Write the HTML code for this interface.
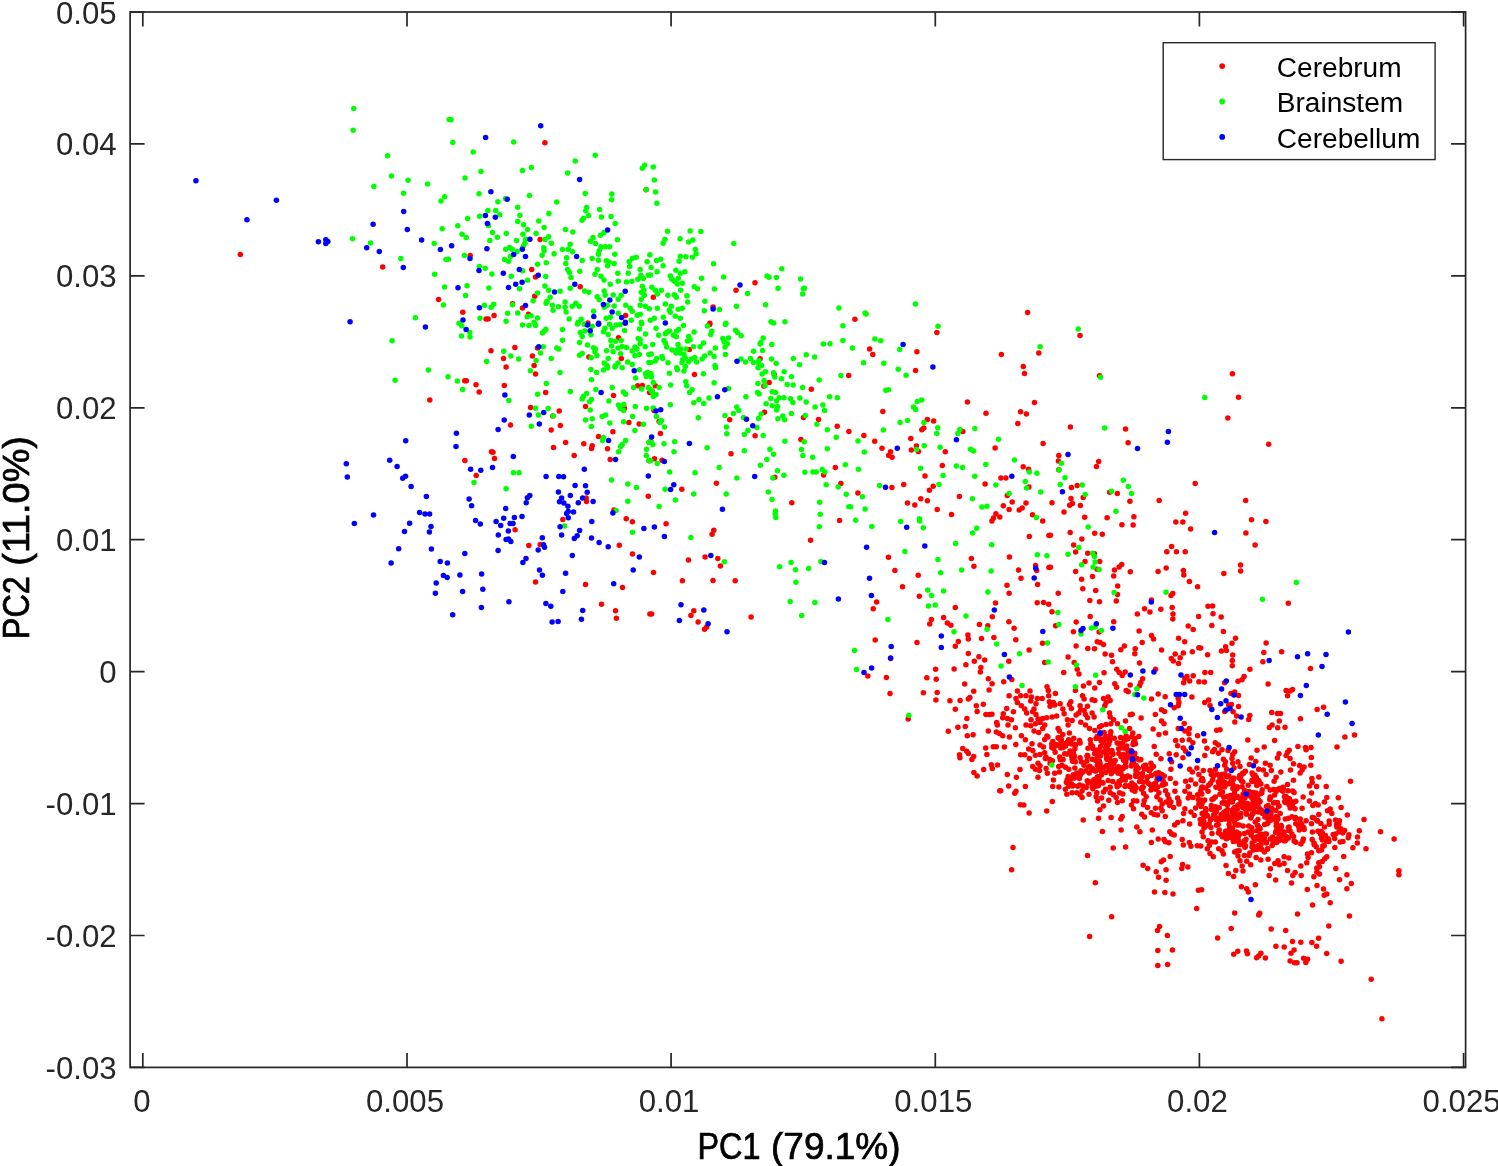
<!DOCTYPE html>
<html><head><meta charset="utf-8"><title>PCA</title>
<style>html,body{margin:0;padding:0;background:#fff}svg{display:block}text{font-family:"Liberation Sans",sans-serif}</style></head>
<body>
<svg width="1498" height="1166" viewBox="0 0 1498 1166">
<rect width="1498" height="1166" fill="#fff"/>
<g fill="#f00">
<circle cx="240.3" cy="254.4" r="2.75"/>
<circle cx="382.7" cy="267.0" r="2.75"/>
<circle cx="438.6" cy="299.5" r="2.75"/>
<circle cx="544.9" cy="142.7" r="2.75"/>
<circle cx="646.1" cy="189.7" r="2.75"/>
<circle cx="540.1" cy="239.4" r="2.75"/>
<circle cx="470.2" cy="255.4" r="2.75"/>
<circle cx="531.7" cy="269.6" r="2.75"/>
<circle cx="535.5" cy="276.9" r="2.75"/>
<circle cx="736.0" cy="290.3" r="2.75"/>
<circle cx="580.2" cy="286.7" r="2.75"/>
<circle cx="653.3" cy="297.3" r="2.75"/>
<circle cx="534.7" cy="296.3" r="2.75"/>
<circle cx="625.6" cy="315.5" r="2.75"/>
<circle cx="713.1" cy="307.1" r="2.75"/>
<circle cx="709.8" cy="323.3" r="2.75"/>
<circle cx="462.8" cy="312.3" r="2.75"/>
<circle cx="486.1" cy="318.9" r="2.75"/>
<circle cx="488.1" cy="318.9" r="2.75"/>
<circle cx="494.1" cy="315.5" r="2.75"/>
<circle cx="512.5" cy="303.7" r="2.75"/>
<circle cx="522.5" cy="307.9" r="2.75"/>
<circle cx="528.5" cy="314.3" r="2.75"/>
<circle cx="587.8" cy="322.9" r="2.75"/>
<circle cx="755.0" cy="282.7" r="2.75"/>
<circle cx="854.9" cy="319.3" r="2.75"/>
<circle cx="1027.6" cy="312.5" r="2.75"/>
<circle cx="429.8" cy="400.1" r="2.75"/>
<circle cx="618.5" cy="337.7" r="2.75"/>
<circle cx="588.9" cy="357.1" r="2.75"/>
<circle cx="621.3" cy="358.6" r="2.75"/>
<circle cx="514.9" cy="347.4" r="2.75"/>
<circle cx="491.0" cy="350.8" r="2.75"/>
<circle cx="503.5" cy="358.6" r="2.75"/>
<circle cx="506.1" cy="367.1" r="2.75"/>
<circle cx="537.5" cy="348.1" r="2.75"/>
<circle cx="532.4" cy="356.0" r="2.75"/>
<circle cx="534.1" cy="365.5" r="2.75"/>
<circle cx="535.5" cy="374.1" r="2.75"/>
<circle cx="464.7" cy="380.7" r="2.75"/>
<circle cx="466.3" cy="380.7" r="2.75"/>
<circle cx="476.0" cy="384.8" r="2.75"/>
<circle cx="479.2" cy="392.0" r="2.75"/>
<circle cx="504.3" cy="385.6" r="2.75"/>
<circle cx="545.6" cy="392.4" r="2.75"/>
<circle cx="530.6" cy="407.5" r="2.75"/>
<circle cx="559.2" cy="411.0" r="2.75"/>
<circle cx="552.8" cy="416.1" r="2.75"/>
<circle cx="510.5" cy="425.1" r="2.75"/>
<circle cx="560.3" cy="425.5" r="2.75"/>
<circle cx="551.2" cy="430.1" r="2.75"/>
<circle cx="491.4" cy="451.8" r="2.75"/>
<circle cx="493.0" cy="452.2" r="2.75"/>
<circle cx="494.5" cy="458.4" r="2.75"/>
<circle cx="464.9" cy="460.4" r="2.75"/>
<circle cx="476.2" cy="475.6" r="2.75"/>
<circle cx="565.6" cy="442.5" r="2.75"/>
<circle cx="553.5" cy="447.4" r="2.75"/>
<circle cx="574.2" cy="455.4" r="2.75"/>
<circle cx="583.8" cy="443.8" r="2.75"/>
<circle cx="592.2" cy="445.8" r="2.75"/>
<circle cx="591.5" cy="448.5" r="2.75"/>
<circle cx="613.5" cy="395.6" r="2.75"/>
<circle cx="585.5" cy="406.6" r="2.75"/>
<circle cx="624.4" cy="408.2" r="2.75"/>
<circle cx="637.6" cy="385.8" r="2.75"/>
<circle cx="642.3" cy="385.5" r="2.75"/>
<circle cx="649.6" cy="392.4" r="2.75"/>
<circle cx="628.9" cy="422.6" r="2.75"/>
<circle cx="639.2" cy="423.9" r="2.75"/>
<circle cx="612.9" cy="431.8" r="2.75"/>
<circle cx="598.5" cy="436.5" r="2.75"/>
<circle cx="607.5" cy="448.8" r="2.75"/>
<circle cx="610.2" cy="459.4" r="2.75"/>
<circle cx="649.2" cy="442.5" r="2.75"/>
<circle cx="649.2" cy="460.8" r="2.75"/>
<circle cx="689.4" cy="349.4" r="2.75"/>
<circle cx="655.3" cy="385.8" r="2.75"/>
<circle cx="652.0" cy="391.1" r="2.75"/>
<circle cx="694.5" cy="374.4" r="2.75"/>
<circle cx="709.7" cy="324.6" r="2.75"/>
<circle cx="760.1" cy="358.8" r="2.75"/>
<circle cx="774.2" cy="374.4" r="2.75"/>
<circle cx="769.2" cy="382.4" r="2.75"/>
<circle cx="763.9" cy="386.0" r="2.75"/>
<circle cx="848.7" cy="375.5" r="2.75"/>
<circle cx="811.3" cy="389.2" r="2.75"/>
<circle cx="654.0" cy="410.4" r="2.75"/>
<circle cx="659.1" cy="421.5" r="2.75"/>
<circle cx="660.4" cy="433.4" r="2.75"/>
<circle cx="650.7" cy="441.2" r="2.75"/>
<circle cx="764.4" cy="412.2" r="2.75"/>
<circle cx="729.7" cy="419.8" r="2.75"/>
<circle cx="755.1" cy="435.8" r="2.75"/>
<circle cx="803.5" cy="417.5" r="2.75"/>
<circle cx="818.5" cy="419.4" r="2.75"/>
<circle cx="837.2" cy="426.2" r="2.75"/>
<circle cx="848.9" cy="431.5" r="2.75"/>
<circle cx="800.9" cy="439.6" r="2.75"/>
<circle cx="731.0" cy="453.8" r="2.75"/>
<circle cx="654.4" cy="458.8" r="2.75"/>
<circle cx="662.0" cy="460.2" r="2.75"/>
<circle cx="774.8" cy="477.2" r="2.75"/>
<circle cx="823.6" cy="474.9" r="2.75"/>
<circle cx="835.3" cy="467.5" r="2.75"/>
<circle cx="936.9" cy="332.6" r="2.75"/>
<circle cx="869.6" cy="349.0" r="2.75"/>
<circle cx="872.8" cy="354.4" r="2.75"/>
<circle cx="916.9" cy="351.7" r="2.75"/>
<circle cx="915.5" cy="370.5" r="2.75"/>
<circle cx="1001.4" cy="354.6" r="2.75"/>
<circle cx="1038.8" cy="353.0" r="2.75"/>
<circle cx="1023.3" cy="366.4" r="2.75"/>
<circle cx="1024.5" cy="373.6" r="2.75"/>
<circle cx="882.8" cy="411.6" r="2.75"/>
<circle cx="967.4" cy="401.9" r="2.75"/>
<circle cx="1034.5" cy="402.6" r="2.75"/>
<circle cx="986.0" cy="413.2" r="2.75"/>
<circle cx="1020.6" cy="411.8" r="2.75"/>
<circle cx="1026.4" cy="414.1" r="2.75"/>
<circle cx="1017.8" cy="423.4" r="2.75"/>
<circle cx="927.3" cy="419.4" r="2.75"/>
<circle cx="933.6" cy="421.1" r="2.75"/>
<circle cx="923.8" cy="428.1" r="2.75"/>
<circle cx="921.8" cy="429.8" r="2.75"/>
<circle cx="962.8" cy="431.5" r="2.75"/>
<circle cx="863.9" cy="435.4" r="2.75"/>
<circle cx="874.7" cy="441.3" r="2.75"/>
<circle cx="910.8" cy="438.4" r="2.75"/>
<circle cx="882.0" cy="448.2" r="2.75"/>
<circle cx="890.5" cy="451.8" r="2.75"/>
<circle cx="888.7" cy="455.6" r="2.75"/>
<circle cx="892.1" cy="457.2" r="2.75"/>
<circle cx="916.4" cy="446.1" r="2.75"/>
<circle cx="911.3" cy="450.1" r="2.75"/>
<circle cx="918.4" cy="451.4" r="2.75"/>
<circle cx="945.3" cy="451.7" r="2.75"/>
<circle cx="995.1" cy="448.1" r="2.75"/>
<circle cx="1043.1" cy="443.4" r="2.75"/>
<circle cx="942.3" cy="465.6" r="2.75"/>
<circle cx="1023.2" cy="466.8" r="2.75"/>
<circle cx="1028.6" cy="469.2" r="2.75"/>
<circle cx="925.0" cy="476.1" r="2.75"/>
<circle cx="1000.9" cy="477.9" r="2.75"/>
<circle cx="1005.9" cy="477.9" r="2.75"/>
<circle cx="1080.0" cy="335.6" r="2.75"/>
<circle cx="1099.5" cy="375.7" r="2.75"/>
<circle cx="1232.4" cy="373.7" r="2.75"/>
<circle cx="1238.5" cy="397.3" r="2.75"/>
<circle cx="1227.8" cy="418.1" r="2.75"/>
<circle cx="1070.4" cy="426.9" r="2.75"/>
<circle cx="1125.5" cy="429.1" r="2.75"/>
<circle cx="1128.1" cy="442.8" r="2.75"/>
<circle cx="1268.7" cy="444.2" r="2.75"/>
<circle cx="1058.8" cy="455.4" r="2.75"/>
<circle cx="1058.4" cy="461.0" r="2.75"/>
<circle cx="1098.7" cy="461.4" r="2.75"/>
<circle cx="1096.5" cy="466.6" r="2.75"/>
<circle cx="1058.8" cy="469.8" r="2.75"/>
<circle cx="1071.4" cy="487.6" r="2.75"/>
<circle cx="1077.2" cy="485.4" r="2.75"/>
<circle cx="1109.7" cy="492.2" r="2.75"/>
<circle cx="1117.3" cy="493.4" r="2.75"/>
<circle cx="1083.2" cy="497.6" r="2.75"/>
<circle cx="1071.0" cy="498.6" r="2.75"/>
<circle cx="1052.0" cy="502.8" r="2.75"/>
<circle cx="1072.4" cy="503.6" r="2.75"/>
<circle cx="1069.6" cy="505.2" r="2.75"/>
<circle cx="1080.4" cy="505.6" r="2.75"/>
<circle cx="1129.9" cy="501.2" r="2.75"/>
<circle cx="1159.2" cy="500.6" r="2.75"/>
<circle cx="1195.2" cy="483.4" r="2.75"/>
<circle cx="1245.7" cy="500.4" r="2.75"/>
<circle cx="1064.0" cy="512.0" r="2.75"/>
<circle cx="1084.7" cy="517.3" r="2.75"/>
<circle cx="1107.1" cy="517.7" r="2.75"/>
<circle cx="1133.9" cy="516.7" r="2.75"/>
<circle cx="1185.6" cy="513.2" r="2.75"/>
<circle cx="1175.8" cy="521.9" r="2.75"/>
<circle cx="1182.8" cy="521.9" r="2.75"/>
<circle cx="1251.5" cy="519.7" r="2.75"/>
<circle cx="1265.9" cy="521.5" r="2.75"/>
<circle cx="1121.9" cy="524.7" r="2.75"/>
<circle cx="1133.1" cy="524.9" r="2.75"/>
<circle cx="1190.6" cy="528.9" r="2.75"/>
<circle cx="1245.9" cy="532.9" r="2.75"/>
<circle cx="1070.2" cy="532.5" r="2.75"/>
<circle cx="1094.7" cy="533.3" r="2.75"/>
<circle cx="1102.3" cy="534.3" r="2.75"/>
<circle cx="1050.4" cy="535.3" r="2.75"/>
<circle cx="1081.8" cy="538.9" r="2.75"/>
<circle cx="1255.1" cy="544.9" r="2.75"/>
<circle cx="1073.6" cy="545.1" r="2.75"/>
<circle cx="1171.6" cy="546.5" r="2.75"/>
<circle cx="1166.8" cy="551.7" r="2.75"/>
<circle cx="1176.4" cy="551.7" r="2.75"/>
<circle cx="1185.2" cy="551.7" r="2.75"/>
<circle cx="1075.6" cy="552.1" r="2.75"/>
<circle cx="1087.7" cy="553.3" r="2.75"/>
<circle cx="1094.5" cy="553.7" r="2.75"/>
<circle cx="586.2" cy="498.0" r="2.75"/>
<circle cx="586.5" cy="501.4" r="2.75"/>
<circle cx="562.8" cy="519.5" r="2.75"/>
<circle cx="619.3" cy="545.2" r="2.75"/>
<circle cx="648.3" cy="496.3" r="2.75"/>
<circle cx="614.0" cy="510.0" r="2.75"/>
<circle cx="626.2" cy="518.7" r="2.75"/>
<circle cx="632.4" cy="521.8" r="2.75"/>
<circle cx="632.5" cy="554.1" r="2.75"/>
<circle cx="515.1" cy="529.7" r="2.75"/>
<circle cx="528.8" cy="545.4" r="2.75"/>
<circle cx="540.2" cy="544.5" r="2.75"/>
<circle cx="535.5" cy="582.1" r="2.75"/>
<circle cx="585.5" cy="584.5" r="2.75"/>
<circle cx="622.5" cy="587.6" r="2.75"/>
<circle cx="601.5" cy="604.2" r="2.75"/>
<circle cx="615.5" cy="610.7" r="2.75"/>
<circle cx="616.4" cy="618.3" r="2.75"/>
<circle cx="649.9" cy="613.9" r="2.75"/>
<circle cx="681.8" cy="489.2" r="2.75"/>
<circle cx="716.4" cy="483.3" r="2.75"/>
<circle cx="666.1" cy="523.8" r="2.75"/>
<circle cx="713.8" cy="530.2" r="2.75"/>
<circle cx="712.1" cy="534.3" r="2.75"/>
<circle cx="791.8" cy="502.7" r="2.75"/>
<circle cx="840.9" cy="483.6" r="2.75"/>
<circle cx="839.5" cy="520.6" r="2.75"/>
<circle cx="810.6" cy="540.2" r="2.75"/>
<circle cx="688.5" cy="560.1" r="2.75"/>
<circle cx="705.1" cy="556.9" r="2.75"/>
<circle cx="717.8" cy="558.5" r="2.75"/>
<circle cx="720.4" cy="566.0" r="2.75"/>
<circle cx="653.5" cy="572.5" r="2.75"/>
<circle cx="682.4" cy="580.7" r="2.75"/>
<circle cx="713.0" cy="580.4" r="2.75"/>
<circle cx="735.2" cy="580.7" r="2.75"/>
<circle cx="751.1" cy="616.9" r="2.75"/>
<circle cx="693.8" cy="610.8" r="2.75"/>
<circle cx="690.9" cy="615.6" r="2.75"/>
<circle cx="651.6" cy="614.0" r="2.75"/>
<circle cx="698.1" cy="621.9" r="2.75"/>
<circle cx="706.7" cy="626.9" r="2.75"/>
<circle cx="704.5" cy="629.3" r="2.75"/>
<circle cx="891.9" cy="487.4" r="2.75"/>
<circle cx="903.7" cy="484.4" r="2.75"/>
<circle cx="857.9" cy="492.9" r="2.75"/>
<circle cx="933.2" cy="486.3" r="2.75"/>
<circle cx="929.4" cy="490.3" r="2.75"/>
<circle cx="920.8" cy="498.7" r="2.75"/>
<circle cx="927.4" cy="500.8" r="2.75"/>
<circle cx="907.5" cy="503.0" r="2.75"/>
<circle cx="914.8" cy="505.0" r="2.75"/>
<circle cx="937.2" cy="509.6" r="2.75"/>
<circle cx="951.5" cy="514.5" r="2.75"/>
<circle cx="959.4" cy="496.4" r="2.75"/>
<circle cx="985.1" cy="484.1" r="2.75"/>
<circle cx="1028.9" cy="487.1" r="2.75"/>
<circle cx="1007.3" cy="495.6" r="2.75"/>
<circle cx="1012.2" cy="502.0" r="2.75"/>
<circle cx="1026.0" cy="503.1" r="2.75"/>
<circle cx="1003.3" cy="505.8" r="2.75"/>
<circle cx="1009.1" cy="509.5" r="2.75"/>
<circle cx="1022.2" cy="508.0" r="2.75"/>
<circle cx="1019.2" cy="510.0" r="2.75"/>
<circle cx="995.9" cy="513.8" r="2.75"/>
<circle cx="999.8" cy="516.9" r="2.75"/>
<circle cx="993.5" cy="517.9" r="2.75"/>
<circle cx="991.9" cy="520.9" r="2.75"/>
<circle cx="1032.5" cy="514.7" r="2.75"/>
<circle cx="1042.7" cy="521.1" r="2.75"/>
<circle cx="1029.3" cy="536.6" r="2.75"/>
<circle cx="1048.9" cy="535.4" r="2.75"/>
<circle cx="888.5" cy="557.3" r="2.75"/>
<circle cx="971.4" cy="558.5" r="2.75"/>
<circle cx="973.9" cy="566.2" r="2.75"/>
<circle cx="1009.4" cy="557.0" r="2.75"/>
<circle cx="894.9" cy="570.5" r="2.75"/>
<circle cx="918.2" cy="575.2" r="2.75"/>
<circle cx="1018.5" cy="570.1" r="2.75"/>
<circle cx="1035.6" cy="565.5" r="2.75"/>
<circle cx="1036.7" cy="570.5" r="2.75"/>
<circle cx="1048.9" cy="567.5" r="2.75"/>
<circle cx="1021.0" cy="578.3" r="2.75"/>
<circle cx="1037.6" cy="584.4" r="2.75"/>
<circle cx="902.5" cy="586.7" r="2.75"/>
<circle cx="1007.0" cy="585.3" r="2.75"/>
<circle cx="919.3" cy="596.3" r="2.75"/>
<circle cx="1009.1" cy="593.2" r="2.75"/>
<circle cx="876.6" cy="601.9" r="2.75"/>
<circle cx="873.2" cy="608.7" r="2.75"/>
<circle cx="955.3" cy="607.4" r="2.75"/>
<circle cx="995.5" cy="603.0" r="2.75"/>
<circle cx="1037.2" cy="602.8" r="2.75"/>
<circle cx="1043.6" cy="602.6" r="2.75"/>
<circle cx="1048.7" cy="604.2" r="2.75"/>
<circle cx="992.3" cy="616.7" r="2.75"/>
<circle cx="931.4" cy="619.5" r="2.75"/>
<circle cx="929.7" cy="623.9" r="2.75"/>
<circle cx="943.6" cy="617.4" r="2.75"/>
<circle cx="947.3" cy="622.9" r="2.75"/>
<circle cx="950.9" cy="625.3" r="2.75"/>
<circle cx="979.4" cy="624.5" r="2.75"/>
<circle cx="987.8" cy="625.8" r="2.75"/>
<circle cx="1008.9" cy="621.8" r="2.75"/>
<circle cx="1014.1" cy="628.2" r="2.75"/>
<circle cx="967.9" cy="635.0" r="2.75"/>
<circle cx="968.3" cy="639.0" r="2.75"/>
<circle cx="875.2" cy="640.0" r="2.75"/>
<circle cx="917.0" cy="642.4" r="2.75"/>
<circle cx="958.3" cy="641.4" r="2.75"/>
<circle cx="955.3" cy="646.2" r="2.75"/>
<circle cx="981.5" cy="638.4" r="2.75"/>
<circle cx="993.9" cy="637.6" r="2.75"/>
<circle cx="890.6" cy="658.4" r="2.75"/>
<circle cx="867.8" cy="675.9" r="2.75"/>
<circle cx="886.4" cy="677.5" r="2.75"/>
<circle cx="890.0" cy="693.5" r="2.75"/>
<circle cx="935.6" cy="669.2" r="2.75"/>
<circle cx="926.8" cy="677.7" r="2.75"/>
<circle cx="936.2" cy="679.3" r="2.75"/>
<circle cx="923.4" cy="692.7" r="2.75"/>
<circle cx="937.2" cy="692.5" r="2.75"/>
<circle cx="935.9" cy="699.9" r="2.75"/>
<circle cx="954.1" cy="668.9" r="2.75"/>
<circle cx="965.9" cy="664.8" r="2.75"/>
<circle cx="968.3" cy="653.4" r="2.75"/>
<circle cx="978.9" cy="656.8" r="2.75"/>
<circle cx="974.3" cy="661.2" r="2.75"/>
<circle cx="984.7" cy="660.0" r="2.75"/>
<circle cx="980.9" cy="667.5" r="2.75"/>
<circle cx="980.3" cy="672.0" r="2.75"/>
<circle cx="988.3" cy="678.7" r="2.75"/>
<circle cx="992.1" cy="683.7" r="2.75"/>
<circle cx="964.7" cy="683.9" r="2.75"/>
<circle cx="973.7" cy="691.3" r="2.75"/>
<circle cx="989.1" cy="689.9" r="2.75"/>
<circle cx="968.3" cy="699.1" r="2.75"/>
<circle cx="969.9" cy="697.5" r="2.75"/>
<circle cx="949.9" cy="700.7" r="2.75"/>
<circle cx="960.1" cy="700.5" r="2.75"/>
<circle cx="976.3" cy="705.7" r="2.75"/>
<circle cx="983.3" cy="704.3" r="2.75"/>
<circle cx="955.3" cy="709.3" r="2.75"/>
<circle cx="977.1" cy="711.5" r="2.75"/>
<circle cx="985.9" cy="714.5" r="2.75"/>
<circle cx="989.3" cy="714.5" r="2.75"/>
<circle cx="991.9" cy="714.3" r="2.75"/>
<circle cx="966.9" cy="718.5" r="2.75"/>
<circle cx="908.2" cy="719.1" r="2.75"/>
<circle cx="957.9" cy="727.3" r="2.75"/>
<circle cx="965.3" cy="726.5" r="2.75"/>
<circle cx="948.3" cy="731.3" r="2.75"/>
<circle cx="967.3" cy="735.7" r="2.75"/>
<circle cx="973.1" cy="734.7" r="2.75"/>
<circle cx="988.3" cy="731.1" r="2.75"/>
<circle cx="996.7" cy="722.5" r="2.75"/>
<circle cx="997.3" cy="725.1" r="2.75"/>
<circle cx="996.3" cy="732.1" r="2.75"/>
<circle cx="999.3" cy="733.5" r="2.75"/>
<circle cx="962.7" cy="748.5" r="2.75"/>
<circle cx="966.7" cy="751.2" r="2.75"/>
<circle cx="968.3" cy="753.6" r="2.75"/>
<circle cx="959.5" cy="754.8" r="2.75"/>
<circle cx="959.9" cy="757.8" r="2.75"/>
<circle cx="973.7" cy="756.4" r="2.75"/>
<circle cx="971.9" cy="759.6" r="2.75"/>
<circle cx="985.7" cy="748.1" r="2.75"/>
<circle cx="986.9" cy="754.4" r="2.75"/>
<circle cx="993.3" cy="746.8" r="2.75"/>
<circle cx="996.3" cy="746.8" r="2.75"/>
<circle cx="991.3" cy="764.8" r="2.75"/>
<circle cx="997.5" cy="765.0" r="2.75"/>
<circle cx="992.3" cy="768.6" r="2.75"/>
<circle cx="983.7" cy="769.6" r="2.75"/>
<circle cx="973.9" cy="772.4" r="2.75"/>
<circle cx="977.1" cy="776.0" r="2.75"/>
<circle cx="999.7" cy="790.8" r="2.75"/>
<circle cx="1085.0" cy="561.4" r="2.75"/>
<circle cx="1099.7" cy="561.6" r="2.75"/>
<circle cx="1097.1" cy="569.2" r="2.75"/>
<circle cx="1050.4" cy="567.2" r="2.75"/>
<circle cx="1075.6" cy="571.6" r="2.75"/>
<circle cx="1121.7" cy="564.4" r="2.75"/>
<circle cx="1119.1" cy="567.0" r="2.75"/>
<circle cx="1114.5" cy="570.0" r="2.75"/>
<circle cx="1130.3" cy="571.8" r="2.75"/>
<circle cx="1113.7" cy="576.0" r="2.75"/>
<circle cx="1092.5" cy="576.6" r="2.75"/>
<circle cx="1081.6" cy="579.2" r="2.75"/>
<circle cx="1117.7" cy="586.0" r="2.75"/>
<circle cx="1082.8" cy="588.8" r="2.75"/>
<circle cx="1095.7" cy="590.6" r="2.75"/>
<circle cx="1117.5" cy="594.5" r="2.75"/>
<circle cx="1058.2" cy="593.2" r="2.75"/>
<circle cx="1089.8" cy="600.5" r="2.75"/>
<circle cx="1099.5" cy="601.7" r="2.75"/>
<circle cx="1116.3" cy="601.1" r="2.75"/>
<circle cx="1166.2" cy="568.0" r="2.75"/>
<circle cx="1158.1" cy="571.6" r="2.75"/>
<circle cx="1183.4" cy="570.4" r="2.75"/>
<circle cx="1183.8" cy="575.0" r="2.75"/>
<circle cx="1189.4" cy="581.4" r="2.75"/>
<circle cx="1197.6" cy="586.8" r="2.75"/>
<circle cx="1223.8" cy="573.6" r="2.75"/>
<circle cx="1240.5" cy="565.0" r="2.75"/>
<circle cx="1240.7" cy="571.0" r="2.75"/>
<circle cx="1172.8" cy="593.5" r="2.75"/>
<circle cx="1171.0" cy="595.6" r="2.75"/>
<circle cx="1151.5" cy="600.1" r="2.75"/>
<circle cx="1288.3" cy="603.3" r="2.75"/>
<circle cx="1172.2" cy="607.5" r="2.75"/>
<circle cx="1160.8" cy="609.3" r="2.75"/>
<circle cx="1144.5" cy="608.7" r="2.75"/>
<circle cx="1149.9" cy="611.9" r="2.75"/>
<circle cx="1137.3" cy="614.1" r="2.75"/>
<circle cx="1173.0" cy="614.1" r="2.75"/>
<circle cx="1172.8" cy="618.9" r="2.75"/>
<circle cx="1208.0" cy="606.3" r="2.75"/>
<circle cx="1212.6" cy="605.9" r="2.75"/>
<circle cx="1213.0" cy="613.7" r="2.75"/>
<circle cx="1198.6" cy="616.5" r="2.75"/>
<circle cx="1221.2" cy="617.1" r="2.75"/>
<circle cx="1052.0" cy="611.7" r="2.75"/>
<circle cx="1090.2" cy="616.5" r="2.75"/>
<circle cx="1076.2" cy="621.9" r="2.75"/>
<circle cx="1113.7" cy="621.7" r="2.75"/>
<circle cx="1055.6" cy="625.7" r="2.75"/>
<circle cx="1073.4" cy="631.7" r="2.75"/>
<circle cx="1139.1" cy="631.1" r="2.75"/>
<circle cx="1188.2" cy="626.1" r="2.75"/>
<circle cx="1193.2" cy="629.5" r="2.75"/>
<circle cx="1211.8" cy="625.5" r="2.75"/>
<circle cx="1223.4" cy="631.5" r="2.75"/>
<circle cx="1099.1" cy="632.1" r="2.75"/>
<circle cx="1015.8" cy="639.7" r="2.75"/>
<circle cx="1151.5" cy="635.4" r="2.75"/>
<circle cx="1153.5" cy="639.0" r="2.75"/>
<circle cx="1178.6" cy="638.3" r="2.75"/>
<circle cx="1184.7" cy="641.7" r="2.75"/>
<circle cx="1042.5" cy="643.3" r="2.75"/>
<circle cx="1076.1" cy="646.0" r="2.75"/>
<circle cx="1097.2" cy="641.7" r="2.75"/>
<circle cx="1100.1" cy="642.6" r="2.75"/>
<circle cx="1103.5" cy="644.4" r="2.75"/>
<circle cx="1087.8" cy="648.4" r="2.75"/>
<circle cx="1094.5" cy="648.8" r="2.75"/>
<circle cx="1124.4" cy="646.0" r="2.75"/>
<circle cx="1120.8" cy="649.7" r="2.75"/>
<circle cx="1142.2" cy="642.6" r="2.75"/>
<circle cx="1135.2" cy="648.8" r="2.75"/>
<circle cx="1134.8" cy="653.7" r="2.75"/>
<circle cx="1161.5" cy="650.1" r="2.75"/>
<circle cx="1192.3" cy="651.7" r="2.75"/>
<circle cx="1198.9" cy="647.7" r="2.75"/>
<circle cx="1183.3" cy="653.0" r="2.75"/>
<circle cx="1175.2" cy="654.1" r="2.75"/>
<circle cx="1180.2" cy="657.7" r="2.75"/>
<circle cx="1171.3" cy="658.4" r="2.75"/>
<circle cx="1173.3" cy="661.0" r="2.75"/>
<circle cx="1178.5" cy="663.4" r="2.75"/>
<circle cx="1029.1" cy="650.0" r="2.75"/>
<circle cx="1008.8" cy="661.3" r="2.75"/>
<circle cx="1044.7" cy="662.6" r="2.75"/>
<circle cx="1068.1" cy="657.0" r="2.75"/>
<circle cx="1074.2" cy="662.6" r="2.75"/>
<circle cx="1077.2" cy="669.3" r="2.75"/>
<circle cx="1079.0" cy="674.0" r="2.75"/>
<circle cx="1063.7" cy="672.6" r="2.75"/>
<circle cx="1105.2" cy="654.0" r="2.75"/>
<circle cx="1111.5" cy="655.3" r="2.75"/>
<circle cx="1112.5" cy="661.8" r="2.75"/>
<circle cx="1139.5" cy="663.0" r="2.75"/>
<circle cx="1116.8" cy="669.3" r="2.75"/>
<circle cx="1119.2" cy="672.6" r="2.75"/>
<circle cx="1125.2" cy="672.1" r="2.75"/>
<circle cx="1122.2" cy="675.5" r="2.75"/>
<circle cx="1155.5" cy="669.3" r="2.75"/>
<circle cx="1186.9" cy="676.4" r="2.75"/>
<circle cx="1193.2" cy="675.7" r="2.75"/>
<circle cx="1184.9" cy="678.4" r="2.75"/>
<circle cx="1189.6" cy="681.1" r="2.75"/>
<circle cx="1183.6" cy="682.7" r="2.75"/>
<circle cx="1198.9" cy="681.7" r="2.75"/>
<circle cx="1104.1" cy="672.8" r="2.75"/>
<circle cx="1011.8" cy="679.5" r="2.75"/>
<circle cx="1003.7" cy="681.7" r="2.75"/>
<circle cx="1047.0" cy="686.8" r="2.75"/>
<circle cx="1048.3" cy="690.4" r="2.75"/>
<circle cx="1089.0" cy="683.1" r="2.75"/>
<circle cx="1099.5" cy="682.4" r="2.75"/>
<circle cx="1083.4" cy="686.1" r="2.75"/>
<circle cx="1075.4" cy="690.4" r="2.75"/>
<circle cx="1094.8" cy="688.1" r="2.75"/>
<circle cx="1114.8" cy="683.7" r="2.75"/>
<circle cx="1116.6" cy="687.3" r="2.75"/>
<circle cx="1130.2" cy="685.1" r="2.75"/>
<circle cx="1126.2" cy="690.4" r="2.75"/>
<circle cx="1128.2" cy="691.7" r="2.75"/>
<circle cx="1142.6" cy="678.8" r="2.75"/>
<circle cx="1140.8" cy="682.4" r="2.75"/>
<circle cx="1139.5" cy="685.7" r="2.75"/>
<circle cx="1151.5" cy="699.1" r="2.75"/>
<circle cx="1158.2" cy="694.0" r="2.75"/>
<circle cx="1165.2" cy="696.7" r="2.75"/>
<circle cx="1191.9" cy="697.1" r="2.75"/>
<circle cx="1178.2" cy="698.4" r="2.75"/>
<circle cx="1178.9" cy="702.4" r="2.75"/>
<circle cx="1178.2" cy="705.8" r="2.75"/>
<circle cx="1174.2" cy="707.8" r="2.75"/>
<circle cx="1161.5" cy="709.8" r="2.75"/>
<circle cx="1164.6" cy="711.4" r="2.75"/>
<circle cx="1155.3" cy="714.4" r="2.75"/>
<circle cx="1141.1" cy="718.0" r="2.75"/>
<circle cx="1130.2" cy="714.7" r="2.75"/>
<circle cx="1132.2" cy="714.2" r="2.75"/>
<circle cx="1125.5" cy="720.9" r="2.75"/>
<circle cx="1161.5" cy="721.1" r="2.75"/>
<circle cx="1164.0" cy="723.8" r="2.75"/>
<circle cx="1184.2" cy="723.5" r="2.75"/>
<circle cx="1178.2" cy="728.5" r="2.75"/>
<circle cx="1189.3" cy="728.5" r="2.75"/>
<circle cx="1184.9" cy="731.1" r="2.75"/>
<circle cx="1188.9" cy="733.8" r="2.75"/>
<circle cx="1153.1" cy="728.9" r="2.75"/>
<circle cx="1158.9" cy="734.5" r="2.75"/>
<circle cx="1165.5" cy="733.1" r="2.75"/>
<circle cx="1197.6" cy="735.8" r="2.75"/>
<circle cx="1175.6" cy="740.5" r="2.75"/>
<circle cx="1182.2" cy="740.2" r="2.75"/>
<circle cx="1189.3" cy="739.8" r="2.75"/>
<circle cx="1192.9" cy="742.8" r="2.75"/>
<circle cx="1177.6" cy="745.8" r="2.75"/>
<circle cx="1183.3" cy="748.1" r="2.75"/>
<circle cx="1185.6" cy="751.2" r="2.75"/>
<circle cx="1154.2" cy="746.5" r="2.75"/>
<circle cx="1156.2" cy="754.2" r="2.75"/>
<circle cx="1160.9" cy="758.8" r="2.75"/>
<circle cx="1169.3" cy="753.8" r="2.75"/>
<circle cx="1176.2" cy="754.8" r="2.75"/>
<circle cx="1171.6" cy="761.8" r="2.75"/>
<circle cx="1182.9" cy="757.8" r="2.75"/>
<circle cx="1170.9" cy="769.2" r="2.75"/>
<circle cx="1189.6" cy="769.2" r="2.75"/>
<circle cx="1192.3" cy="771.9" r="2.75"/>
<circle cx="1196.9" cy="767.9" r="2.75"/>
<circle cx="1198.9" cy="774.5" r="2.75"/>
<circle cx="1150.9" cy="763.2" r="2.75"/>
<circle cx="1153.5" cy="766.5" r="2.75"/>
<circle cx="1140.8" cy="759.6" r="2.75"/>
<circle cx="1134.8" cy="753.2" r="2.75"/>
<circle cx="1017.4" cy="691.1" r="2.75"/>
<circle cx="1030.0" cy="691.1" r="2.75"/>
<circle cx="1009.1" cy="695.8" r="2.75"/>
<circle cx="1020.7" cy="695.8" r="2.75"/>
<circle cx="1026.0" cy="695.8" r="2.75"/>
<circle cx="1031.4" cy="697.1" r="2.75"/>
<circle cx="1037.4" cy="698.4" r="2.75"/>
<circle cx="1042.1" cy="698.4" r="2.75"/>
<circle cx="1016.0" cy="698.4" r="2.75"/>
<circle cx="1048.7" cy="695.8" r="2.75"/>
<circle cx="1055.4" cy="693.4" r="2.75"/>
<circle cx="1082.5" cy="695.8" r="2.75"/>
<circle cx="1084.1" cy="699.1" r="2.75"/>
<circle cx="1092.1" cy="699.8" r="2.75"/>
<circle cx="1094.8" cy="700.4" r="2.75"/>
<circle cx="1103.5" cy="698.4" r="2.75"/>
<circle cx="1108.1" cy="697.1" r="2.75"/>
<circle cx="1110.2" cy="700.4" r="2.75"/>
<circle cx="1106.1" cy="702.4" r="2.75"/>
<circle cx="1104.8" cy="705.8" r="2.75"/>
<circle cx="1070.8" cy="701.8" r="2.75"/>
<circle cx="1069.4" cy="704.4" r="2.75"/>
<circle cx="1071.4" cy="708.4" r="2.75"/>
<circle cx="1080.1" cy="705.8" r="2.75"/>
<circle cx="1080.8" cy="709.8" r="2.75"/>
<circle cx="1087.5" cy="706.2" r="2.75"/>
<circle cx="1049.4" cy="701.8" r="2.75"/>
<circle cx="1053.4" cy="702.4" r="2.75"/>
<circle cx="1050.1" cy="706.2" r="2.75"/>
<circle cx="1054.7" cy="705.1" r="2.75"/>
<circle cx="1060.1" cy="703.8" r="2.75"/>
<circle cx="1062.8" cy="709.1" r="2.75"/>
<circle cx="1064.1" cy="713.8" r="2.75"/>
<circle cx="1017.4" cy="702.4" r="2.75"/>
<circle cx="1021.4" cy="705.8" r="2.75"/>
<circle cx="1024.7" cy="709.1" r="2.75"/>
<circle cx="1026.7" cy="713.1" r="2.75"/>
<circle cx="1030.7" cy="701.1" r="2.75"/>
<circle cx="1036.0" cy="703.8" r="2.75"/>
<circle cx="1034.0" cy="709.1" r="2.75"/>
<circle cx="1032.7" cy="711.8" r="2.75"/>
<circle cx="1036.0" cy="714.4" r="2.75"/>
<circle cx="1006.7" cy="708.4" r="2.75"/>
<circle cx="1013.4" cy="711.8" r="2.75"/>
<circle cx="1003.3" cy="713.8" r="2.75"/>
<circle cx="1002.7" cy="717.8" r="2.75"/>
<circle cx="1007.3" cy="718.5" r="2.75"/>
<circle cx="1011.4" cy="719.8" r="2.75"/>
<circle cx="1008.0" cy="725.1" r="2.75"/>
<circle cx="1015.4" cy="727.8" r="2.75"/>
<circle cx="1031.0" cy="719.8" r="2.75"/>
<circle cx="1038.0" cy="719.1" r="2.75"/>
<circle cx="1042.7" cy="718.5" r="2.75"/>
<circle cx="1046.7" cy="717.8" r="2.75"/>
<circle cx="1052.1" cy="717.1" r="2.75"/>
<circle cx="1056.7" cy="716.0" r="2.75"/>
<circle cx="1026.0" cy="725.1" r="2.75"/>
<circle cx="1030.7" cy="725.8" r="2.75"/>
<circle cx="1035.4" cy="723.8" r="2.75"/>
<circle cx="1040.0" cy="722.5" r="2.75"/>
<circle cx="1044.7" cy="725.1" r="2.75"/>
<circle cx="1042.7" cy="728.5" r="2.75"/>
<circle cx="1038.7" cy="732.5" r="2.75"/>
<circle cx="1034.0" cy="731.1" r="2.75"/>
<circle cx="1067.4" cy="719.8" r="2.75"/>
<circle cx="1072.1" cy="720.5" r="2.75"/>
<circle cx="1076.1" cy="715.1" r="2.75"/>
<circle cx="1078.8" cy="713.1" r="2.75"/>
<circle cx="1084.1" cy="710.4" r="2.75"/>
<circle cx="1085.5" cy="714.4" r="2.75"/>
<circle cx="1087.5" cy="717.8" r="2.75"/>
<circle cx="1092.1" cy="713.1" r="2.75"/>
<circle cx="1094.1" cy="717.1" r="2.75"/>
<circle cx="1080.8" cy="722.2" r="2.75"/>
<circle cx="1085.5" cy="725.1" r="2.75"/>
<circle cx="1089.5" cy="728.5" r="2.75"/>
<circle cx="1094.8" cy="730.5" r="2.75"/>
<circle cx="1068.1" cy="725.1" r="2.75"/>
<circle cx="1058.1" cy="728.5" r="2.75"/>
<circle cx="1059.4" cy="731.1" r="2.75"/>
<circle cx="1109.5" cy="713.1" r="2.75"/>
<circle cx="1110.2" cy="717.1" r="2.75"/>
<circle cx="1113.5" cy="719.8" r="2.75"/>
<circle cx="1117.5" cy="723.8" r="2.75"/>
<circle cx="1110.8" cy="723.8" r="2.75"/>
<circle cx="1106.1" cy="724.5" r="2.75"/>
<circle cx="1101.5" cy="725.8" r="2.75"/>
<circle cx="1099.5" cy="727.1" r="2.75"/>
<circle cx="1129.5" cy="728.5" r="2.75"/>
<circle cx="1104.1" cy="732.5" r="2.75"/>
<circle cx="1110.8" cy="731.8" r="2.75"/>
<circle cx="1132.8" cy="733.1" r="2.75"/>
<circle cx="1138.8" cy="736.5" r="2.75"/>
<circle cx="1134.8" cy="738.5" r="2.75"/>
<circle cx="1002.7" cy="735.8" r="2.75"/>
<circle cx="1009.4" cy="736.9" r="2.75"/>
<circle cx="1021.4" cy="735.8" r="2.75"/>
<circle cx="1025.4" cy="739.8" r="2.75"/>
<circle cx="1015.8" cy="744.5" r="2.75"/>
<circle cx="1004.4" cy="747.1" r="2.75"/>
<circle cx="1032.0" cy="743.8" r="2.75"/>
<circle cx="1040.0" cy="745.1" r="2.75"/>
<circle cx="1043.4" cy="747.1" r="2.75"/>
<circle cx="1062.8" cy="734.5" r="2.75"/>
<circle cx="1069.4" cy="733.1" r="2.75"/>
<circle cx="1079.4" cy="740.5" r="2.75"/>
<circle cx="1080.1" cy="743.1" r="2.75"/>
<circle cx="1028.7" cy="749.1" r="2.75"/>
<circle cx="1032.7" cy="750.5" r="2.75"/>
<circle cx="1020.7" cy="754.8" r="2.75"/>
<circle cx="1024.7" cy="754.8" r="2.75"/>
<circle cx="1029.4" cy="758.5" r="2.75"/>
<circle cx="1035.4" cy="755.2" r="2.75"/>
<circle cx="1040.0" cy="754.5" r="2.75"/>
<circle cx="1080.1" cy="757.8" r="2.75"/>
<circle cx="1081.4" cy="761.8" r="2.75"/>
<circle cx="1075.4" cy="761.8" r="2.75"/>
<circle cx="1164.2" cy="775.9" r="2.75"/>
<circle cx="1170.2" cy="778.5" r="2.75"/>
<circle cx="1175.6" cy="783.2" r="2.75"/>
<circle cx="1185.6" cy="781.2" r="2.75"/>
<circle cx="1190.9" cy="779.9" r="2.75"/>
<circle cx="1195.6" cy="783.9" r="2.75"/>
<circle cx="1188.2" cy="786.5" r="2.75"/>
<circle cx="1050.1" cy="763.2" r="2.75"/>
<circle cx="1038.0" cy="763.2" r="2.75"/>
<circle cx="1040.0" cy="765.8" r="2.75"/>
<circle cx="1032.7" cy="766.5" r="2.75"/>
<circle cx="1035.4" cy="769.2" r="2.75"/>
<circle cx="1039.4" cy="770.5" r="2.75"/>
<circle cx="1046.1" cy="768.5" r="2.75"/>
<circle cx="1047.4" cy="773.2" r="2.75"/>
<circle cx="1054.7" cy="773.2" r="2.75"/>
<circle cx="1058.7" cy="766.5" r="2.75"/>
<circle cx="1062.1" cy="765.2" r="2.75"/>
<circle cx="1065.4" cy="767.2" r="2.75"/>
<circle cx="1068.8" cy="769.2" r="2.75"/>
<circle cx="1074.8" cy="767.9" r="2.75"/>
<circle cx="1059.4" cy="771.9" r="2.75"/>
<circle cx="1053.4" cy="779.9" r="2.75"/>
<circle cx="1038.0" cy="777.2" r="2.75"/>
<circle cx="1020.0" cy="769.5" r="2.75"/>
<circle cx="1007.3" cy="774.5" r="2.75"/>
<circle cx="1016.4" cy="777.2" r="2.75"/>
<circle cx="1008.7" cy="785.9" r="2.75"/>
<circle cx="1025.4" cy="786.5" r="2.75"/>
<circle cx="1052.7" cy="786.5" r="2.75"/>
<circle cx="1083.0" cy="785.9" r="2.75"/>
<circle cx="1127.3" cy="757.6" r="2.75"/>
<circle cx="1107.1" cy="759.6" r="2.75"/>
<circle cx="1079.3" cy="778.5" r="2.75"/>
<circle cx="1102.3" cy="782.5" r="2.75"/>
<circle cx="1099.2" cy="738.2" r="2.75"/>
<circle cx="1086.3" cy="787.5" r="2.75"/>
<circle cx="1099.0" cy="768.9" r="2.75"/>
<circle cx="1094.9" cy="770.7" r="2.75"/>
<circle cx="1111.9" cy="768.3" r="2.75"/>
<circle cx="1079.5" cy="785.0" r="2.75"/>
<circle cx="1120.6" cy="772.8" r="2.75"/>
<circle cx="1096.8" cy="781.1" r="2.75"/>
<circle cx="1073.2" cy="774.8" r="2.75"/>
<circle cx="1133.7" cy="785.2" r="2.75"/>
<circle cx="1115.2" cy="760.5" r="2.75"/>
<circle cx="1066.4" cy="782.6" r="2.75"/>
<circle cx="1112.9" cy="771.2" r="2.75"/>
<circle cx="1087.2" cy="755.6" r="2.75"/>
<circle cx="1099.0" cy="778.7" r="2.75"/>
<circle cx="1101.1" cy="741.1" r="2.75"/>
<circle cx="1129.6" cy="786.6" r="2.75"/>
<circle cx="1080.3" cy="774.9" r="2.75"/>
<circle cx="1106.4" cy="755.3" r="2.75"/>
<circle cx="1121.6" cy="748.0" r="2.75"/>
<circle cx="1097.2" cy="777.2" r="2.75"/>
<circle cx="1112.7" cy="771.6" r="2.75"/>
<circle cx="1100.0" cy="764.0" r="2.75"/>
<circle cx="1161.8" cy="774.5" r="2.75"/>
<circle cx="1077.7" cy="786.3" r="2.75"/>
<circle cx="1105.9" cy="736.5" r="2.75"/>
<circle cx="1123.4" cy="759.8" r="2.75"/>
<circle cx="1109.3" cy="740.5" r="2.75"/>
<circle cx="1107.1" cy="738.9" r="2.75"/>
<circle cx="1105.7" cy="772.6" r="2.75"/>
<circle cx="1135.2" cy="758.3" r="2.75"/>
<circle cx="1100.8" cy="752.1" r="2.75"/>
<circle cx="1106.4" cy="737.9" r="2.75"/>
<circle cx="1136.2" cy="771.6" r="2.75"/>
<circle cx="1097.6" cy="756.1" r="2.75"/>
<circle cx="1068.7" cy="786.2" r="2.75"/>
<circle cx="1139.5" cy="760.0" r="2.75"/>
<circle cx="1134.1" cy="743.1" r="2.75"/>
<circle cx="1138.2" cy="768.2" r="2.75"/>
<circle cx="1155.8" cy="773.6" r="2.75"/>
<circle cx="1157.8" cy="787.0" r="2.75"/>
<circle cx="1117.2" cy="786.7" r="2.75"/>
<circle cx="1098.2" cy="784.7" r="2.75"/>
<circle cx="1125.5" cy="785.6" r="2.75"/>
<circle cx="1098.3" cy="785.7" r="2.75"/>
<circle cx="1089.8" cy="766.3" r="2.75"/>
<circle cx="1148.8" cy="770.3" r="2.75"/>
<circle cx="1158.7" cy="772.7" r="2.75"/>
<circle cx="1097.4" cy="755.8" r="2.75"/>
<circle cx="1111.1" cy="761.5" r="2.75"/>
<circle cx="1087.7" cy="755.4" r="2.75"/>
<circle cx="1071.2" cy="778.4" r="2.75"/>
<circle cx="1088.0" cy="748.2" r="2.75"/>
<circle cx="1088.4" cy="781.7" r="2.75"/>
<circle cx="1102.7" cy="752.1" r="2.75"/>
<circle cx="1161.9" cy="776.2" r="2.75"/>
<circle cx="1145.6" cy="765.3" r="2.75"/>
<circle cx="1142.1" cy="776.4" r="2.75"/>
<circle cx="1100.2" cy="768.6" r="2.75"/>
<circle cx="1142.1" cy="787.6" r="2.75"/>
<circle cx="1157.1" cy="776.0" r="2.75"/>
<circle cx="1131.9" cy="736.7" r="2.75"/>
<circle cx="1108.2" cy="780.6" r="2.75"/>
<circle cx="1155.5" cy="783.8" r="2.75"/>
<circle cx="1151.1" cy="768.5" r="2.75"/>
<circle cx="1157.0" cy="780.1" r="2.75"/>
<circle cx="1128.6" cy="752.4" r="2.75"/>
<circle cx="1147.2" cy="777.6" r="2.75"/>
<circle cx="1136.2" cy="765.5" r="2.75"/>
<circle cx="1092.8" cy="748.5" r="2.75"/>
<circle cx="1096.9" cy="750.2" r="2.75"/>
<circle cx="1114.3" cy="738.2" r="2.75"/>
<circle cx="1100.3" cy="756.0" r="2.75"/>
<circle cx="1077.6" cy="773.9" r="2.75"/>
<circle cx="1118.1" cy="773.2" r="2.75"/>
<circle cx="1093.7" cy="781.4" r="2.75"/>
<circle cx="1137.4" cy="758.7" r="2.75"/>
<circle cx="1118.9" cy="784.4" r="2.75"/>
<circle cx="1165.3" cy="784.1" r="2.75"/>
<circle cx="1102.3" cy="741.3" r="2.75"/>
<circle cx="1124.3" cy="755.1" r="2.75"/>
<circle cx="1154.5" cy="783.7" r="2.75"/>
<circle cx="1132.7" cy="787.1" r="2.75"/>
<circle cx="1111.0" cy="752.4" r="2.75"/>
<circle cx="1091.7" cy="770.0" r="2.75"/>
<circle cx="1109.6" cy="739.0" r="2.75"/>
<circle cx="1140.6" cy="778.2" r="2.75"/>
<circle cx="1127.9" cy="738.8" r="2.75"/>
<circle cx="1100.8" cy="733.8" r="2.75"/>
<circle cx="1098.4" cy="784.9" r="2.75"/>
<circle cx="1095.8" cy="771.1" r="2.75"/>
<circle cx="1125.1" cy="739.9" r="2.75"/>
<circle cx="1072.3" cy="786.0" r="2.75"/>
<circle cx="1104.2" cy="767.2" r="2.75"/>
<circle cx="1123.0" cy="768.7" r="2.75"/>
<circle cx="1109.7" cy="741.3" r="2.75"/>
<circle cx="1095.7" cy="752.7" r="2.75"/>
<circle cx="1097.2" cy="752.4" r="2.75"/>
<circle cx="1118.7" cy="748.8" r="2.75"/>
<circle cx="1127.8" cy="776.0" r="2.75"/>
<circle cx="1142.4" cy="773.5" r="2.75"/>
<circle cx="1121.1" cy="746.5" r="2.75"/>
<circle cx="1126.0" cy="759.9" r="2.75"/>
<circle cx="1128.6" cy="751.0" r="2.75"/>
<circle cx="1120.5" cy="773.2" r="2.75"/>
<circle cx="1097.3" cy="765.5" r="2.75"/>
<circle cx="1107.5" cy="758.2" r="2.75"/>
<circle cx="1099.7" cy="762.5" r="2.75"/>
<circle cx="1134.5" cy="741.6" r="2.75"/>
<circle cx="1074.3" cy="778.1" r="2.75"/>
<circle cx="1068.2" cy="776.4" r="2.75"/>
<circle cx="1126.7" cy="746.0" r="2.75"/>
<circle cx="1135.5" cy="743.7" r="2.75"/>
<circle cx="1092.3" cy="786.7" r="2.75"/>
<circle cx="1137.4" cy="773.3" r="2.75"/>
<circle cx="1120.3" cy="767.8" r="2.75"/>
<circle cx="1093.9" cy="779.8" r="2.75"/>
<circle cx="1103.0" cy="783.0" r="2.75"/>
<circle cx="1058.8" cy="786.9" r="2.75"/>
<circle cx="1110.2" cy="787.2" r="2.75"/>
<circle cx="1135.3" cy="787.0" r="2.75"/>
<circle cx="1134.5" cy="785.3" r="2.75"/>
<circle cx="1129.8" cy="751.3" r="2.75"/>
<circle cx="1122.5" cy="768.7" r="2.75"/>
<circle cx="1085.8" cy="770.8" r="2.75"/>
<circle cx="1133.1" cy="744.5" r="2.75"/>
<circle cx="1101.1" cy="770.8" r="2.75"/>
<circle cx="1086.8" cy="761.2" r="2.75"/>
<circle cx="1123.1" cy="754.6" r="2.75"/>
<circle cx="1081.0" cy="770.7" r="2.75"/>
<circle cx="1133.6" cy="742.4" r="2.75"/>
<circle cx="1145.0" cy="768.6" r="2.75"/>
<circle cx="1151.3" cy="775.6" r="2.75"/>
<circle cx="1111.5" cy="772.0" r="2.75"/>
<circle cx="1092.3" cy="768.5" r="2.75"/>
<circle cx="1112.8" cy="781.6" r="2.75"/>
<circle cx="1131.8" cy="782.9" r="2.75"/>
<circle cx="1151.6" cy="786.4" r="2.75"/>
<circle cx="1124.7" cy="766.5" r="2.75"/>
<circle cx="1108.8" cy="744.2" r="2.75"/>
<circle cx="1143.8" cy="766.1" r="2.75"/>
<circle cx="1082.3" cy="772.4" r="2.75"/>
<circle cx="1122.5" cy="743.1" r="2.75"/>
<circle cx="1132.2" cy="763.5" r="2.75"/>
<circle cx="1087.2" cy="756.8" r="2.75"/>
<circle cx="1084.0" cy="765.2" r="2.75"/>
<circle cx="1148.5" cy="783.6" r="2.75"/>
<circle cx="1101.4" cy="775.0" r="2.75"/>
<circle cx="1150.3" cy="769.2" r="2.75"/>
<circle cx="1106.5" cy="765.4" r="2.75"/>
<circle cx="1110.8" cy="762.6" r="2.75"/>
<circle cx="1153.2" cy="786.6" r="2.75"/>
<circle cx="1080.1" cy="774.2" r="2.75"/>
<circle cx="1112.2" cy="752.7" r="2.75"/>
<circle cx="1110.4" cy="764.4" r="2.75"/>
<circle cx="1124.0" cy="738.2" r="2.75"/>
<circle cx="1117.2" cy="742.9" r="2.75"/>
<circle cx="1126.2" cy="736.0" r="2.75"/>
<circle cx="1094.6" cy="753.4" r="2.75"/>
<circle cx="1092.2" cy="759.2" r="2.75"/>
<circle cx="1143.7" cy="767.1" r="2.75"/>
<circle cx="1162.4" cy="785.2" r="2.75"/>
<circle cx="1109.8" cy="758.1" r="2.75"/>
<circle cx="1140.2" cy="781.2" r="2.75"/>
<circle cx="1116.5" cy="769.3" r="2.75"/>
<circle cx="1132.5" cy="760.7" r="2.75"/>
<circle cx="1113.0" cy="754.3" r="2.75"/>
<circle cx="1106.7" cy="758.5" r="2.75"/>
<circle cx="1071.3" cy="783.7" r="2.75"/>
<circle cx="1113.2" cy="771.0" r="2.75"/>
<circle cx="1156.6" cy="773.2" r="2.75"/>
<circle cx="1119.2" cy="785.3" r="2.75"/>
<circle cx="1125.4" cy="756.9" r="2.75"/>
<circle cx="1143.4" cy="782.2" r="2.75"/>
<circle cx="1096.9" cy="761.5" r="2.75"/>
<circle cx="1131.2" cy="765.9" r="2.75"/>
<circle cx="1088.2" cy="783.0" r="2.75"/>
<circle cx="1117.7" cy="772.0" r="2.75"/>
<circle cx="1132.3" cy="756.4" r="2.75"/>
<circle cx="1133.6" cy="742.5" r="2.75"/>
<circle cx="1117.3" cy="768.4" r="2.75"/>
<circle cx="1126.0" cy="748.2" r="2.75"/>
<circle cx="1110.6" cy="763.8" r="2.75"/>
<circle cx="1134.2" cy="756.4" r="2.75"/>
<circle cx="1096.0" cy="738.5" r="2.75"/>
<circle cx="1113.9" cy="764.0" r="2.75"/>
<circle cx="1121.0" cy="756.7" r="2.75"/>
<circle cx="1098.1" cy="750.3" r="2.75"/>
<circle cx="1110.7" cy="763.7" r="2.75"/>
<circle cx="1069.5" cy="779.3" r="2.75"/>
<circle cx="1106.6" cy="750.5" r="2.75"/>
<circle cx="1114.3" cy="770.6" r="2.75"/>
<circle cx="1122.3" cy="775.9" r="2.75"/>
<circle cx="1109.0" cy="769.8" r="2.75"/>
<circle cx="1103.4" cy="738.9" r="2.75"/>
<circle cx="1106.2" cy="747.3" r="2.75"/>
<circle cx="1118.6" cy="769.3" r="2.75"/>
<circle cx="1153.7" cy="787.1" r="2.75"/>
<circle cx="1097.7" cy="776.7" r="2.75"/>
<circle cx="1112.7" cy="763.4" r="2.75"/>
<circle cx="1150.3" cy="784.7" r="2.75"/>
<circle cx="1090.8" cy="744.1" r="2.75"/>
<circle cx="1105.8" cy="748.0" r="2.75"/>
<circle cx="1111.8" cy="750.6" r="2.75"/>
<circle cx="1163.4" cy="782.9" r="2.75"/>
<circle cx="1120.6" cy="737.5" r="2.75"/>
<circle cx="1118.5" cy="766.7" r="2.75"/>
<circle cx="1128.2" cy="755.7" r="2.75"/>
<circle cx="1136.2" cy="787.8" r="2.75"/>
<circle cx="1125.8" cy="766.8" r="2.75"/>
<circle cx="1117.0" cy="784.5" r="2.75"/>
<circle cx="1073.4" cy="777.7" r="2.75"/>
<circle cx="1097.4" cy="781.5" r="2.75"/>
<circle cx="1144.3" cy="769.0" r="2.75"/>
<circle cx="1097.1" cy="736.4" r="2.75"/>
<circle cx="1163.0" cy="780.7" r="2.75"/>
<circle cx="1088.7" cy="767.1" r="2.75"/>
<circle cx="1103.5" cy="742.6" r="2.75"/>
<circle cx="1163.1" cy="784.3" r="2.75"/>
<circle cx="1125.0" cy="786.6" r="2.75"/>
<circle cx="1143.2" cy="787.2" r="2.75"/>
<circle cx="1125.8" cy="748.9" r="2.75"/>
<circle cx="1125.3" cy="776.9" r="2.75"/>
<circle cx="1090.3" cy="739.7" r="2.75"/>
<circle cx="1135.8" cy="774.6" r="2.75"/>
<circle cx="1136.0" cy="769.4" r="2.75"/>
<circle cx="1095.7" cy="786.3" r="2.75"/>
<circle cx="1091.0" cy="781.9" r="2.75"/>
<circle cx="1139.6" cy="781.5" r="2.75"/>
<circle cx="1125.7" cy="762.5" r="2.75"/>
<circle cx="1161.1" cy="774.6" r="2.75"/>
<circle cx="1132.8" cy="786.9" r="2.75"/>
<circle cx="1133.5" cy="761.6" r="2.75"/>
<circle cx="1149.5" cy="770.7" r="2.75"/>
<circle cx="1094.4" cy="783.5" r="2.75"/>
<circle cx="1119.0" cy="743.3" r="2.75"/>
<circle cx="1107.2" cy="748.5" r="2.75"/>
<circle cx="1135.8" cy="776.4" r="2.75"/>
<circle cx="1120.9" cy="780.6" r="2.75"/>
<circle cx="1111.2" cy="773.8" r="2.75"/>
<circle cx="1093.2" cy="781.6" r="2.75"/>
<circle cx="1112.0" cy="753.0" r="2.75"/>
<circle cx="1130.0" cy="785.4" r="2.75"/>
<circle cx="1147.4" cy="777.0" r="2.75"/>
<circle cx="1129.9" cy="777.0" r="2.75"/>
<circle cx="1118.8" cy="753.6" r="2.75"/>
<circle cx="1092.6" cy="746.6" r="2.75"/>
<circle cx="1094.7" cy="760.0" r="2.75"/>
<circle cx="1100.6" cy="746.5" r="2.75"/>
<circle cx="1110.2" cy="735.2" r="2.75"/>
<circle cx="1125.3" cy="780.0" r="2.75"/>
<circle cx="1076.8" cy="772.9" r="2.75"/>
<circle cx="1099.3" cy="761.1" r="2.75"/>
<circle cx="1119.0" cy="781.5" r="2.75"/>
<circle cx="1067.2" cy="779.7" r="2.75"/>
<circle cx="1123.9" cy="760.6" r="2.75"/>
<circle cx="1087.3" cy="780.7" r="2.75"/>
<circle cx="1147.4" cy="768.8" r="2.75"/>
<circle cx="1089.2" cy="772.9" r="2.75"/>
<circle cx="1073.4" cy="785.5" r="2.75"/>
<circle cx="1129.7" cy="752.0" r="2.75"/>
<circle cx="1130.8" cy="750.6" r="2.75"/>
<circle cx="1087.5" cy="755.9" r="2.75"/>
<circle cx="1106.5" cy="745.0" r="2.75"/>
<circle cx="1146.8" cy="781.5" r="2.75"/>
<circle cx="1068.6" cy="739.8" r="2.75"/>
<circle cx="1073.4" cy="753.1" r="2.75"/>
<circle cx="1072.7" cy="761.2" r="2.75"/>
<circle cx="1052.1" cy="744.4" r="2.75"/>
<circle cx="1067.7" cy="742.9" r="2.75"/>
<circle cx="1052.8" cy="741.6" r="2.75"/>
<circle cx="1072.7" cy="758.0" r="2.75"/>
<circle cx="1070.7" cy="741.5" r="2.75"/>
<circle cx="1074.9" cy="748.8" r="2.75"/>
<circle cx="1051.8" cy="747.4" r="2.75"/>
<circle cx="1058.1" cy="737.8" r="2.75"/>
<circle cx="1062.9" cy="744.9" r="2.75"/>
<circle cx="1063.1" cy="759.4" r="2.75"/>
<circle cx="1065.6" cy="746.1" r="2.75"/>
<circle cx="1072.9" cy="761.0" r="2.75"/>
<circle cx="1060.4" cy="759.8" r="2.75"/>
<circle cx="1044.7" cy="739.4" r="2.75"/>
<circle cx="1049.8" cy="759.6" r="2.75"/>
<circle cx="1067.1" cy="754.0" r="2.75"/>
<circle cx="1053.6" cy="748.4" r="2.75"/>
<circle cx="1073.7" cy="738.3" r="2.75"/>
<circle cx="1047.9" cy="737.0" r="2.75"/>
<circle cx="1059.7" cy="757.1" r="2.75"/>
<circle cx="1062.6" cy="746.0" r="2.75"/>
<circle cx="1060.8" cy="740.4" r="2.75"/>
<circle cx="1075.7" cy="744.8" r="2.75"/>
<circle cx="1051.9" cy="743.7" r="2.75"/>
<circle cx="1071.6" cy="743.9" r="2.75"/>
<circle cx="1074.3" cy="744.3" r="2.75"/>
<circle cx="1058.8" cy="737.7" r="2.75"/>
<circle cx="1074.3" cy="756.0" r="2.75"/>
<circle cx="1059.9" cy="738.7" r="2.75"/>
<circle cx="1060.5" cy="745.4" r="2.75"/>
<circle cx="1072.1" cy="759.3" r="2.75"/>
<circle cx="1068.8" cy="743.1" r="2.75"/>
<circle cx="1045.4" cy="758.5" r="2.75"/>
<circle cx="1060.8" cy="748.0" r="2.75"/>
<circle cx="1046.1" cy="757.2" r="2.75"/>
<circle cx="1063.1" cy="747.5" r="2.75"/>
<circle cx="1070.0" cy="750.9" r="2.75"/>
<circle cx="1067.2" cy="742.3" r="2.75"/>
<circle cx="1046.9" cy="736.0" r="2.75"/>
<circle cx="1055.2" cy="752.2" r="2.75"/>
<circle cx="1056.7" cy="744.6" r="2.75"/>
<circle cx="1064.7" cy="753.7" r="2.75"/>
<circle cx="1063.9" cy="743.7" r="2.75"/>
<circle cx="1071.5" cy="756.1" r="2.75"/>
<circle cx="1073.9" cy="758.5" r="2.75"/>
<circle cx="1044.6" cy="752.8" r="2.75"/>
<circle cx="1055.7" cy="745.7" r="2.75"/>
<circle cx="1061.3" cy="739.5" r="2.75"/>
<circle cx="1052.4" cy="760.8" r="2.75"/>
<circle cx="1235.5" cy="638.2" r="2.75"/>
<circle cx="1232.0" cy="643.3" r="2.75"/>
<circle cx="1225.6" cy="646.8" r="2.75"/>
<circle cx="1221.4" cy="651.0" r="2.75"/>
<circle cx="1226.4" cy="650.4" r="2.75"/>
<circle cx="1207.6" cy="654.8" r="2.75"/>
<circle cx="1200.7" cy="648.0" r="2.75"/>
<circle cx="1232.7" cy="655.0" r="2.75"/>
<circle cx="1232.3" cy="660.6" r="2.75"/>
<circle cx="1232.3" cy="665.7" r="2.75"/>
<circle cx="1266.1" cy="643.1" r="2.75"/>
<circle cx="1263.8" cy="652.6" r="2.75"/>
<circle cx="1281.6" cy="651.8" r="2.75"/>
<circle cx="1262.9" cy="661.7" r="2.75"/>
<circle cx="1310.5" cy="668.4" r="2.75"/>
<circle cx="1249.9" cy="669.3" r="2.75"/>
<circle cx="1204.9" cy="672.6" r="2.75"/>
<circle cx="1210.7" cy="672.4" r="2.75"/>
<circle cx="1244.1" cy="676.4" r="2.75"/>
<circle cx="1242.1" cy="679.7" r="2.75"/>
<circle cx="1238.0" cy="681.3" r="2.75"/>
<circle cx="1204.4" cy="682.0" r="2.75"/>
<circle cx="1224.7" cy="682.7" r="2.75"/>
<circle cx="1268.1" cy="684.0" r="2.75"/>
<circle cx="1286.1" cy="690.4" r="2.75"/>
<circle cx="1292.5" cy="689.5" r="2.75"/>
<circle cx="1290.1" cy="691.1" r="2.75"/>
<circle cx="1287.5" cy="695.8" r="2.75"/>
<circle cx="1231.0" cy="693.4" r="2.75"/>
<circle cx="1234.7" cy="692.0" r="2.75"/>
<circle cx="1238.5" cy="695.4" r="2.75"/>
<circle cx="1208.7" cy="700.0" r="2.75"/>
<circle cx="1204.7" cy="702.4" r="2.75"/>
<circle cx="1210.0" cy="705.4" r="2.75"/>
<circle cx="1228.7" cy="705.1" r="2.75"/>
<circle cx="1231.4" cy="704.4" r="2.75"/>
<circle cx="1238.5" cy="706.4" r="2.75"/>
<circle cx="1224.7" cy="711.4" r="2.75"/>
<circle cx="1233.1" cy="711.8" r="2.75"/>
<circle cx="1236.7" cy="716.0" r="2.75"/>
<circle cx="1249.8" cy="715.5" r="2.75"/>
<circle cx="1248.7" cy="719.5" r="2.75"/>
<circle cx="1234.8" cy="721.9" r="2.75"/>
<circle cx="1323.6" cy="707.2" r="2.75"/>
<circle cx="1317.1" cy="709.6" r="2.75"/>
<circle cx="1271.7" cy="712.4" r="2.75"/>
<circle cx="1277.4" cy="713.5" r="2.75"/>
<circle cx="1280.5" cy="713.4" r="2.75"/>
<circle cx="1300.4" cy="718.7" r="2.75"/>
<circle cx="1279.3" cy="720.9" r="2.75"/>
<circle cx="1272.1" cy="724.9" r="2.75"/>
<circle cx="1269.4" cy="727.4" r="2.75"/>
<circle cx="1277.7" cy="727.8" r="2.75"/>
<circle cx="1285.0" cy="727.3" r="2.75"/>
<circle cx="1216.7" cy="730.2" r="2.75"/>
<circle cx="1220.0" cy="729.8" r="2.75"/>
<circle cx="1354.5" cy="735.0" r="2.75"/>
<circle cx="1344.9" cy="737.1" r="2.75"/>
<circle cx="1337.0" cy="747.0" r="2.75"/>
<circle cx="1247.8" cy="740.1" r="2.75"/>
<circle cx="1274.6" cy="740.5" r="2.75"/>
<circle cx="1204.4" cy="740.9" r="2.75"/>
<circle cx="1215.3" cy="742.8" r="2.75"/>
<circle cx="1218.4" cy="744.9" r="2.75"/>
<circle cx="1206.9" cy="748.2" r="2.75"/>
<circle cx="1214.4" cy="749.6" r="2.75"/>
<circle cx="1212.7" cy="751.8" r="2.75"/>
<circle cx="1218.4" cy="753.2" r="2.75"/>
<circle cx="1222.0" cy="749.8" r="2.75"/>
<circle cx="1228.0" cy="750.5" r="2.75"/>
<circle cx="1234.7" cy="751.8" r="2.75"/>
<circle cx="1232.7" cy="754.5" r="2.75"/>
<circle cx="1204.8" cy="755.6" r="2.75"/>
<circle cx="1264.2" cy="746.9" r="2.75"/>
<circle cx="1257.0" cy="750.2" r="2.75"/>
<circle cx="1297.9" cy="746.4" r="2.75"/>
<circle cx="1305.5" cy="747.5" r="2.75"/>
<circle cx="1306.1" cy="749.8" r="2.75"/>
<circle cx="1311.0" cy="747.5" r="2.75"/>
<circle cx="1289.2" cy="750.2" r="2.75"/>
<circle cx="1287.5" cy="752.2" r="2.75"/>
<circle cx="1286.1" cy="755.6" r="2.75"/>
<circle cx="1290.1" cy="758.5" r="2.75"/>
<circle cx="1279.0" cy="753.8" r="2.75"/>
<circle cx="1277.4" cy="758.0" r="2.75"/>
<circle cx="1311.3" cy="757.6" r="2.75"/>
<circle cx="1310.8" cy="765.2" r="2.75"/>
<circle cx="1293.5" cy="763.8" r="2.75"/>
<circle cx="1299.5" cy="765.4" r="2.75"/>
<circle cx="1304.1" cy="766.9" r="2.75"/>
<circle cx="1302.1" cy="769.9" r="2.75"/>
<circle cx="1300.1" cy="772.9" r="2.75"/>
<circle cx="1290.5" cy="769.9" r="2.75"/>
<circle cx="1280.8" cy="771.9" r="2.75"/>
<circle cx="1271.4" cy="770.5" r="2.75"/>
<circle cx="1265.4" cy="763.2" r="2.75"/>
<circle cx="1270.1" cy="765.2" r="2.75"/>
<circle cx="1251.1" cy="758.1" r="2.75"/>
<circle cx="1255.8" cy="761.4" r="2.75"/>
<circle cx="1249.4" cy="764.5" r="2.75"/>
<circle cx="1258.7" cy="769.2" r="2.75"/>
<circle cx="1263.4" cy="769.9" r="2.75"/>
<circle cx="1232.0" cy="758.5" r="2.75"/>
<circle cx="1223.4" cy="759.2" r="2.75"/>
<circle cx="1225.4" cy="761.8" r="2.75"/>
<circle cx="1224.7" cy="765.2" r="2.75"/>
<circle cx="1232.7" cy="763.2" r="2.75"/>
<circle cx="1238.0" cy="761.8" r="2.75"/>
<circle cx="1240.0" cy="766.5" r="2.75"/>
<circle cx="1234.0" cy="767.9" r="2.75"/>
<circle cx="1226.7" cy="769.2" r="2.75"/>
<circle cx="1215.3" cy="769.2" r="2.75"/>
<circle cx="1210.0" cy="770.5" r="2.75"/>
<circle cx="1203.3" cy="770.5" r="2.75"/>
<circle cx="1245.4" cy="771.2" r="2.75"/>
<circle cx="1266.1" cy="774.5" r="2.75"/>
<circle cx="1276.1" cy="777.2" r="2.75"/>
<circle cx="1274.1" cy="781.2" r="2.75"/>
<circle cx="1266.8" cy="786.5" r="2.75"/>
<circle cx="1293.5" cy="780.3" r="2.75"/>
<circle cx="1287.5" cy="784.5" r="2.75"/>
<circle cx="1282.8" cy="787.2" r="2.75"/>
<circle cx="1318.8" cy="776.9" r="2.75"/>
<circle cx="1311.9" cy="778.5" r="2.75"/>
<circle cx="1312.2" cy="782.5" r="2.75"/>
<circle cx="1309.5" cy="785.9" r="2.75"/>
<circle cx="1316.6" cy="786.5" r="2.75"/>
<circle cx="1326.2" cy="786.5" r="2.75"/>
<circle cx="1350.5" cy="781.2" r="2.75"/>
<circle cx="1201.5" cy="788.0" r="2.75"/>
<circle cx="1211.3" cy="774.4" r="2.75"/>
<circle cx="1240.0" cy="777.9" r="2.75"/>
<circle cx="1254.6" cy="776.1" r="2.75"/>
<circle cx="1236.9" cy="787.0" r="2.75"/>
<circle cx="1242.1" cy="786.8" r="2.75"/>
<circle cx="1243.5" cy="773.3" r="2.75"/>
<circle cx="1254.1" cy="781.6" r="2.75"/>
<circle cx="1219.1" cy="775.5" r="2.75"/>
<circle cx="1252.2" cy="781.5" r="2.75"/>
<circle cx="1257.6" cy="784.5" r="2.75"/>
<circle cx="1259.0" cy="781.3" r="2.75"/>
<circle cx="1242.9" cy="782.0" r="2.75"/>
<circle cx="1215.9" cy="787.3" r="2.75"/>
<circle cx="1219.2" cy="784.6" r="2.75"/>
<circle cx="1258.6" cy="782.6" r="2.75"/>
<circle cx="1208.7" cy="785.3" r="2.75"/>
<circle cx="1241.0" cy="775.4" r="2.75"/>
<circle cx="1203.0" cy="780.8" r="2.75"/>
<circle cx="1202.0" cy="786.9" r="2.75"/>
<circle cx="1231.1" cy="780.5" r="2.75"/>
<circle cx="1225.2" cy="782.8" r="2.75"/>
<circle cx="1256.3" cy="777.3" r="2.75"/>
<circle cx="1223.0" cy="781.5" r="2.75"/>
<circle cx="1218.3" cy="781.7" r="2.75"/>
<circle cx="1233.4" cy="779.2" r="2.75"/>
<circle cx="1241.3" cy="780.7" r="2.75"/>
<circle cx="1205.4" cy="788.0" r="2.75"/>
<circle cx="1221.8" cy="779.2" r="2.75"/>
<circle cx="1224.7" cy="786.9" r="2.75"/>
<circle cx="1258.5" cy="780.5" r="2.75"/>
<circle cx="1224.6" cy="774.0" r="2.75"/>
<circle cx="1255.0" cy="775.2" r="2.75"/>
<circle cx="1233.6" cy="777.9" r="2.75"/>
<circle cx="1220.2" cy="778.0" r="2.75"/>
<circle cx="1211.8" cy="773.1" r="2.75"/>
<circle cx="1232.9" cy="784.9" r="2.75"/>
<circle cx="1239.7" cy="775.6" r="2.75"/>
<circle cx="1242.6" cy="773.3" r="2.75"/>
<circle cx="1225.2" cy="785.3" r="2.75"/>
<circle cx="1256.6" cy="779.6" r="2.75"/>
<circle cx="1252.0" cy="780.2" r="2.75"/>
<circle cx="1232.2" cy="781.6" r="2.75"/>
<circle cx="1260.9" cy="784.0" r="2.75"/>
<circle cx="1229.0" cy="783.8" r="2.75"/>
<circle cx="1239.5" cy="778.0" r="2.75"/>
<circle cx="1248.2" cy="785.2" r="2.75"/>
<circle cx="1237.4" cy="787.1" r="2.75"/>
<circle cx="1201.1" cy="780.3" r="2.75"/>
<circle cx="1239.0" cy="777.8" r="2.75"/>
<circle cx="1210.5" cy="783.2" r="2.75"/>
<circle cx="1226.7" cy="776.7" r="2.75"/>
<circle cx="1202.6" cy="787.5" r="2.75"/>
<circle cx="1221.6" cy="774.4" r="2.75"/>
<circle cx="1213.3" cy="776.5" r="2.75"/>
<circle cx="1253.2" cy="775.3" r="2.75"/>
<circle cx="1217.0" cy="774.0" r="2.75"/>
<circle cx="1228.9" cy="775.7" r="2.75"/>
<circle cx="1221.1" cy="783.9" r="2.75"/>
<circle cx="1256.8" cy="785.4" r="2.75"/>
<circle cx="1202.3" cy="778.4" r="2.75"/>
<circle cx="1252.1" cy="773.0" r="2.75"/>
<circle cx="1212.5" cy="780.1" r="2.75"/>
<circle cx="1223.5" cy="784.1" r="2.75"/>
<circle cx="1000.7" cy="790.7" r="2.75"/>
<circle cx="1016.0" cy="791.3" r="2.75"/>
<circle cx="1014.7" cy="793.3" r="2.75"/>
<circle cx="1020.3" cy="804.7" r="2.75"/>
<circle cx="1023.8" cy="805.0" r="2.75"/>
<circle cx="1052.3" cy="801.6" r="2.75"/>
<circle cx="1029.1" cy="813.0" r="2.75"/>
<circle cx="1046.7" cy="811.0" r="2.75"/>
<circle cx="1065.4" cy="789.3" r="2.75"/>
<circle cx="1066.8" cy="794.3" r="2.75"/>
<circle cx="1072.1" cy="792.7" r="2.75"/>
<circle cx="1076.8" cy="792.7" r="2.75"/>
<circle cx="1080.1" cy="794.7" r="2.75"/>
<circle cx="1082.1" cy="797.6" r="2.75"/>
<circle cx="1082.1" cy="790.7" r="2.75"/>
<circle cx="1089.0" cy="794.3" r="2.75"/>
<circle cx="1092.8" cy="788.7" r="2.75"/>
<circle cx="1096.8" cy="792.7" r="2.75"/>
<circle cx="1096.1" cy="796.7" r="2.75"/>
<circle cx="1097.5" cy="801.1" r="2.75"/>
<circle cx="1101.5" cy="798.0" r="2.75"/>
<circle cx="1103.5" cy="792.0" r="2.75"/>
<circle cx="1105.5" cy="789.3" r="2.75"/>
<circle cx="1108.8" cy="800.3" r="2.75"/>
<circle cx="1110.2" cy="792.7" r="2.75"/>
<circle cx="1113.5" cy="794.7" r="2.75"/>
<circle cx="1116.2" cy="797.4" r="2.75"/>
<circle cx="1119.5" cy="792.7" r="2.75"/>
<circle cx="1122.8" cy="794.0" r="2.75"/>
<circle cx="1122.2" cy="800.7" r="2.75"/>
<circle cx="1117.5" cy="802.4" r="2.75"/>
<circle cx="1103.5" cy="806.0" r="2.75"/>
<circle cx="1099.9" cy="809.8" r="2.75"/>
<circle cx="1083.2" cy="819.9" r="2.75"/>
<circle cx="1098.5" cy="818.2" r="2.75"/>
<circle cx="1111.1" cy="817.6" r="2.75"/>
<circle cx="1122.2" cy="816.4" r="2.75"/>
<circle cx="1120.8" cy="819.0" r="2.75"/>
<circle cx="1102.4" cy="831.5" r="2.75"/>
<circle cx="1121.1" cy="830.1" r="2.75"/>
<circle cx="1013.0" cy="847.4" r="2.75"/>
<circle cx="1011.6" cy="869.8" r="2.75"/>
<circle cx="1087.5" cy="855.4" r="2.75"/>
<circle cx="1113.2" cy="848.1" r="2.75"/>
<circle cx="1125.6" cy="847.0" r="2.75"/>
<circle cx="1095.3" cy="882.7" r="2.75"/>
<circle cx="1111.6" cy="916.8" r="2.75"/>
<circle cx="1089.6" cy="936.5" r="2.75"/>
<circle cx="1132.2" cy="790.0" r="2.75"/>
<circle cx="1134.8" cy="791.3" r="2.75"/>
<circle cx="1141.5" cy="789.3" r="2.75"/>
<circle cx="1143.5" cy="793.3" r="2.75"/>
<circle cx="1146.2" cy="796.7" r="2.75"/>
<circle cx="1144.2" cy="800.7" r="2.75"/>
<circle cx="1143.5" cy="804.7" r="2.75"/>
<circle cx="1147.5" cy="807.4" r="2.75"/>
<circle cx="1133.5" cy="800.7" r="2.75"/>
<circle cx="1136.8" cy="801.1" r="2.75"/>
<circle cx="1131.5" cy="805.1" r="2.75"/>
<circle cx="1133.5" cy="808.7" r="2.75"/>
<circle cx="1150.9" cy="790.0" r="2.75"/>
<circle cx="1155.5" cy="789.3" r="2.75"/>
<circle cx="1158.9" cy="792.7" r="2.75"/>
<circle cx="1156.9" cy="796.7" r="2.75"/>
<circle cx="1160.2" cy="800.0" r="2.75"/>
<circle cx="1162.2" cy="804.0" r="2.75"/>
<circle cx="1160.9" cy="808.0" r="2.75"/>
<circle cx="1155.5" cy="808.3" r="2.75"/>
<circle cx="1162.2" cy="810.7" r="2.75"/>
<circle cx="1165.5" cy="790.7" r="2.75"/>
<circle cx="1167.6" cy="794.7" r="2.75"/>
<circle cx="1168.9" cy="798.7" r="2.75"/>
<circle cx="1166.2" cy="802.0" r="2.75"/>
<circle cx="1169.6" cy="805.4" r="2.75"/>
<circle cx="1173.6" cy="807.4" r="2.75"/>
<circle cx="1170.9" cy="802.0" r="2.75"/>
<circle cx="1174.9" cy="791.3" r="2.75"/>
<circle cx="1177.6" cy="798.0" r="2.75"/>
<circle cx="1178.9" cy="801.4" r="2.75"/>
<circle cx="1178.9" cy="804.0" r="2.75"/>
<circle cx="1184.9" cy="791.3" r="2.75"/>
<circle cx="1189.6" cy="794.0" r="2.75"/>
<circle cx="1188.2" cy="798.0" r="2.75"/>
<circle cx="1192.9" cy="797.4" r="2.75"/>
<circle cx="1197.6" cy="794.7" r="2.75"/>
<circle cx="1198.3" cy="799.4" r="2.75"/>
<circle cx="1198.9" cy="804.0" r="2.75"/>
<circle cx="1195.6" cy="808.0" r="2.75"/>
<circle cx="1184.9" cy="808.7" r="2.75"/>
<circle cx="1183.6" cy="813.4" r="2.75"/>
<circle cx="1190.9" cy="812.0" r="2.75"/>
<circle cx="1194.3" cy="815.4" r="2.75"/>
<circle cx="1151.3" cy="812.7" r="2.75"/>
<circle cx="1154.2" cy="814.4" r="2.75"/>
<circle cx="1157.5" cy="815.1" r="2.75"/>
<circle cx="1165.3" cy="816.4" r="2.75"/>
<circle cx="1141.8" cy="814.3" r="2.75"/>
<circle cx="1144.5" cy="817.0" r="2.75"/>
<circle cx="1136.8" cy="827.0" r="2.75"/>
<circle cx="1139.9" cy="831.7" r="2.75"/>
<circle cx="1152.3" cy="829.9" r="2.75"/>
<circle cx="1182.9" cy="820.7" r="2.75"/>
<circle cx="1177.6" cy="822.5" r="2.75"/>
<circle cx="1174.6" cy="825.1" r="2.75"/>
<circle cx="1189.6" cy="824.0" r="2.75"/>
<circle cx="1169.8" cy="831.8" r="2.75"/>
<circle cx="1171.6" cy="834.1" r="2.75"/>
<circle cx="1174.2" cy="835.0" r="2.75"/>
<circle cx="1158.2" cy="838.9" r="2.75"/>
<circle cx="1151.3" cy="842.5" r="2.75"/>
<circle cx="1164.0" cy="839.4" r="2.75"/>
<circle cx="1165.3" cy="841.7" r="2.75"/>
<circle cx="1168.9" cy="842.7" r="2.75"/>
<circle cx="1182.2" cy="839.4" r="2.75"/>
<circle cx="1183.3" cy="845.0" r="2.75"/>
<circle cx="1189.3" cy="842.5" r="2.75"/>
<circle cx="1190.9" cy="846.3" r="2.75"/>
<circle cx="1197.3" cy="845.8" r="2.75"/>
<circle cx="1170.2" cy="856.5" r="2.75"/>
<circle cx="1163.5" cy="860.1" r="2.75"/>
<circle cx="1161.2" cy="861.8" r="2.75"/>
<circle cx="1143.1" cy="865.3" r="2.75"/>
<circle cx="1147.7" cy="868.5" r="2.75"/>
<circle cx="1156.2" cy="871.7" r="2.75"/>
<circle cx="1166.1" cy="869.7" r="2.75"/>
<circle cx="1182.6" cy="864.4" r="2.75"/>
<circle cx="1181.8" cy="868.5" r="2.75"/>
<circle cx="1187.8" cy="866.9" r="2.75"/>
<circle cx="1158.5" cy="877.2" r="2.75"/>
<circle cx="1166.1" cy="880.3" r="2.75"/>
<circle cx="1154.5" cy="892.1" r="2.75"/>
<circle cx="1164.9" cy="892.4" r="2.75"/>
<circle cx="1173.0" cy="894.0" r="2.75"/>
<circle cx="1198.4" cy="890.3" r="2.75"/>
<circle cx="1196.7" cy="908.4" r="2.75"/>
<circle cx="1159.5" cy="926.5" r="2.75"/>
<circle cx="1157.5" cy="930.6" r="2.75"/>
<circle cx="1167.4" cy="935.5" r="2.75"/>
<circle cx="1258.5" cy="812.0" r="2.75"/>
<circle cx="1290.2" cy="808.0" r="2.75"/>
<circle cx="1254.5" cy="811.9" r="2.75"/>
<circle cx="1244.4" cy="855.6" r="2.75"/>
<circle cx="1211.1" cy="818.9" r="2.75"/>
<circle cx="1224.0" cy="812.3" r="2.75"/>
<circle cx="1264.9" cy="817.1" r="2.75"/>
<circle cx="1278.0" cy="819.0" r="2.75"/>
<circle cx="1218.2" cy="818.1" r="2.75"/>
<circle cx="1243.6" cy="843.0" r="2.75"/>
<circle cx="1260.1" cy="801.6" r="2.75"/>
<circle cx="1272.0" cy="808.7" r="2.75"/>
<circle cx="1254.7" cy="803.3" r="2.75"/>
<circle cx="1243.9" cy="842.6" r="2.75"/>
<circle cx="1255.1" cy="840.2" r="2.75"/>
<circle cx="1280.8" cy="828.8" r="2.75"/>
<circle cx="1268.9" cy="815.6" r="2.75"/>
<circle cx="1266.0" cy="842.0" r="2.75"/>
<circle cx="1239.2" cy="797.7" r="2.75"/>
<circle cx="1216.0" cy="811.6" r="2.75"/>
<circle cx="1207.4" cy="815.6" r="2.75"/>
<circle cx="1244.3" cy="833.5" r="2.75"/>
<circle cx="1249.8" cy="852.9" r="2.75"/>
<circle cx="1270.4" cy="810.3" r="2.75"/>
<circle cx="1293.5" cy="836.5" r="2.75"/>
<circle cx="1303.3" cy="839.0" r="2.75"/>
<circle cx="1277.4" cy="840.8" r="2.75"/>
<circle cx="1232.9" cy="788.5" r="2.75"/>
<circle cx="1267.1" cy="849.2" r="2.75"/>
<circle cx="1301.4" cy="823.7" r="2.75"/>
<circle cx="1200.9" cy="800.1" r="2.75"/>
<circle cx="1248.0" cy="804.0" r="2.75"/>
<circle cx="1203.0" cy="801.4" r="2.75"/>
<circle cx="1253.4" cy="796.8" r="2.75"/>
<circle cx="1212.0" cy="799.5" r="2.75"/>
<circle cx="1292.5" cy="802.0" r="2.75"/>
<circle cx="1267.7" cy="848.8" r="2.75"/>
<circle cx="1226.0" cy="811.1" r="2.75"/>
<circle cx="1294.1" cy="840.9" r="2.75"/>
<circle cx="1266.3" cy="843.1" r="2.75"/>
<circle cx="1261.2" cy="809.9" r="2.75"/>
<circle cx="1273.2" cy="842.4" r="2.75"/>
<circle cx="1205.9" cy="810.4" r="2.75"/>
<circle cx="1230.8" cy="834.8" r="2.75"/>
<circle cx="1246.5" cy="814.3" r="2.75"/>
<circle cx="1253.4" cy="850.1" r="2.75"/>
<circle cx="1270.3" cy="815.0" r="2.75"/>
<circle cx="1216.1" cy="811.9" r="2.75"/>
<circle cx="1250.3" cy="832.9" r="2.75"/>
<circle cx="1247.3" cy="803.4" r="2.75"/>
<circle cx="1218.5" cy="833.0" r="2.75"/>
<circle cx="1269.7" cy="799.6" r="2.75"/>
<circle cx="1205.7" cy="826.1" r="2.75"/>
<circle cx="1233.3" cy="795.4" r="2.75"/>
<circle cx="1232.2" cy="810.2" r="2.75"/>
<circle cx="1264.3" cy="837.8" r="2.75"/>
<circle cx="1211.4" cy="805.4" r="2.75"/>
<circle cx="1239.5" cy="844.8" r="2.75"/>
<circle cx="1224.4" cy="803.3" r="2.75"/>
<circle cx="1268.1" cy="805.5" r="2.75"/>
<circle cx="1235.9" cy="815.2" r="2.75"/>
<circle cx="1231.9" cy="833.8" r="2.75"/>
<circle cx="1278.5" cy="840.8" r="2.75"/>
<circle cx="1285.2" cy="840.8" r="2.75"/>
<circle cx="1223.7" cy="796.9" r="2.75"/>
<circle cx="1280.2" cy="813.5" r="2.75"/>
<circle cx="1270.3" cy="839.0" r="2.75"/>
<circle cx="1230.6" cy="795.4" r="2.75"/>
<circle cx="1286.6" cy="837.1" r="2.75"/>
<circle cx="1286.2" cy="839.6" r="2.75"/>
<circle cx="1239.0" cy="833.4" r="2.75"/>
<circle cx="1239.2" cy="850.7" r="2.75"/>
<circle cx="1237.0" cy="851.1" r="2.75"/>
<circle cx="1285.9" cy="800.1" r="2.75"/>
<circle cx="1201.7" cy="804.2" r="2.75"/>
<circle cx="1302.7" cy="841.3" r="2.75"/>
<circle cx="1275.4" cy="802.5" r="2.75"/>
<circle cx="1222.7" cy="818.9" r="2.75"/>
<circle cx="1256.9" cy="830.8" r="2.75"/>
<circle cx="1226.1" cy="837.6" r="2.75"/>
<circle cx="1233.9" cy="808.6" r="2.75"/>
<circle cx="1293.0" cy="803.1" r="2.75"/>
<circle cx="1253.8" cy="848.8" r="2.75"/>
<circle cx="1288.4" cy="837.9" r="2.75"/>
<circle cx="1226.0" cy="831.5" r="2.75"/>
<circle cx="1250.6" cy="809.1" r="2.75"/>
<circle cx="1282.5" cy="834.9" r="2.75"/>
<circle cx="1295.5" cy="817.5" r="2.75"/>
<circle cx="1215.4" cy="806.8" r="2.75"/>
<circle cx="1279.0" cy="836.8" r="2.75"/>
<circle cx="1268.7" cy="815.6" r="2.75"/>
<circle cx="1261.8" cy="792.8" r="2.75"/>
<circle cx="1232.0" cy="799.9" r="2.75"/>
<circle cx="1233.8" cy="798.5" r="2.75"/>
<circle cx="1249.2" cy="795.8" r="2.75"/>
<circle cx="1254.4" cy="799.3" r="2.75"/>
<circle cx="1272.7" cy="837.0" r="2.75"/>
<circle cx="1265.0" cy="834.1" r="2.75"/>
<circle cx="1233.7" cy="795.2" r="2.75"/>
<circle cx="1277.6" cy="839.0" r="2.75"/>
<circle cx="1278.8" cy="832.9" r="2.75"/>
<circle cx="1201.0" cy="806.4" r="2.75"/>
<circle cx="1257.0" cy="848.3" r="2.75"/>
<circle cx="1270.2" cy="797.1" r="2.75"/>
<circle cx="1277.4" cy="802.4" r="2.75"/>
<circle cx="1235.8" cy="813.0" r="2.75"/>
<circle cx="1285.3" cy="802.5" r="2.75"/>
<circle cx="1234.5" cy="807.5" r="2.75"/>
<circle cx="1225.8" cy="803.0" r="2.75"/>
<circle cx="1241.0" cy="800.4" r="2.75"/>
<circle cx="1227.6" cy="796.3" r="2.75"/>
<circle cx="1262.1" cy="836.4" r="2.75"/>
<circle cx="1225.3" cy="819.0" r="2.75"/>
<circle cx="1300.9" cy="844.0" r="2.75"/>
<circle cx="1224.0" cy="801.8" r="2.75"/>
<circle cx="1253.6" cy="807.7" r="2.75"/>
<circle cx="1233.3" cy="816.3" r="2.75"/>
<circle cx="1257.8" cy="825.6" r="2.75"/>
<circle cx="1203.8" cy="817.5" r="2.75"/>
<circle cx="1215.3" cy="797.1" r="2.75"/>
<circle cx="1237.8" cy="805.3" r="2.75"/>
<circle cx="1288.0" cy="790.7" r="2.75"/>
<circle cx="1299.3" cy="830.1" r="2.75"/>
<circle cx="1279.0" cy="805.9" r="2.75"/>
<circle cx="1255.1" cy="803.2" r="2.75"/>
<circle cx="1281.2" cy="825.6" r="2.75"/>
<circle cx="1227.7" cy="809.6" r="2.75"/>
<circle cx="1201.8" cy="794.0" r="2.75"/>
<circle cx="1237.1" cy="833.1" r="2.75"/>
<circle cx="1252.1" cy="843.0" r="2.75"/>
<circle cx="1221.4" cy="814.5" r="2.75"/>
<circle cx="1273.3" cy="819.0" r="2.75"/>
<circle cx="1253.1" cy="845.8" r="2.75"/>
<circle cx="1303.8" cy="827.5" r="2.75"/>
<circle cx="1234.6" cy="812.2" r="2.75"/>
<circle cx="1276.4" cy="830.5" r="2.75"/>
<circle cx="1252.0" cy="847.0" r="2.75"/>
<circle cx="1239.3" cy="804.4" r="2.75"/>
<circle cx="1205.2" cy="811.6" r="2.75"/>
<circle cx="1232.4" cy="812.8" r="2.75"/>
<circle cx="1251.1" cy="835.0" r="2.75"/>
<circle cx="1240.9" cy="813.5" r="2.75"/>
<circle cx="1235.6" cy="814.1" r="2.75"/>
<circle cx="1258.8" cy="807.4" r="2.75"/>
<circle cx="1274.6" cy="839.4" r="2.75"/>
<circle cx="1254.3" cy="806.9" r="2.75"/>
<circle cx="1234.8" cy="838.4" r="2.75"/>
<circle cx="1248.0" cy="832.1" r="2.75"/>
<circle cx="1249.5" cy="805.9" r="2.75"/>
<circle cx="1289.9" cy="830.7" r="2.75"/>
<circle cx="1235.2" cy="797.8" r="2.75"/>
<circle cx="1273.5" cy="789.4" r="2.75"/>
<circle cx="1282.9" cy="791.2" r="2.75"/>
<circle cx="1294.1" cy="792.5" r="2.75"/>
<circle cx="1270.8" cy="820.3" r="2.75"/>
<circle cx="1225.9" cy="838.3" r="2.75"/>
<circle cx="1237.6" cy="796.5" r="2.75"/>
<circle cx="1245.0" cy="847.3" r="2.75"/>
<circle cx="1288.3" cy="827.4" r="2.75"/>
<circle cx="1234.6" cy="792.1" r="2.75"/>
<circle cx="1271.0" cy="809.9" r="2.75"/>
<circle cx="1244.6" cy="790.4" r="2.75"/>
<circle cx="1288.3" cy="798.5" r="2.75"/>
<circle cx="1220.9" cy="819.6" r="2.75"/>
<circle cx="1213.7" cy="814.8" r="2.75"/>
<circle cx="1295.8" cy="823.8" r="2.75"/>
<circle cx="1201.4" cy="823.5" r="2.75"/>
<circle cx="1280.3" cy="827.0" r="2.75"/>
<circle cx="1295.8" cy="801.2" r="2.75"/>
<circle cx="1298.5" cy="825.4" r="2.75"/>
<circle cx="1280.7" cy="836.2" r="2.75"/>
<circle cx="1216.5" cy="825.2" r="2.75"/>
<circle cx="1202.6" cy="823.4" r="2.75"/>
<circle cx="1222.5" cy="792.1" r="2.75"/>
<circle cx="1257.6" cy="825.5" r="2.75"/>
<circle cx="1302.1" cy="827.2" r="2.75"/>
<circle cx="1234.6" cy="821.9" r="2.75"/>
<circle cx="1239.3" cy="825.0" r="2.75"/>
<circle cx="1279.5" cy="840.2" r="2.75"/>
<circle cx="1246.0" cy="810.8" r="2.75"/>
<circle cx="1275.7" cy="816.7" r="2.75"/>
<circle cx="1228.8" cy="832.0" r="2.75"/>
<circle cx="1203.9" cy="821.6" r="2.75"/>
<circle cx="1228.8" cy="801.9" r="2.75"/>
<circle cx="1236.0" cy="840.9" r="2.75"/>
<circle cx="1261.5" cy="849.5" r="2.75"/>
<circle cx="1261.1" cy="848.7" r="2.75"/>
<circle cx="1263.8" cy="839.5" r="2.75"/>
<circle cx="1234.6" cy="812.7" r="2.75"/>
<circle cx="1244.4" cy="808.0" r="2.75"/>
<circle cx="1206.3" cy="816.0" r="2.75"/>
<circle cx="1211.4" cy="809.5" r="2.75"/>
<circle cx="1267.1" cy="823.8" r="2.75"/>
<circle cx="1292.6" cy="807.1" r="2.75"/>
<circle cx="1260.5" cy="793.7" r="2.75"/>
<circle cx="1223.6" cy="813.2" r="2.75"/>
<circle cx="1262.5" cy="813.6" r="2.75"/>
<circle cx="1221.7" cy="835.2" r="2.75"/>
<circle cx="1266.4" cy="834.0" r="2.75"/>
<circle cx="1278.5" cy="806.2" r="2.75"/>
<circle cx="1242.7" cy="807.4" r="2.75"/>
<circle cx="1276.3" cy="791.3" r="2.75"/>
<circle cx="1252.6" cy="798.3" r="2.75"/>
<circle cx="1225.8" cy="814.6" r="2.75"/>
<circle cx="1264.0" cy="839.1" r="2.75"/>
<circle cx="1266.4" cy="806.4" r="2.75"/>
<circle cx="1270.1" cy="790.0" r="2.75"/>
<circle cx="1200.2" cy="801.7" r="2.75"/>
<circle cx="1200.2" cy="819.5" r="2.75"/>
<circle cx="1264.4" cy="852.0" r="2.75"/>
<circle cx="1220.9" cy="834.4" r="2.75"/>
<circle cx="1204.7" cy="800.1" r="2.75"/>
<circle cx="1223.1" cy="814.2" r="2.75"/>
<circle cx="1271.1" cy="813.1" r="2.75"/>
<circle cx="1277.5" cy="816.6" r="2.75"/>
<circle cx="1225.3" cy="834.9" r="2.75"/>
<circle cx="1236.8" cy="831.9" r="2.75"/>
<circle cx="1222.2" cy="803.0" r="2.75"/>
<circle cx="1292.6" cy="791.0" r="2.75"/>
<circle cx="1227.3" cy="804.9" r="2.75"/>
<circle cx="1304.1" cy="829.6" r="2.75"/>
<circle cx="1229.0" cy="817.3" r="2.75"/>
<circle cx="1246.0" cy="806.3" r="2.75"/>
<circle cx="1253.0" cy="802.6" r="2.75"/>
<circle cx="1270.0" cy="815.2" r="2.75"/>
<circle cx="1243.6" cy="803.2" r="2.75"/>
<circle cx="1288.6" cy="818.2" r="2.75"/>
<circle cx="1252.1" cy="831.5" r="2.75"/>
<circle cx="1237.2" cy="818.0" r="2.75"/>
<circle cx="1286.7" cy="798.9" r="2.75"/>
<circle cx="1260.2" cy="834.4" r="2.75"/>
<circle cx="1271.5" cy="808.4" r="2.75"/>
<circle cx="1276.6" cy="842.6" r="2.75"/>
<circle cx="1290.2" cy="804.0" r="2.75"/>
<circle cx="1244.7" cy="791.0" r="2.75"/>
<circle cx="1262.2" cy="789.8" r="2.75"/>
<circle cx="1234.0" cy="834.3" r="2.75"/>
<circle cx="1235.9" cy="836.0" r="2.75"/>
<circle cx="1274.6" cy="795.0" r="2.75"/>
<circle cx="1301.6" cy="824.0" r="2.75"/>
<circle cx="1256.3" cy="849.4" r="2.75"/>
<circle cx="1242.9" cy="798.7" r="2.75"/>
<circle cx="1281.4" cy="826.4" r="2.75"/>
<circle cx="1219.9" cy="794.3" r="2.75"/>
<circle cx="1284.2" cy="831.9" r="2.75"/>
<circle cx="1225.8" cy="818.6" r="2.75"/>
<circle cx="1244.3" cy="841.0" r="2.75"/>
<circle cx="1248.7" cy="826.0" r="2.75"/>
<circle cx="1295.8" cy="842.2" r="2.75"/>
<circle cx="1229.5" cy="820.5" r="2.75"/>
<circle cx="1233.8" cy="840.3" r="2.75"/>
<circle cx="1290.5" cy="801.4" r="2.75"/>
<circle cx="1260.8" cy="834.1" r="2.75"/>
<circle cx="1219.2" cy="830.0" r="2.75"/>
<circle cx="1243.1" cy="794.0" r="2.75"/>
<circle cx="1222.4" cy="836.7" r="2.75"/>
<circle cx="1214.3" cy="816.0" r="2.75"/>
<circle cx="1208.1" cy="791.2" r="2.75"/>
<circle cx="1210.9" cy="827.4" r="2.75"/>
<circle cx="1273.1" cy="839.4" r="2.75"/>
<circle cx="1204.3" cy="825.1" r="2.75"/>
<circle cx="1295.0" cy="808.8" r="2.75"/>
<circle cx="1299.0" cy="827.3" r="2.75"/>
<circle cx="1255.2" cy="822.0" r="2.75"/>
<circle cx="1220.0" cy="788.9" r="2.75"/>
<circle cx="1232.0" cy="819.6" r="2.75"/>
<circle cx="1254.5" cy="794.9" r="2.75"/>
<circle cx="1283.8" cy="840.8" r="2.75"/>
<circle cx="1275.6" cy="832.4" r="2.75"/>
<circle cx="1221.2" cy="815.8" r="2.75"/>
<circle cx="1283.2" cy="788.3" r="2.75"/>
<circle cx="1205.8" cy="808.7" r="2.75"/>
<circle cx="1217.5" cy="818.5" r="2.75"/>
<circle cx="1252.5" cy="814.1" r="2.75"/>
<circle cx="1245.5" cy="846.0" r="2.75"/>
<circle cx="1218.0" cy="819.4" r="2.75"/>
<circle cx="1253.3" cy="837.5" r="2.75"/>
<circle cx="1289.1" cy="805.0" r="2.75"/>
<circle cx="1258.1" cy="838.3" r="2.75"/>
<circle cx="1275.9" cy="810.5" r="2.75"/>
<circle cx="1249.2" cy="791.4" r="2.75"/>
<circle cx="1246.4" cy="791.9" r="2.75"/>
<circle cx="1251.3" cy="816.1" r="2.75"/>
<circle cx="1270.7" cy="797.4" r="2.75"/>
<circle cx="1272.1" cy="845.5" r="2.75"/>
<circle cx="1248.9" cy="855.6" r="2.75"/>
<circle cx="1277.3" cy="789.5" r="2.75"/>
<circle cx="1292.0" cy="816.8" r="2.75"/>
<circle cx="1200.6" cy="791.1" r="2.75"/>
<circle cx="1219.2" cy="807.7" r="2.75"/>
<circle cx="1214.1" cy="817.1" r="2.75"/>
<circle cx="1257.0" cy="836.7" r="2.75"/>
<circle cx="1253.1" cy="792.4" r="2.75"/>
<circle cx="1286.2" cy="836.9" r="2.75"/>
<circle cx="1200.7" cy="824.0" r="2.75"/>
<circle cx="1257.9" cy="819.5" r="2.75"/>
<circle cx="1268.2" cy="819.3" r="2.75"/>
<circle cx="1263.5" cy="812.0" r="2.75"/>
<circle cx="1259.2" cy="802.3" r="2.75"/>
<circle cx="1257.6" cy="796.0" r="2.75"/>
<circle cx="1227.2" cy="803.8" r="2.75"/>
<circle cx="1229.5" cy="828.4" r="2.75"/>
<circle cx="1202.1" cy="813.4" r="2.75"/>
<circle cx="1268.0" cy="822.7" r="2.75"/>
<circle cx="1252.1" cy="798.3" r="2.75"/>
<circle cx="1258.2" cy="849.1" r="2.75"/>
<circle cx="1254.8" cy="805.0" r="2.75"/>
<circle cx="1281.5" cy="790.3" r="2.75"/>
<circle cx="1238.6" cy="840.7" r="2.75"/>
<circle cx="1253.2" cy="796.1" r="2.75"/>
<circle cx="1259.7" cy="839.6" r="2.75"/>
<circle cx="1246.0" cy="839.3" r="2.75"/>
<circle cx="1256.0" cy="793.0" r="2.75"/>
<circle cx="1286.0" cy="796.5" r="2.75"/>
<circle cx="1261.1" cy="844.0" r="2.75"/>
<circle cx="1225.6" cy="831.2" r="2.75"/>
<circle cx="1213.5" cy="798.7" r="2.75"/>
<circle cx="1209.1" cy="824.1" r="2.75"/>
<circle cx="1258.5" cy="799.9" r="2.75"/>
<circle cx="1236.9" cy="788.8" r="2.75"/>
<circle cx="1279.5" cy="788.4" r="2.75"/>
<circle cx="1257.9" cy="845.7" r="2.75"/>
<circle cx="1284.7" cy="801.5" r="2.75"/>
<circle cx="1227.1" cy="814.0" r="2.75"/>
<circle cx="1244.7" cy="798.2" r="2.75"/>
<circle cx="1230.6" cy="801.8" r="2.75"/>
<circle cx="1228.0" cy="833.5" r="2.75"/>
<circle cx="1240.6" cy="816.9" r="2.75"/>
<circle cx="1243.1" cy="826.0" r="2.75"/>
<circle cx="1262.8" cy="836.4" r="2.75"/>
<circle cx="1216.1" cy="819.4" r="2.75"/>
<circle cx="1239.1" cy="834.9" r="2.75"/>
<circle cx="1278.1" cy="839.2" r="2.75"/>
<circle cx="1284.4" cy="796.6" r="2.75"/>
<circle cx="1235.8" cy="834.3" r="2.75"/>
<circle cx="1210.4" cy="820.0" r="2.75"/>
<circle cx="1276.4" cy="823.1" r="2.75"/>
<circle cx="1264.6" cy="824.5" r="2.75"/>
<circle cx="1259.7" cy="828.1" r="2.75"/>
<circle cx="1291.9" cy="833.9" r="2.75"/>
<circle cx="1247.3" cy="809.6" r="2.75"/>
<circle cx="1228.3" cy="797.2" r="2.75"/>
<circle cx="1295.3" cy="818.9" r="2.75"/>
<circle cx="1218.2" cy="824.6" r="2.75"/>
<circle cx="1289.4" cy="798.8" r="2.75"/>
<circle cx="1238.2" cy="836.7" r="2.75"/>
<circle cx="1251.8" cy="827.8" r="2.75"/>
<circle cx="1259.9" cy="828.7" r="2.75"/>
<circle cx="1245.4" cy="840.6" r="2.75"/>
<circle cx="1285.3" cy="819.1" r="2.75"/>
<circle cx="1229.1" cy="824.6" r="2.75"/>
<circle cx="1276.2" cy="826.0" r="2.75"/>
<circle cx="1233.6" cy="835.4" r="2.75"/>
<circle cx="1243.9" cy="844.8" r="2.75"/>
<circle cx="1232.4" cy="829.6" r="2.75"/>
<circle cx="1250.7" cy="818.0" r="2.75"/>
<circle cx="1235.3" cy="824.4" r="2.75"/>
<circle cx="1289.0" cy="830.5" r="2.75"/>
<circle cx="1237.4" cy="825.1" r="2.75"/>
<circle cx="1267.7" cy="814.1" r="2.75"/>
<circle cx="1237.3" cy="809.3" r="2.75"/>
<circle cx="1232.3" cy="802.0" r="2.75"/>
<circle cx="1237.6" cy="818.1" r="2.75"/>
<circle cx="1289.0" cy="827.1" r="2.75"/>
<circle cx="1265.9" cy="816.8" r="2.75"/>
<circle cx="1232.5" cy="828.0" r="2.75"/>
<circle cx="1273.5" cy="803.1" r="2.75"/>
<circle cx="1267.7" cy="809.6" r="2.75"/>
<circle cx="1328.4" cy="841.2" r="2.75"/>
<circle cx="1317.9" cy="831.3" r="2.75"/>
<circle cx="1314.0" cy="843.1" r="2.75"/>
<circle cx="1322.4" cy="839.9" r="2.75"/>
<circle cx="1317.0" cy="820.6" r="2.75"/>
<circle cx="1314.2" cy="817.9" r="2.75"/>
<circle cx="1320.8" cy="831.3" r="2.75"/>
<circle cx="1333.2" cy="834.6" r="2.75"/>
<circle cx="1320.5" cy="833.9" r="2.75"/>
<circle cx="1336.5" cy="824.6" r="2.75"/>
<circle cx="1338.8" cy="832.1" r="2.75"/>
<circle cx="1324.2" cy="845.8" r="2.75"/>
<circle cx="1326.1" cy="841.0" r="2.75"/>
<circle cx="1321.5" cy="838.1" r="2.75"/>
<circle cx="1324.5" cy="827.0" r="2.75"/>
<circle cx="1342.7" cy="833.1" r="2.75"/>
<circle cx="1300.2" cy="819.0" r="2.75"/>
<circle cx="1311.5" cy="793.1" r="2.75"/>
<circle cx="1303.1" cy="797.1" r="2.75"/>
<circle cx="1309.5" cy="801.1" r="2.75"/>
<circle cx="1315.5" cy="803.4" r="2.75"/>
<circle cx="1312.8" cy="805.4" r="2.75"/>
<circle cx="1318.2" cy="805.1" r="2.75"/>
<circle cx="1302.1" cy="808.3" r="2.75"/>
<circle cx="1326.8" cy="797.6" r="2.75"/>
<circle cx="1324.4" cy="802.0" r="2.75"/>
<circle cx="1338.3" cy="797.8" r="2.75"/>
<circle cx="1341.1" cy="807.6" r="2.75"/>
<circle cx="1330.2" cy="809.0" r="2.75"/>
<circle cx="1327.5" cy="810.7" r="2.75"/>
<circle cx="1331.8" cy="813.6" r="2.75"/>
<circle cx="1318.8" cy="814.4" r="2.75"/>
<circle cx="1312.4" cy="817.6" r="2.75"/>
<circle cx="1347.3" cy="815.1" r="2.75"/>
<circle cx="1364.0" cy="819.6" r="2.75"/>
<circle cx="1306.1" cy="820.7" r="2.75"/>
<circle cx="1300.1" cy="823.0" r="2.75"/>
<circle cx="1311.5" cy="823.8" r="2.75"/>
<circle cx="1317.5" cy="821.1" r="2.75"/>
<circle cx="1320.8" cy="823.4" r="2.75"/>
<circle cx="1329.2" cy="821.1" r="2.75"/>
<circle cx="1329.2" cy="824.3" r="2.75"/>
<circle cx="1335.5" cy="820.0" r="2.75"/>
<circle cx="1339.5" cy="820.7" r="2.75"/>
<circle cx="1338.8" cy="824.0" r="2.75"/>
<circle cx="1336.8" cy="827.0" r="2.75"/>
<circle cx="1340.8" cy="828.7" r="2.75"/>
<circle cx="1344.6" cy="830.5" r="2.75"/>
<circle cx="1359.3" cy="830.7" r="2.75"/>
<circle cx="1380.5" cy="831.8" r="2.75"/>
<circle cx="1394.1" cy="839.0" r="2.75"/>
<circle cx="1312.4" cy="832.1" r="2.75"/>
<circle cx="1322.2" cy="832.7" r="2.75"/>
<circle cx="1325.5" cy="835.4" r="2.75"/>
<circle cx="1328.2" cy="838.7" r="2.75"/>
<circle cx="1328.8" cy="841.4" r="2.75"/>
<circle cx="1335.5" cy="834.1" r="2.75"/>
<circle cx="1334.6" cy="838.5" r="2.75"/>
<circle cx="1348.9" cy="834.7" r="2.75"/>
<circle cx="1348.2" cy="837.7" r="2.75"/>
<circle cx="1357.5" cy="837.1" r="2.75"/>
<circle cx="1340.2" cy="842.1" r="2.75"/>
<circle cx="1342.9" cy="841.4" r="2.75"/>
<circle cx="1357.3" cy="843.1" r="2.75"/>
<circle cx="1312.2" cy="839.4" r="2.75"/>
<circle cx="1314.2" cy="844.7" r="2.75"/>
<circle cx="1316.2" cy="846.7" r="2.75"/>
<circle cx="1322.8" cy="846.1" r="2.75"/>
<circle cx="1334.8" cy="847.4" r="2.75"/>
<circle cx="1352.9" cy="847.8" r="2.75"/>
<circle cx="1366.0" cy="848.8" r="2.75"/>
<circle cx="1318.8" cy="850.8" r="2.75"/>
<circle cx="1321.5" cy="850.1" r="2.75"/>
<circle cx="1311.5" cy="852.8" r="2.75"/>
<circle cx="1307.5" cy="854.1" r="2.75"/>
<circle cx="1308.1" cy="857.4" r="2.75"/>
<circle cx="1326.8" cy="856.8" r="2.75"/>
<circle cx="1324.8" cy="858.8" r="2.75"/>
<circle cx="1322.2" cy="861.4" r="2.75"/>
<circle cx="1318.8" cy="862.8" r="2.75"/>
<circle cx="1306.8" cy="862.8" r="2.75"/>
<circle cx="1300.8" cy="866.1" r="2.75"/>
<circle cx="1319.5" cy="866.8" r="2.75"/>
<circle cx="1316.8" cy="868.1" r="2.75"/>
<circle cx="1316.8" cy="872.1" r="2.75"/>
<circle cx="1319.5" cy="874.1" r="2.75"/>
<circle cx="1313.9" cy="876.8" r="2.75"/>
<circle cx="1343.7" cy="856.5" r="2.75"/>
<circle cx="1335.8" cy="868.5" r="2.75"/>
<circle cx="1346.9" cy="874.8" r="2.75"/>
<circle cx="1339.5" cy="879.7" r="2.75"/>
<circle cx="1351.3" cy="883.6" r="2.75"/>
<circle cx="1346.9" cy="888.8" r="2.75"/>
<circle cx="1317.0" cy="885.5" r="2.75"/>
<circle cx="1323.5" cy="889.1" r="2.75"/>
<circle cx="1326.8" cy="894.1" r="2.75"/>
<circle cx="1324.2" cy="895.2" r="2.75"/>
<circle cx="1307.3" cy="889.5" r="2.75"/>
<circle cx="1330.2" cy="902.8" r="2.75"/>
<circle cx="1312.5" cy="905.0" r="2.75"/>
<circle cx="1297.5" cy="913.9" r="2.75"/>
<circle cx="1349.4" cy="915.9" r="2.75"/>
<circle cx="1328.8" cy="926.0" r="2.75"/>
<circle cx="1318.6" cy="938.3" r="2.75"/>
<circle cx="1311.9" cy="942.6" r="2.75"/>
<circle cx="1300.8" cy="942.2" r="2.75"/>
<circle cx="1292.5" cy="941.5" r="2.75"/>
<circle cx="1285.7" cy="930.6" r="2.75"/>
<circle cx="1271.2" cy="928.9" r="2.75"/>
<circle cx="1259.7" cy="913.2" r="2.75"/>
<circle cx="1258.7" cy="915.1" r="2.75"/>
<circle cx="1234.7" cy="913.1" r="2.75"/>
<circle cx="1231.2" cy="928.6" r="2.75"/>
<circle cx="1217.6" cy="938.1" r="2.75"/>
<circle cx="1201.6" cy="889.7" r="2.75"/>
<circle cx="1241.4" cy="886.8" r="2.75"/>
<circle cx="1246.7" cy="888.8" r="2.75"/>
<circle cx="1248.3" cy="892.1" r="2.75"/>
<circle cx="1255.4" cy="884.8" r="2.75"/>
<circle cx="1291.5" cy="883.1" r="2.75"/>
<circle cx="1275.7" cy="880.1" r="2.75"/>
<circle cx="1269.2" cy="875.6" r="2.75"/>
<circle cx="1270.4" cy="868.8" r="2.75"/>
<circle cx="1287.5" cy="870.5" r="2.75"/>
<circle cx="1295.1" cy="872.4" r="2.75"/>
<circle cx="1292.8" cy="875.5" r="2.75"/>
<circle cx="1301.2" cy="875.5" r="2.75"/>
<circle cx="1288.8" cy="858.1" r="2.75"/>
<circle cx="1284.1" cy="856.8" r="2.75"/>
<circle cx="1284.1" cy="863.4" r="2.75"/>
<circle cx="1278.1" cy="860.8" r="2.75"/>
<circle cx="1274.8" cy="863.4" r="2.75"/>
<circle cx="1279.4" cy="864.8" r="2.75"/>
<circle cx="1268.1" cy="859.2" r="2.75"/>
<circle cx="1260.8" cy="860.1" r="2.75"/>
<circle cx="1256.1" cy="857.4" r="2.75"/>
<circle cx="1246.7" cy="861.2" r="2.75"/>
<circle cx="1250.7" cy="864.8" r="2.75"/>
<circle cx="1240.0" cy="860.8" r="2.75"/>
<circle cx="1242.1" cy="866.1" r="2.75"/>
<circle cx="1243.0" cy="871.0" r="2.75"/>
<circle cx="1235.8" cy="870.4" r="2.75"/>
<circle cx="1226.0" cy="865.4" r="2.75"/>
<circle cx="1228.4" cy="873.5" r="2.75"/>
<circle cx="1233.6" cy="876.5" r="2.75"/>
<circle cx="1398.9" cy="870.8" r="2.75"/>
<circle cx="1398.9" cy="874.8" r="2.75"/>
<circle cx="1204.0" cy="828.0" r="2.75"/>
<circle cx="1212.0" cy="833.4" r="2.75"/>
<circle cx="1202.0" cy="832.1" r="2.75"/>
<circle cx="1203.3" cy="836.7" r="2.75"/>
<circle cx="1208.0" cy="840.7" r="2.75"/>
<circle cx="1212.0" cy="842.1" r="2.75"/>
<circle cx="1215.3" cy="842.1" r="2.75"/>
<circle cx="1209.3" cy="845.4" r="2.75"/>
<circle cx="1207.3" cy="848.8" r="2.75"/>
<circle cx="1210.0" cy="853.4" r="2.75"/>
<circle cx="1213.3" cy="856.8" r="2.75"/>
<circle cx="1218.7" cy="848.8" r="2.75"/>
<circle cx="1222.0" cy="850.8" r="2.75"/>
<circle cx="1224.7" cy="845.4" r="2.75"/>
<circle cx="1223.4" cy="854.1" r="2.75"/>
<circle cx="1200.7" cy="846.1" r="2.75"/>
<circle cx="1226.7" cy="838.7" r="2.75"/>
<circle cx="1230.7" cy="837.4" r="2.75"/>
<circle cx="1233.4" cy="841.4" r="2.75"/>
<circle cx="1234.7" cy="852.1" r="2.75"/>
<circle cx="1238.0" cy="856.1" r="2.75"/>
<circle cx="1275.9" cy="946.2" r="2.75"/>
<circle cx="1284.2" cy="947.1" r="2.75"/>
<circle cx="1316.6" cy="946.2" r="2.75"/>
<circle cx="1294.1" cy="949.9" r="2.75"/>
<circle cx="1291.0" cy="953.3" r="2.75"/>
<circle cx="1237.8" cy="951.3" r="2.75"/>
<circle cx="1233.7" cy="954.2" r="2.75"/>
<circle cx="1246.5" cy="951.1" r="2.75"/>
<circle cx="1247.4" cy="953.8" r="2.75"/>
<circle cx="1260.9" cy="953.3" r="2.75"/>
<circle cx="1258.6" cy="956.0" r="2.75"/>
<circle cx="1256.6" cy="957.8" r="2.75"/>
<circle cx="1265.4" cy="958.0" r="2.75"/>
<circle cx="1326.7" cy="953.6" r="2.75"/>
<circle cx="1303.6" cy="958.3" r="2.75"/>
<circle cx="1307.6" cy="959.2" r="2.75"/>
<circle cx="1290.1" cy="961.0" r="2.75"/>
<circle cx="1294.6" cy="962.8" r="2.75"/>
<circle cx="1297.0" cy="962.8" r="2.75"/>
<circle cx="1305.8" cy="962.5" r="2.75"/>
<circle cx="1341.1" cy="961.2" r="2.75"/>
<circle cx="1371.2" cy="979.2" r="2.75"/>
<circle cx="1381.9" cy="1018.7" r="2.75"/>
<circle cx="1157.8" cy="950.4" r="2.75"/>
<circle cx="1172.4" cy="949.9" r="2.75"/>
<circle cx="1157.8" cy="965.4" r="2.75"/>
<circle cx="1167.6" cy="964.5" r="2.75"/>
</g>
<g fill="#0f0">
<circle cx="353.7" cy="108.4" r="2.75"/>
<circle cx="353.1" cy="130.2" r="2.75"/>
<circle cx="449.2" cy="119.6" r="2.75"/>
<circle cx="387.5" cy="155.7" r="2.75"/>
<circle cx="391.5" cy="176.1" r="2.75"/>
<circle cx="408.1" cy="180.3" r="2.75"/>
<circle cx="427.6" cy="184.1" r="2.75"/>
<circle cx="373.9" cy="186.5" r="2.75"/>
<circle cx="403.5" cy="193.3" r="2.75"/>
<circle cx="444.6" cy="196.7" r="2.75"/>
<circle cx="441.0" cy="200.9" r="2.75"/>
<circle cx="442.2" cy="228.8" r="2.75"/>
<circle cx="352.5" cy="238.8" r="2.75"/>
<circle cx="370.5" cy="243.0" r="2.75"/>
<circle cx="434.2" cy="243.4" r="2.75"/>
<circle cx="400.9" cy="258.4" r="2.75"/>
<circle cx="446.0" cy="259.6" r="2.75"/>
<circle cx="448.4" cy="259.2" r="2.75"/>
<circle cx="434.6" cy="274.2" r="2.75"/>
<circle cx="444.6" cy="287.1" r="2.75"/>
<circle cx="443.4" cy="305.1" r="2.75"/>
<circle cx="415.4" cy="317.7" r="2.75"/>
<circle cx="451.0" cy="119.8" r="2.75"/>
<circle cx="452.8" cy="142.5" r="2.75"/>
<circle cx="513.7" cy="141.9" r="2.75"/>
<circle cx="473.2" cy="152.1" r="2.75"/>
<circle cx="595.2" cy="155.3" r="2.75"/>
<circle cx="575.2" cy="161.1" r="2.75"/>
<circle cx="531.3" cy="167.5" r="2.75"/>
<circle cx="522.5" cy="170.5" r="2.75"/>
<circle cx="481.0" cy="171.5" r="2.75"/>
<circle cx="567.6" cy="172.9" r="2.75"/>
<circle cx="465.0" cy="177.9" r="2.75"/>
<circle cx="644.7" cy="165.3" r="2.75"/>
<circle cx="642.3" cy="168.3" r="2.75"/>
<circle cx="653.3" cy="166.9" r="2.75"/>
<circle cx="654.3" cy="180.1" r="2.75"/>
<circle cx="646.1" cy="189.5" r="2.75"/>
<circle cx="655.5" cy="191.9" r="2.75"/>
<circle cx="656.9" cy="203.2" r="2.75"/>
<circle cx="479.0" cy="193.7" r="2.75"/>
<circle cx="585.2" cy="193.5" r="2.75"/>
<circle cx="611.8" cy="194.1" r="2.75"/>
<circle cx="611.6" cy="199.8" r="2.75"/>
<circle cx="529.5" cy="195.5" r="2.75"/>
<circle cx="505.5" cy="198.7" r="2.75"/>
<circle cx="497.9" cy="201.8" r="2.75"/>
<circle cx="556.7" cy="201.9" r="2.75"/>
<circle cx="517.7" cy="207.2" r="2.75"/>
<circle cx="586.6" cy="207.4" r="2.75"/>
<circle cx="585.8" cy="210.8" r="2.75"/>
<circle cx="599.6" cy="209.6" r="2.75"/>
<circle cx="487.9" cy="210.4" r="2.75"/>
<circle cx="495.7" cy="210.6" r="2.75"/>
<circle cx="499.7" cy="214.8" r="2.75"/>
<circle cx="479.6" cy="216.2" r="2.75"/>
<circle cx="519.9" cy="215.2" r="2.75"/>
<circle cx="548.9" cy="213.6" r="2.75"/>
<circle cx="588.6" cy="215.6" r="2.75"/>
<circle cx="601.4" cy="217.0" r="2.75"/>
<circle cx="611.0" cy="216.4" r="2.75"/>
<circle cx="583.6" cy="218.2" r="2.75"/>
<circle cx="582.0" cy="220.2" r="2.75"/>
<circle cx="467.6" cy="218.6" r="2.75"/>
<circle cx="517.7" cy="221.6" r="2.75"/>
<circle cx="538.7" cy="221.0" r="2.75"/>
<circle cx="488.6" cy="225.6" r="2.75"/>
<circle cx="615.2" cy="223.4" r="2.75"/>
<circle cx="523.5" cy="224.8" r="2.75"/>
<circle cx="457.8" cy="225.8" r="2.75"/>
<circle cx="544.1" cy="227.4" r="2.75"/>
<circle cx="527.5" cy="229.6" r="2.75"/>
<circle cx="565.4" cy="229.4" r="2.75"/>
<circle cx="572.8" cy="232.0" r="2.75"/>
<circle cx="604.0" cy="232.6" r="2.75"/>
<circle cx="600.4" cy="235.2" r="2.75"/>
<circle cx="667.5" cy="231.2" r="2.75"/>
<circle cx="690.1" cy="231.0" r="2.75"/>
<circle cx="700.9" cy="231.4" r="2.75"/>
<circle cx="492.5" cy="232.6" r="2.75"/>
<circle cx="506.3" cy="233.6" r="2.75"/>
<circle cx="536.1" cy="233.4" r="2.75"/>
<circle cx="522.9" cy="234.2" r="2.75"/>
<circle cx="462.0" cy="234.2" r="2.75"/>
<circle cx="466.2" cy="237.6" r="2.75"/>
<circle cx="497.3" cy="237.2" r="2.75"/>
<circle cx="548.7" cy="236.8" r="2.75"/>
<circle cx="593.0" cy="237.4" r="2.75"/>
<circle cx="590.4" cy="241.2" r="2.75"/>
<circle cx="595.4" cy="243.6" r="2.75"/>
<circle cx="617.4" cy="239.8" r="2.75"/>
<circle cx="544.9" cy="239.4" r="2.75"/>
<circle cx="525.7" cy="239.2" r="2.75"/>
<circle cx="516.5" cy="240.6" r="2.75"/>
<circle cx="489.9" cy="240.6" r="2.75"/>
<circle cx="664.9" cy="239.2" r="2.75"/>
<circle cx="663.1" cy="243.2" r="2.75"/>
<circle cx="680.1" cy="238.8" r="2.75"/>
<circle cx="692.9" cy="240.0" r="2.75"/>
<circle cx="688.7" cy="242.0" r="2.75"/>
<circle cx="733.8" cy="243.4" r="2.75"/>
<circle cx="551.3" cy="243.2" r="2.75"/>
<circle cx="570.2" cy="244.2" r="2.75"/>
<circle cx="524.9" cy="243.2" r="2.75"/>
<circle cx="523.3" cy="246.2" r="2.75"/>
<circle cx="505.7" cy="249.2" r="2.75"/>
<circle cx="509.5" cy="247.6" r="2.75"/>
<circle cx="512.1" cy="249.2" r="2.75"/>
<circle cx="517.1" cy="251.4" r="2.75"/>
<circle cx="543.7" cy="247.8" r="2.75"/>
<circle cx="544.1" cy="250.8" r="2.75"/>
<circle cx="562.4" cy="249.6" r="2.75"/>
<circle cx="568.2" cy="249.2" r="2.75"/>
<circle cx="572.6" cy="251.8" r="2.75"/>
<circle cx="601.0" cy="246.8" r="2.75"/>
<circle cx="605.4" cy="246.8" r="2.75"/>
<circle cx="609.6" cy="246.8" r="2.75"/>
<circle cx="599.2" cy="250.8" r="2.75"/>
<circle cx="598.4" cy="254.2" r="2.75"/>
<circle cx="614.8" cy="254.2" r="2.75"/>
<circle cx="695.3" cy="249.6" r="2.75"/>
<circle cx="696.1" cy="253.8" r="2.75"/>
<circle cx="649.9" cy="254.8" r="2.75"/>
<circle cx="510.5" cy="256.2" r="2.75"/>
<circle cx="464.4" cy="255.6" r="2.75"/>
<circle cx="542.1" cy="255.2" r="2.75"/>
<circle cx="554.1" cy="253.8" r="2.75"/>
<circle cx="566.6" cy="257.8" r="2.75"/>
<circle cx="582.2" cy="260.4" r="2.75"/>
<circle cx="592.2" cy="258.4" r="2.75"/>
<circle cx="598.4" cy="260.2" r="2.75"/>
<circle cx="606.2" cy="260.8" r="2.75"/>
<circle cx="609.2" cy="262.2" r="2.75"/>
<circle cx="614.2" cy="263.4" r="2.75"/>
<circle cx="607.6" cy="265.8" r="2.75"/>
<circle cx="636.2" cy="257.2" r="2.75"/>
<circle cx="632.6" cy="258.2" r="2.75"/>
<circle cx="629.2" cy="261.6" r="2.75"/>
<circle cx="629.6" cy="266.4" r="2.75"/>
<circle cx="647.1" cy="261.8" r="2.75"/>
<circle cx="656.5" cy="260.4" r="2.75"/>
<circle cx="660.7" cy="259.2" r="2.75"/>
<circle cx="663.1" cy="265.8" r="2.75"/>
<circle cx="651.1" cy="267.4" r="2.75"/>
<circle cx="680.3" cy="256.2" r="2.75"/>
<circle cx="685.9" cy="256.8" r="2.75"/>
<circle cx="692.5" cy="257.2" r="2.75"/>
<circle cx="679.1" cy="261.2" r="2.75"/>
<circle cx="713.5" cy="263.8" r="2.75"/>
<circle cx="504.5" cy="259.4" r="2.75"/>
<circle cx="508.7" cy="261.2" r="2.75"/>
<circle cx="546.3" cy="262.8" r="2.75"/>
<circle cx="537.5" cy="264.2" r="2.75"/>
<circle cx="565.8" cy="263.4" r="2.75"/>
<circle cx="479.4" cy="266.4" r="2.75"/>
<circle cx="485.2" cy="268.2" r="2.75"/>
<circle cx="522.5" cy="270.8" r="2.75"/>
<circle cx="491.9" cy="274.1" r="2.75"/>
<circle cx="511.3" cy="276.2" r="2.75"/>
<circle cx="545.7" cy="276.6" r="2.75"/>
<circle cx="567.6" cy="269.6" r="2.75"/>
<circle cx="569.4" cy="272.6" r="2.75"/>
<circle cx="571.0" cy="277.4" r="2.75"/>
<circle cx="579.8" cy="271.2" r="2.75"/>
<circle cx="597.2" cy="269.6" r="2.75"/>
<circle cx="595.0" cy="274.2" r="2.75"/>
<circle cx="601.0" cy="276.2" r="2.75"/>
<circle cx="604.0" cy="279.9" r="2.75"/>
<circle cx="617.8" cy="273.2" r="2.75"/>
<circle cx="628.2" cy="273.2" r="2.75"/>
<circle cx="640.2" cy="269.6" r="2.75"/>
<circle cx="640.9" cy="275.2" r="2.75"/>
<circle cx="643.3" cy="278.6" r="2.75"/>
<circle cx="637.9" cy="279.2" r="2.75"/>
<circle cx="631.8" cy="281.3" r="2.75"/>
<circle cx="626.4" cy="281.9" r="2.75"/>
<circle cx="618.2" cy="281.3" r="2.75"/>
<circle cx="610.2" cy="284.3" r="2.75"/>
<circle cx="648.3" cy="275.2" r="2.75"/>
<circle cx="650.5" cy="274.9" r="2.75"/>
<circle cx="657.1" cy="271.8" r="2.75"/>
<circle cx="675.9" cy="270.2" r="2.75"/>
<circle cx="684.9" cy="271.8" r="2.75"/>
<circle cx="680.3" cy="273.2" r="2.75"/>
<circle cx="670.3" cy="275.9" r="2.75"/>
<circle cx="671.9" cy="279.2" r="2.75"/>
<circle cx="674.3" cy="281.3" r="2.75"/>
<circle cx="678.3" cy="278.2" r="2.75"/>
<circle cx="677.3" cy="283.9" r="2.75"/>
<circle cx="682.3" cy="283.3" r="2.75"/>
<circle cx="701.5" cy="278.2" r="2.75"/>
<circle cx="723.6" cy="276.9" r="2.75"/>
<circle cx="747.6" cy="293.5" r="2.75"/>
<circle cx="714.4" cy="289.1" r="2.75"/>
<circle cx="694.3" cy="286.7" r="2.75"/>
<circle cx="697.5" cy="288.7" r="2.75"/>
<circle cx="680.7" cy="290.3" r="2.75"/>
<circle cx="467.0" cy="285.7" r="2.75"/>
<circle cx="488.9" cy="287.9" r="2.75"/>
<circle cx="527.5" cy="280.2" r="2.75"/>
<circle cx="519.5" cy="288.7" r="2.75"/>
<circle cx="544.9" cy="285.9" r="2.75"/>
<circle cx="548.7" cy="290.3" r="2.75"/>
<circle cx="570.2" cy="288.3" r="2.75"/>
<circle cx="560.1" cy="291.3" r="2.75"/>
<circle cx="584.6" cy="290.9" r="2.75"/>
<circle cx="588.8" cy="292.3" r="2.75"/>
<circle cx="604.2" cy="290.9" r="2.75"/>
<circle cx="605.2" cy="295.3" r="2.75"/>
<circle cx="621.2" cy="295.3" r="2.75"/>
<circle cx="613.2" cy="294.9" r="2.75"/>
<circle cx="642.3" cy="286.3" r="2.75"/>
<circle cx="643.9" cy="290.3" r="2.75"/>
<circle cx="641.3" cy="292.3" r="2.75"/>
<circle cx="644.3" cy="295.3" r="2.75"/>
<circle cx="641.3" cy="299.3" r="2.75"/>
<circle cx="651.9" cy="287.3" r="2.75"/>
<circle cx="655.3" cy="290.3" r="2.75"/>
<circle cx="661.3" cy="290.3" r="2.75"/>
<circle cx="657.3" cy="293.9" r="2.75"/>
<circle cx="667.9" cy="295.3" r="2.75"/>
<circle cx="674.3" cy="294.7" r="2.75"/>
<circle cx="676.3" cy="297.3" r="2.75"/>
<circle cx="686.9" cy="295.7" r="2.75"/>
<circle cx="687.7" cy="301.9" r="2.75"/>
<circle cx="704.9" cy="301.3" r="2.75"/>
<circle cx="465.6" cy="295.5" r="2.75"/>
<circle cx="537.5" cy="292.9" r="2.75"/>
<circle cx="533.1" cy="300.7" r="2.75"/>
<circle cx="550.1" cy="297.3" r="2.75"/>
<circle cx="547.1" cy="301.3" r="2.75"/>
<circle cx="546.1" cy="303.3" r="2.75"/>
<circle cx="597.2" cy="296.7" r="2.75"/>
<circle cx="599.2" cy="299.7" r="2.75"/>
<circle cx="618.2" cy="299.3" r="2.75"/>
<circle cx="607.2" cy="305.3" r="2.75"/>
<circle cx="614.2" cy="305.9" r="2.75"/>
<circle cx="625.8" cy="305.3" r="2.75"/>
<circle cx="565.1" cy="301.9" r="2.75"/>
<circle cx="575.8" cy="303.3" r="2.75"/>
<circle cx="572.2" cy="306.3" r="2.75"/>
<circle cx="579.2" cy="306.3" r="2.75"/>
<circle cx="565.1" cy="307.3" r="2.75"/>
<circle cx="558.5" cy="306.7" r="2.75"/>
<circle cx="552.5" cy="305.3" r="2.75"/>
<circle cx="553.1" cy="310.3" r="2.75"/>
<circle cx="566.1" cy="311.9" r="2.75"/>
<circle cx="593.6" cy="311.3" r="2.75"/>
<circle cx="604.2" cy="307.3" r="2.75"/>
<circle cx="630.2" cy="308.3" r="2.75"/>
<circle cx="632.2" cy="311.3" r="2.75"/>
<circle cx="637.2" cy="315.3" r="2.75"/>
<circle cx="640.2" cy="314.3" r="2.75"/>
<circle cx="640.2" cy="305.3" r="2.75"/>
<circle cx="645.3" cy="306.3" r="2.75"/>
<circle cx="649.3" cy="308.7" r="2.75"/>
<circle cx="657.3" cy="308.3" r="2.75"/>
<circle cx="665.3" cy="303.9" r="2.75"/>
<circle cx="671.3" cy="306.3" r="2.75"/>
<circle cx="669.3" cy="310.3" r="2.75"/>
<circle cx="670.3" cy="312.3" r="2.75"/>
<circle cx="678.3" cy="309.3" r="2.75"/>
<circle cx="682.3" cy="308.3" r="2.75"/>
<circle cx="675.3" cy="316.3" r="2.75"/>
<circle cx="680.3" cy="318.3" r="2.75"/>
<circle cx="663.3" cy="317.3" r="2.75"/>
<circle cx="654.3" cy="318.3" r="2.75"/>
<circle cx="650.3" cy="320.3" r="2.75"/>
<circle cx="641.3" cy="322.3" r="2.75"/>
<circle cx="631.2" cy="320.3" r="2.75"/>
<circle cx="618.2" cy="313.3" r="2.75"/>
<circle cx="610.2" cy="317.3" r="2.75"/>
<circle cx="606.2" cy="318.3" r="2.75"/>
<circle cx="581.2" cy="319.3" r="2.75"/>
<circle cx="569.2" cy="318.9" r="2.75"/>
<circle cx="704.3" cy="310.7" r="2.75"/>
<circle cx="719.4" cy="309.5" r="2.75"/>
<circle cx="736.4" cy="306.3" r="2.75"/>
<circle cx="726.0" cy="323.3" r="2.75"/>
<circle cx="484.4" cy="305.3" r="2.75"/>
<circle cx="493.7" cy="304.3" r="2.75"/>
<circle cx="491.1" cy="307.3" r="2.75"/>
<circle cx="480.0" cy="318.3" r="2.75"/>
<circle cx="507.5" cy="313.3" r="2.75"/>
<circle cx="517.7" cy="312.9" r="2.75"/>
<circle cx="506.1" cy="321.3" r="2.75"/>
<circle cx="512.5" cy="304.7" r="2.75"/>
<circle cx="527.1" cy="316.7" r="2.75"/>
<circle cx="531.1" cy="315.7" r="2.75"/>
<circle cx="537.5" cy="317.9" r="2.75"/>
<circle cx="534.1" cy="322.3" r="2.75"/>
<circle cx="578.2" cy="322.3" r="2.75"/>
<circle cx="459.0" cy="323.3" r="2.75"/>
<circle cx="781.8" cy="268.8" r="2.75"/>
<circle cx="767.0" cy="276.1" r="2.75"/>
<circle cx="769.0" cy="277.2" r="2.75"/>
<circle cx="776.4" cy="277.4" r="2.75"/>
<circle cx="800.5" cy="278.9" r="2.75"/>
<circle cx="778.0" cy="288.3" r="2.75"/>
<circle cx="803.3" cy="288.7" r="2.75"/>
<circle cx="804.5" cy="288.3" r="2.75"/>
<circle cx="802.7" cy="294.1" r="2.75"/>
<circle cx="765.6" cy="304.7" r="2.75"/>
<circle cx="838.9" cy="307.9" r="2.75"/>
<circle cx="915.4" cy="304.1" r="2.75"/>
<circle cx="865.1" cy="313.1" r="2.75"/>
<circle cx="866.1" cy="314.1" r="2.75"/>
<circle cx="771.0" cy="321.7" r="2.75"/>
<circle cx="773.6" cy="323.1" r="2.75"/>
<circle cx="785.0" cy="321.7" r="2.75"/>
<circle cx="392.1" cy="340.8" r="2.75"/>
<circle cx="428.4" cy="370.1" r="2.75"/>
<circle cx="448.0" cy="376.7" r="2.75"/>
<circle cx="395.1" cy="380.3" r="2.75"/>
<circle cx="461.8" cy="325.7" r="2.75"/>
<circle cx="469.8" cy="332.6" r="2.75"/>
<circle cx="461.5" cy="336.1" r="2.75"/>
<circle cx="470.0" cy="337.0" r="2.75"/>
<circle cx="522.5" cy="325.0" r="2.75"/>
<circle cx="529.0" cy="325.4" r="2.75"/>
<circle cx="535.5" cy="325.4" r="2.75"/>
<circle cx="545.9" cy="329.3" r="2.75"/>
<circle cx="544.1" cy="331.3" r="2.75"/>
<circle cx="542.4" cy="333.0" r="2.75"/>
<circle cx="562.4" cy="329.4" r="2.75"/>
<circle cx="562.4" cy="340.2" r="2.75"/>
<circle cx="577.5" cy="324.1" r="2.75"/>
<circle cx="584.2" cy="324.3" r="2.75"/>
<circle cx="592.2" cy="326.3" r="2.75"/>
<circle cx="584.9" cy="331.0" r="2.75"/>
<circle cx="580.2" cy="332.6" r="2.75"/>
<circle cx="582.2" cy="336.4" r="2.75"/>
<circle cx="590.9" cy="334.8" r="2.75"/>
<circle cx="579.5" cy="342.6" r="2.75"/>
<circle cx="587.5" cy="345.0" r="2.75"/>
<circle cx="604.9" cy="328.3" r="2.75"/>
<circle cx="603.5" cy="331.7" r="2.75"/>
<circle cx="608.2" cy="334.4" r="2.75"/>
<circle cx="612.2" cy="328.3" r="2.75"/>
<circle cx="609.5" cy="324.3" r="2.75"/>
<circle cx="616.2" cy="325.0" r="2.75"/>
<circle cx="620.2" cy="324.6" r="2.75"/>
<circle cx="624.6" cy="330.6" r="2.75"/>
<circle cx="639.6" cy="329.0" r="2.75"/>
<circle cx="641.6" cy="323.7" r="2.75"/>
<circle cx="645.6" cy="333.9" r="2.75"/>
<circle cx="621.2" cy="340.4" r="2.75"/>
<circle cx="610.9" cy="340.4" r="2.75"/>
<circle cx="615.5" cy="341.3" r="2.75"/>
<circle cx="638.2" cy="338.4" r="2.75"/>
<circle cx="640.2" cy="339.7" r="2.75"/>
<circle cx="640.2" cy="343.7" r="2.75"/>
<circle cx="645.2" cy="346.8" r="2.75"/>
<circle cx="611.5" cy="346.0" r="2.75"/>
<circle cx="622.2" cy="346.4" r="2.75"/>
<circle cx="618.0" cy="348.1" r="2.75"/>
<circle cx="626.5" cy="347.4" r="2.75"/>
<circle cx="634.9" cy="347.0" r="2.75"/>
<circle cx="636.9" cy="349.0" r="2.75"/>
<circle cx="632.2" cy="351.0" r="2.75"/>
<circle cx="606.5" cy="350.8" r="2.75"/>
<circle cx="613.1" cy="351.7" r="2.75"/>
<circle cx="620.6" cy="353.7" r="2.75"/>
<circle cx="639.3" cy="354.6" r="2.75"/>
<circle cx="634.9" cy="355.7" r="2.75"/>
<circle cx="648.9" cy="354.4" r="2.75"/>
<circle cx="593.5" cy="347.7" r="2.75"/>
<circle cx="595.3" cy="349.0" r="2.75"/>
<circle cx="594.9" cy="351.7" r="2.75"/>
<circle cx="596.9" cy="355.7" r="2.75"/>
<circle cx="582.2" cy="353.4" r="2.75"/>
<circle cx="579.5" cy="355.3" r="2.75"/>
<circle cx="591.1" cy="357.7" r="2.75"/>
<circle cx="608.2" cy="358.6" r="2.75"/>
<circle cx="627.6" cy="362.1" r="2.75"/>
<circle cx="632.2" cy="364.4" r="2.75"/>
<circle cx="604.2" cy="363.1" r="2.75"/>
<circle cx="606.9" cy="365.7" r="2.75"/>
<circle cx="607.5" cy="367.7" r="2.75"/>
<circle cx="603.5" cy="370.0" r="2.75"/>
<circle cx="618.0" cy="363.1" r="2.75"/>
<circle cx="615.5" cy="365.7" r="2.75"/>
<circle cx="614.9" cy="367.1" r="2.75"/>
<circle cx="622.2" cy="367.7" r="2.75"/>
<circle cx="590.9" cy="369.5" r="2.75"/>
<circle cx="596.6" cy="372.4" r="2.75"/>
<circle cx="639.3" cy="369.7" r="2.75"/>
<circle cx="648.9" cy="362.6" r="2.75"/>
<circle cx="645.6" cy="373.7" r="2.75"/>
<circle cx="647.6" cy="372.4" r="2.75"/>
<circle cx="646.3" cy="376.4" r="2.75"/>
<circle cx="648.9" cy="375.1" r="2.75"/>
<circle cx="635.6" cy="378.0" r="2.75"/>
<circle cx="591.5" cy="379.7" r="2.75"/>
<circle cx="503.7" cy="351.2" r="2.75"/>
<circle cx="510.8" cy="356.0" r="2.75"/>
<circle cx="518.6" cy="359.1" r="2.75"/>
<circle cx="486.6" cy="361.4" r="2.75"/>
<circle cx="543.2" cy="346.8" r="2.75"/>
<circle cx="540.5" cy="353.0" r="2.75"/>
<circle cx="536.1" cy="360.4" r="2.75"/>
<circle cx="530.4" cy="370.7" r="2.75"/>
<circle cx="556.8" cy="348.1" r="2.75"/>
<circle cx="558.8" cy="349.0" r="2.75"/>
<circle cx="551.2" cy="358.4" r="2.75"/>
<circle cx="560.0" cy="372.5" r="2.75"/>
<circle cx="457.3" cy="381.1" r="2.75"/>
<circle cx="462.6" cy="389.5" r="2.75"/>
<circle cx="508.9" cy="400.4" r="2.75"/>
<circle cx="546.3" cy="383.4" r="2.75"/>
<circle cx="537.6" cy="394.2" r="2.75"/>
<circle cx="570.4" cy="391.5" r="2.75"/>
<circle cx="535.6" cy="408.2" r="2.75"/>
<circle cx="548.1" cy="408.4" r="2.75"/>
<circle cx="538.4" cy="415.0" r="2.75"/>
<circle cx="553.2" cy="416.1" r="2.75"/>
<circle cx="531.3" cy="426.3" r="2.75"/>
<circle cx="513.4" cy="472.7" r="2.75"/>
<circle cx="519.0" cy="472.7" r="2.75"/>
<circle cx="612.2" cy="387.5" r="2.75"/>
<circle cx="595.8" cy="389.4" r="2.75"/>
<circle cx="623.3" cy="392.0" r="2.75"/>
<circle cx="625.6" cy="394.2" r="2.75"/>
<circle cx="586.6" cy="393.4" r="2.75"/>
<circle cx="583.5" cy="396.2" r="2.75"/>
<circle cx="582.2" cy="399.1" r="2.75"/>
<circle cx="591.5" cy="399.4" r="2.75"/>
<circle cx="589.5" cy="401.8" r="2.75"/>
<circle cx="608.9" cy="401.1" r="2.75"/>
<circle cx="590.2" cy="410.1" r="2.75"/>
<circle cx="618.5" cy="405.1" r="2.75"/>
<circle cx="623.8" cy="404.4" r="2.75"/>
<circle cx="620.2" cy="408.4" r="2.75"/>
<circle cx="623.6" cy="410.4" r="2.75"/>
<circle cx="635.3" cy="406.4" r="2.75"/>
<circle cx="646.5" cy="408.2" r="2.75"/>
<circle cx="633.6" cy="387.4" r="2.75"/>
<circle cx="641.6" cy="389.1" r="2.75"/>
<circle cx="648.3" cy="387.5" r="2.75"/>
<circle cx="605.5" cy="414.9" r="2.75"/>
<circle cx="602.2" cy="416.5" r="2.75"/>
<circle cx="592.2" cy="418.7" r="2.75"/>
<circle cx="585.5" cy="420.1" r="2.75"/>
<circle cx="591.3" cy="426.5" r="2.75"/>
<circle cx="609.8" cy="422.9" r="2.75"/>
<circle cx="623.6" cy="421.8" r="2.75"/>
<circle cx="632.6" cy="416.5" r="2.75"/>
<circle cx="643.3" cy="424.2" r="2.75"/>
<circle cx="634.9" cy="430.6" r="2.75"/>
<circle cx="603.5" cy="437.4" r="2.75"/>
<circle cx="602.6" cy="440.5" r="2.75"/>
<circle cx="625.6" cy="440.5" r="2.75"/>
<circle cx="622.2" cy="444.5" r="2.75"/>
<circle cx="620.6" cy="446.5" r="2.75"/>
<circle cx="618.6" cy="451.8" r="2.75"/>
<circle cx="648.9" cy="442.2" r="2.75"/>
<circle cx="646.5" cy="449.2" r="2.75"/>
<circle cx="646.3" cy="455.4" r="2.75"/>
<circle cx="648.9" cy="460.5" r="2.75"/>
<circle cx="656.0" cy="328.3" r="2.75"/>
<circle cx="683.4" cy="325.4" r="2.75"/>
<circle cx="678.7" cy="329.4" r="2.75"/>
<circle cx="676.7" cy="331.0" r="2.75"/>
<circle cx="669.4" cy="331.0" r="2.75"/>
<circle cx="666.7" cy="332.6" r="2.75"/>
<circle cx="665.4" cy="333.7" r="2.75"/>
<circle cx="658.7" cy="335.3" r="2.75"/>
<circle cx="673.4" cy="335.3" r="2.75"/>
<circle cx="676.4" cy="336.8" r="2.75"/>
<circle cx="694.1" cy="332.1" r="2.75"/>
<circle cx="688.7" cy="336.4" r="2.75"/>
<circle cx="690.0" cy="339.7" r="2.75"/>
<circle cx="687.4" cy="341.0" r="2.75"/>
<circle cx="664.0" cy="340.4" r="2.75"/>
<circle cx="665.4" cy="343.0" r="2.75"/>
<circle cx="652.7" cy="344.4" r="2.75"/>
<circle cx="666.7" cy="347.0" r="2.75"/>
<circle cx="678.0" cy="344.4" r="2.75"/>
<circle cx="672.0" cy="350.1" r="2.75"/>
<circle cx="677.4" cy="349.7" r="2.75"/>
<circle cx="680.7" cy="349.0" r="2.75"/>
<circle cx="676.0" cy="353.0" r="2.75"/>
<circle cx="680.0" cy="353.0" r="2.75"/>
<circle cx="684.0" cy="354.4" r="2.75"/>
<circle cx="686.0" cy="349.0" r="2.75"/>
<circle cx="693.4" cy="346.8" r="2.75"/>
<circle cx="700.1" cy="346.8" r="2.75"/>
<circle cx="703.4" cy="343.0" r="2.75"/>
<circle cx="715.4" cy="348.1" r="2.75"/>
<circle cx="710.1" cy="353.0" r="2.75"/>
<circle cx="714.1" cy="356.4" r="2.75"/>
<circle cx="704.7" cy="356.1" r="2.75"/>
<circle cx="702.1" cy="359.1" r="2.75"/>
<circle cx="696.7" cy="362.0" r="2.75"/>
<circle cx="694.7" cy="357.4" r="2.75"/>
<circle cx="691.4" cy="359.1" r="2.75"/>
<circle cx="688.7" cy="361.7" r="2.75"/>
<circle cx="685.4" cy="358.4" r="2.75"/>
<circle cx="682.7" cy="359.7" r="2.75"/>
<circle cx="682.0" cy="362.4" r="2.75"/>
<circle cx="685.4" cy="366.4" r="2.75"/>
<circle cx="684.0" cy="371.1" r="2.75"/>
<circle cx="676.7" cy="367.7" r="2.75"/>
<circle cx="677.4" cy="369.7" r="2.75"/>
<circle cx="668.0" cy="362.8" r="2.75"/>
<circle cx="662.0" cy="356.4" r="2.75"/>
<circle cx="662.7" cy="358.4" r="2.75"/>
<circle cx="656.7" cy="358.4" r="2.75"/>
<circle cx="655.3" cy="361.1" r="2.75"/>
<circle cx="651.3" cy="354.0" r="2.75"/>
<circle cx="650.7" cy="362.4" r="2.75"/>
<circle cx="669.4" cy="373.3" r="2.75"/>
<circle cx="651.1" cy="373.7" r="2.75"/>
<circle cx="651.3" cy="377.1" r="2.75"/>
<circle cx="653.3" cy="382.4" r="2.75"/>
<circle cx="659.1" cy="387.5" r="2.75"/>
<circle cx="670.7" cy="385.1" r="2.75"/>
<circle cx="652.0" cy="391.8" r="2.75"/>
<circle cx="656.0" cy="394.4" r="2.75"/>
<circle cx="653.3" cy="396.4" r="2.75"/>
<circle cx="650.7" cy="389.8" r="2.75"/>
<circle cx="703.4" cy="373.7" r="2.75"/>
<circle cx="715.0" cy="365.5" r="2.75"/>
<circle cx="715.4" cy="367.7" r="2.75"/>
<circle cx="714.1" cy="382.8" r="2.75"/>
<circle cx="685.8" cy="381.7" r="2.75"/>
<circle cx="686.7" cy="385.8" r="2.75"/>
<circle cx="692.1" cy="389.8" r="2.75"/>
<circle cx="689.6" cy="392.4" r="2.75"/>
<circle cx="725.4" cy="324.6" r="2.75"/>
<circle cx="707.4" cy="325.9" r="2.75"/>
<circle cx="711.7" cy="331.3" r="2.75"/>
<circle cx="710.8" cy="334.4" r="2.75"/>
<circle cx="735.5" cy="330.3" r="2.75"/>
<circle cx="737.5" cy="332.6" r="2.75"/>
<circle cx="741.2" cy="335.7" r="2.75"/>
<circle cx="722.8" cy="338.4" r="2.75"/>
<circle cx="728.5" cy="337.9" r="2.75"/>
<circle cx="724.1" cy="341.7" r="2.75"/>
<circle cx="727.4" cy="343.7" r="2.75"/>
<circle cx="725.0" cy="347.0" r="2.75"/>
<circle cx="725.4" cy="354.4" r="2.75"/>
<circle cx="763.2" cy="337.9" r="2.75"/>
<circle cx="760.8" cy="342.4" r="2.75"/>
<circle cx="760.1" cy="344.1" r="2.75"/>
<circle cx="771.8" cy="344.4" r="2.75"/>
<circle cx="762.5" cy="350.6" r="2.75"/>
<circle cx="753.5" cy="351.3" r="2.75"/>
<circle cx="741.0" cy="359.1" r="2.75"/>
<circle cx="745.5" cy="362.0" r="2.75"/>
<circle cx="750.4" cy="358.4" r="2.75"/>
<circle cx="753.5" cy="362.4" r="2.75"/>
<circle cx="758.8" cy="360.4" r="2.75"/>
<circle cx="758.1" cy="362.4" r="2.75"/>
<circle cx="761.5" cy="365.5" r="2.75"/>
<circle cx="758.1" cy="367.7" r="2.75"/>
<circle cx="771.5" cy="359.1" r="2.75"/>
<circle cx="776.2" cy="363.4" r="2.75"/>
<circle cx="765.5" cy="371.7" r="2.75"/>
<circle cx="762.1" cy="374.0" r="2.75"/>
<circle cx="773.5" cy="372.7" r="2.75"/>
<circle cx="774.8" cy="377.1" r="2.75"/>
<circle cx="764.1" cy="380.4" r="2.75"/>
<circle cx="757.9" cy="383.4" r="2.75"/>
<circle cx="765.1" cy="385.5" r="2.75"/>
<circle cx="784.2" cy="371.7" r="2.75"/>
<circle cx="791.5" cy="376.8" r="2.75"/>
<circle cx="781.5" cy="378.8" r="2.75"/>
<circle cx="787.2" cy="384.4" r="2.75"/>
<circle cx="793.1" cy="385.1" r="2.75"/>
<circle cx="793.3" cy="358.5" r="2.75"/>
<circle cx="799.5" cy="364.7" r="2.75"/>
<circle cx="806.2" cy="354.8" r="2.75"/>
<circle cx="814.6" cy="357.1" r="2.75"/>
<circle cx="823.3" cy="344.0" r="2.75"/>
<circle cx="830.0" cy="343.7" r="2.75"/>
<circle cx="842.9" cy="325.7" r="2.75"/>
<circle cx="842.9" cy="340.4" r="2.75"/>
<circle cx="840.9" cy="375.5" r="2.75"/>
<circle cx="819.2" cy="380.1" r="2.75"/>
<circle cx="802.5" cy="387.5" r="2.75"/>
<circle cx="772.2" cy="391.8" r="2.75"/>
<circle cx="775.5" cy="392.4" r="2.75"/>
<circle cx="757.5" cy="392.4" r="2.75"/>
<circle cx="759.2" cy="394.0" r="2.75"/>
<circle cx="745.9" cy="396.7" r="2.75"/>
<circle cx="728.5" cy="388.4" r="2.75"/>
<circle cx="709.0" cy="398.0" r="2.75"/>
<circle cx="699.0" cy="399.5" r="2.75"/>
<circle cx="693.8" cy="402.8" r="2.75"/>
<circle cx="703.7" cy="403.4" r="2.75"/>
<circle cx="670.3" cy="404.7" r="2.75"/>
<circle cx="653.3" cy="408.1" r="2.75"/>
<circle cx="656.4" cy="416.5" r="2.75"/>
<circle cx="661.4" cy="420.5" r="2.75"/>
<circle cx="660.0" cy="422.5" r="2.75"/>
<circle cx="664.4" cy="426.9" r="2.75"/>
<circle cx="650.7" cy="441.8" r="2.75"/>
<circle cx="652.9" cy="444.5" r="2.75"/>
<circle cx="664.0" cy="443.8" r="2.75"/>
<circle cx="674.7" cy="441.8" r="2.75"/>
<circle cx="674.0" cy="451.8" r="2.75"/>
<circle cx="707.1" cy="447.8" r="2.75"/>
<circle cx="698.3" cy="417.8" r="2.75"/>
<circle cx="770.8" cy="398.4" r="2.75"/>
<circle cx="779.2" cy="397.8" r="2.75"/>
<circle cx="783.9" cy="397.8" r="2.75"/>
<circle cx="776.6" cy="400.8" r="2.75"/>
<circle cx="766.1" cy="403.8" r="2.75"/>
<circle cx="772.2" cy="405.8" r="2.75"/>
<circle cx="777.5" cy="406.4" r="2.75"/>
<circle cx="776.6" cy="410.1" r="2.75"/>
<circle cx="790.6" cy="398.8" r="2.75"/>
<circle cx="792.9" cy="402.4" r="2.75"/>
<circle cx="799.8" cy="398.0" r="2.75"/>
<circle cx="806.2" cy="402.0" r="2.75"/>
<circle cx="829.6" cy="396.7" r="2.75"/>
<circle cx="837.3" cy="397.8" r="2.75"/>
<circle cx="822.9" cy="405.1" r="2.75"/>
<circle cx="815.1" cy="407.1" r="2.75"/>
<circle cx="824.6" cy="410.4" r="2.75"/>
<circle cx="791.3" cy="413.4" r="2.75"/>
<circle cx="782.8" cy="416.1" r="2.75"/>
<circle cx="784.6" cy="419.8" r="2.75"/>
<circle cx="777.9" cy="418.7" r="2.75"/>
<circle cx="761.1" cy="414.1" r="2.75"/>
<circle cx="758.5" cy="418.6" r="2.75"/>
<circle cx="736.8" cy="407.1" r="2.75"/>
<circle cx="738.8" cy="410.4" r="2.75"/>
<circle cx="733.4" cy="413.4" r="2.75"/>
<circle cx="725.0" cy="415.4" r="2.75"/>
<circle cx="743.5" cy="417.5" r="2.75"/>
<circle cx="756.8" cy="427.4" r="2.75"/>
<circle cx="726.4" cy="426.9" r="2.75"/>
<circle cx="726.8" cy="433.8" r="2.75"/>
<circle cx="747.9" cy="430.5" r="2.75"/>
<circle cx="744.3" cy="434.5" r="2.75"/>
<circle cx="763.2" cy="435.6" r="2.75"/>
<circle cx="805.3" cy="415.4" r="2.75"/>
<circle cx="816.9" cy="424.2" r="2.75"/>
<circle cx="827.3" cy="429.8" r="2.75"/>
<circle cx="836.2" cy="437.3" r="2.75"/>
<circle cx="804.2" cy="441.8" r="2.75"/>
<circle cx="784.9" cy="441.2" r="2.75"/>
<circle cx="801.5" cy="449.6" r="2.75"/>
<circle cx="802.9" cy="455.6" r="2.75"/>
<circle cx="812.6" cy="457.2" r="2.75"/>
<circle cx="827.3" cy="448.8" r="2.75"/>
<circle cx="769.9" cy="449.2" r="2.75"/>
<circle cx="773.5" cy="454.2" r="2.75"/>
<circle cx="766.8" cy="459.6" r="2.75"/>
<circle cx="760.4" cy="465.2" r="2.75"/>
<circle cx="744.3" cy="450.8" r="2.75"/>
<circle cx="719.2" cy="467.5" r="2.75"/>
<circle cx="695.1" cy="472.8" r="2.75"/>
<circle cx="669.6" cy="472.1" r="2.75"/>
<circle cx="650.7" cy="460.5" r="2.75"/>
<circle cx="657.3" cy="463.6" r="2.75"/>
<circle cx="736.8" cy="477.9" r="2.75"/>
<circle cx="777.5" cy="470.8" r="2.75"/>
<circle cx="783.9" cy="475.2" r="2.75"/>
<circle cx="772.8" cy="477.9" r="2.75"/>
<circle cx="804.9" cy="472.3" r="2.75"/>
<circle cx="812.9" cy="472.1" r="2.75"/>
<circle cx="816.2" cy="472.1" r="2.75"/>
<circle cx="822.2" cy="469.5" r="2.75"/>
<circle cx="824.9" cy="471.9" r="2.75"/>
<circle cx="845.3" cy="464.8" r="2.75"/>
<circle cx="938.0" cy="326.2" r="2.75"/>
<circle cx="874.8" cy="339.0" r="2.75"/>
<circle cx="880.7" cy="340.8" r="2.75"/>
<circle cx="852.4" cy="348.0" r="2.75"/>
<circle cx="899.7" cy="349.4" r="2.75"/>
<circle cx="863.5" cy="362.8" r="2.75"/>
<circle cx="883.8" cy="363.2" r="2.75"/>
<circle cx="898.2" cy="369.3" r="2.75"/>
<circle cx="906.1" cy="375.2" r="2.75"/>
<circle cx="1040.1" cy="346.8" r="2.75"/>
<circle cx="885.8" cy="390.2" r="2.75"/>
<circle cx="888.5" cy="389.8" r="2.75"/>
<circle cx="917.2" cy="401.5" r="2.75"/>
<circle cx="921.7" cy="399.9" r="2.75"/>
<circle cx="913.4" cy="406.9" r="2.75"/>
<circle cx="915.7" cy="409.4" r="2.75"/>
<circle cx="924.0" cy="422.5" r="2.75"/>
<circle cx="907.5" cy="420.5" r="2.75"/>
<circle cx="900.1" cy="422.5" r="2.75"/>
<circle cx="883.4" cy="430.1" r="2.75"/>
<circle cx="937.7" cy="427.8" r="2.75"/>
<circle cx="936.8" cy="433.6" r="2.75"/>
<circle cx="959.8" cy="429.5" r="2.75"/>
<circle cx="957.9" cy="433.6" r="2.75"/>
<circle cx="974.8" cy="428.5" r="2.75"/>
<circle cx="858.0" cy="441.0" r="2.75"/>
<circle cx="864.3" cy="452.1" r="2.75"/>
<circle cx="924.2" cy="445.8" r="2.75"/>
<circle cx="916.5" cy="449.6" r="2.75"/>
<circle cx="940.1" cy="447.2" r="2.75"/>
<circle cx="970.6" cy="449.2" r="2.75"/>
<circle cx="973.5" cy="450.9" r="2.75"/>
<circle cx="998.5" cy="439.3" r="2.75"/>
<circle cx="858.5" cy="469.3" r="2.75"/>
<circle cx="920.6" cy="468.3" r="2.75"/>
<circle cx="956.3" cy="465.9" r="2.75"/>
<circle cx="962.5" cy="467.5" r="2.75"/>
<circle cx="985.8" cy="464.5" r="2.75"/>
<circle cx="1014.5" cy="460.0" r="2.75"/>
<circle cx="1029.3" cy="471.9" r="2.75"/>
<circle cx="1036.9" cy="473.2" r="2.75"/>
<circle cx="943.1" cy="475.5" r="2.75"/>
<circle cx="974.8" cy="476.3" r="2.75"/>
<circle cx="1078.2" cy="329.0" r="2.75"/>
<circle cx="1100.5" cy="377.3" r="2.75"/>
<circle cx="1204.8" cy="397.5" r="2.75"/>
<circle cx="1104.7" cy="427.9" r="2.75"/>
<circle cx="1061.4" cy="463.2" r="2.75"/>
<circle cx="1059.0" cy="470.0" r="2.75"/>
<circle cx="1065.0" cy="477.8" r="2.75"/>
<circle cx="1060.2" cy="484.6" r="2.75"/>
<circle cx="1082.2" cy="485.0" r="2.75"/>
<circle cx="1123.3" cy="480.2" r="2.75"/>
<circle cx="1128.3" cy="486.6" r="2.75"/>
<circle cx="1131.5" cy="493.4" r="2.75"/>
<circle cx="1111.5" cy="491.2" r="2.75"/>
<circle cx="1085.2" cy="494.4" r="2.75"/>
<circle cx="1115.9" cy="511.2" r="2.75"/>
<circle cx="1088.2" cy="527.1" r="2.75"/>
<circle cx="1078.8" cy="547.5" r="2.75"/>
<circle cx="1068.0" cy="554.3" r="2.75"/>
<circle cx="1092.5" cy="553.3" r="2.75"/>
<circle cx="474.0" cy="482.5" r="2.75"/>
<circle cx="506.1" cy="488.8" r="2.75"/>
<circle cx="564.5" cy="526.1" r="2.75"/>
<circle cx="611.5" cy="480.0" r="2.75"/>
<circle cx="627.8" cy="484.1" r="2.75"/>
<circle cx="636.4" cy="487.6" r="2.75"/>
<circle cx="627.8" cy="501.2" r="2.75"/>
<circle cx="616.2" cy="510.6" r="2.75"/>
<circle cx="632.5" cy="532.3" r="2.75"/>
<circle cx="665.1" cy="489.2" r="2.75"/>
<circle cx="693.7" cy="494.0" r="2.75"/>
<circle cx="726.2" cy="493.9" r="2.75"/>
<circle cx="675.4" cy="500.0" r="2.75"/>
<circle cx="659.1" cy="506.6" r="2.75"/>
<circle cx="690.9" cy="537.5" r="2.75"/>
<circle cx="768.3" cy="492.1" r="2.75"/>
<circle cx="772.0" cy="499.4" r="2.75"/>
<circle cx="775.5" cy="511.0" r="2.75"/>
<circle cx="775.2" cy="514.0" r="2.75"/>
<circle cx="775.8" cy="517.4" r="2.75"/>
<circle cx="826.2" cy="484.8" r="2.75"/>
<circle cx="838.2" cy="486.9" r="2.75"/>
<circle cx="846.3" cy="494.3" r="2.75"/>
<circle cx="819.6" cy="502.3" r="2.75"/>
<circle cx="848.9" cy="506.7" r="2.75"/>
<circle cx="820.2" cy="514.3" r="2.75"/>
<circle cx="819.3" cy="526.7" r="2.75"/>
<circle cx="724.4" cy="561.7" r="2.75"/>
<circle cx="779.6" cy="566.8" r="2.75"/>
<circle cx="791.1" cy="562.4" r="2.75"/>
<circle cx="795.5" cy="569.7" r="2.75"/>
<circle cx="808.6" cy="568.5" r="2.75"/>
<circle cx="820.9" cy="561.4" r="2.75"/>
<circle cx="795.9" cy="582.3" r="2.75"/>
<circle cx="790.2" cy="601.6" r="2.75"/>
<circle cx="814.9" cy="602.4" r="2.75"/>
<circle cx="801.7" cy="615.6" r="2.75"/>
<circle cx="879.6" cy="485.6" r="2.75"/>
<circle cx="862.4" cy="496.7" r="2.75"/>
<circle cx="850.7" cy="506.7" r="2.75"/>
<circle cx="865.1" cy="509.1" r="2.75"/>
<circle cx="855.7" cy="520.2" r="2.75"/>
<circle cx="871.8" cy="526.6" r="2.75"/>
<circle cx="939.0" cy="484.5" r="2.75"/>
<circle cx="972.4" cy="498.7" r="2.75"/>
<circle cx="995.8" cy="485.1" r="2.75"/>
<circle cx="1025.3" cy="481.6" r="2.75"/>
<circle cx="1026.5" cy="488.0" r="2.75"/>
<circle cx="1040.7" cy="492.0" r="2.75"/>
<circle cx="1009.1" cy="493.4" r="2.75"/>
<circle cx="981.9" cy="507.1" r="2.75"/>
<circle cx="986.9" cy="506.3" r="2.75"/>
<circle cx="1036.4" cy="517.6" r="2.75"/>
<circle cx="900.6" cy="521.5" r="2.75"/>
<circle cx="919.4" cy="518.7" r="2.75"/>
<circle cx="919.7" cy="521.0" r="2.75"/>
<circle cx="923.3" cy="527.8" r="2.75"/>
<circle cx="976.7" cy="528.3" r="2.75"/>
<circle cx="972.6" cy="533.1" r="2.75"/>
<circle cx="955.6" cy="543.5" r="2.75"/>
<circle cx="991.7" cy="544.8" r="2.75"/>
<circle cx="904.9" cy="551.6" r="2.75"/>
<circle cx="937.9" cy="559.4" r="2.75"/>
<circle cx="1037.3" cy="554.8" r="2.75"/>
<circle cx="1046.9" cy="555.7" r="2.75"/>
<circle cx="940.6" cy="572.8" r="2.75"/>
<circle cx="961.6" cy="570.1" r="2.75"/>
<circle cx="991.1" cy="571.1" r="2.75"/>
<circle cx="927.7" cy="590.1" r="2.75"/>
<circle cx="943.5" cy="591.0" r="2.75"/>
<circle cx="931.6" cy="595.5" r="2.75"/>
<circle cx="987.9" cy="591.9" r="2.75"/>
<circle cx="928.5" cy="606.0" r="2.75"/>
<circle cx="935.2" cy="605.1" r="2.75"/>
<circle cx="966.0" cy="616.0" r="2.75"/>
<circle cx="887.9" cy="619.5" r="2.75"/>
<circle cx="987.0" cy="629.3" r="2.75"/>
<circle cx="954.0" cy="631.8" r="2.75"/>
<circle cx="854.5" cy="650.4" r="2.75"/>
<circle cx="996.7" cy="644.0" r="2.75"/>
<circle cx="856.5" cy="669.6" r="2.75"/>
<circle cx="908.8" cy="715.3" r="2.75"/>
<circle cx="1094.5" cy="556.4" r="2.75"/>
<circle cx="1095.1" cy="562.0" r="2.75"/>
<circle cx="1081.6" cy="564.8" r="2.75"/>
<circle cx="1093.1" cy="567.0" r="2.75"/>
<circle cx="1099.1" cy="569.6" r="2.75"/>
<circle cx="1114.1" cy="592.5" r="2.75"/>
<circle cx="1296.3" cy="582.4" r="2.75"/>
<circle cx="1166.0" cy="592.2" r="2.75"/>
<circle cx="1262.5" cy="599.3" r="2.75"/>
<circle cx="1057.8" cy="612.5" r="2.75"/>
<circle cx="1058.8" cy="624.5" r="2.75"/>
<circle cx="1091.5" cy="628.1" r="2.75"/>
<circle cx="1095.1" cy="627.1" r="2.75"/>
<circle cx="1101.5" cy="630.5" r="2.75"/>
<circle cx="1081.0" cy="634.1" r="2.75"/>
<circle cx="1047.4" cy="643.0" r="2.75"/>
<circle cx="1019.5" cy="653.8" r="2.75"/>
<circle cx="1001.1" cy="666.1" r="2.75"/>
<circle cx="1048.2" cy="662.1" r="2.75"/>
<circle cx="1076.4" cy="665.0" r="2.75"/>
<circle cx="1095.7" cy="675.2" r="2.75"/>
<circle cx="1022.0" cy="685.5" r="2.75"/>
<circle cx="1075.4" cy="686.7" r="2.75"/>
<circle cx="1136.8" cy="688.8" r="2.75"/>
<circle cx="1134.8" cy="694.4" r="2.75"/>
<circle cx="1143.8" cy="698.1" r="2.75"/>
<circle cx="1102.8" cy="709.8" r="2.75"/>
<circle cx="1121.2" cy="727.8" r="2.75"/>
<circle cx="1125.2" cy="731.5" r="2.75"/>
<circle cx="1051.8" cy="764.9" r="2.75"/>
</g>
<g fill="#00f">
<circle cx="195.9" cy="180.7" r="2.75"/>
<circle cx="276.4" cy="200.3" r="2.75"/>
<circle cx="246.9" cy="219.8" r="2.75"/>
<circle cx="403.7" cy="211.4" r="2.75"/>
<circle cx="373.1" cy="224.2" r="2.75"/>
<circle cx="407.3" cy="229.4" r="2.75"/>
<circle cx="318.4" cy="241.8" r="2.75"/>
<circle cx="325.8" cy="239.8" r="2.75"/>
<circle cx="327.8" cy="241.4" r="2.75"/>
<circle cx="325.8" cy="243.6" r="2.75"/>
<circle cx="366.7" cy="247.8" r="2.75"/>
<circle cx="379.3" cy="251.4" r="2.75"/>
<circle cx="421.6" cy="240.0" r="2.75"/>
<circle cx="440.4" cy="249.4" r="2.75"/>
<circle cx="403.3" cy="267.6" r="2.75"/>
<circle cx="350.1" cy="321.7" r="2.75"/>
<circle cx="540.7" cy="125.8" r="2.75"/>
<circle cx="485.6" cy="137.5" r="2.75"/>
<circle cx="579.6" cy="179.5" r="2.75"/>
<circle cx="490.9" cy="191.7" r="2.75"/>
<circle cx="507.3" cy="199.3" r="2.75"/>
<circle cx="485.4" cy="215.4" r="2.75"/>
<circle cx="495.3" cy="217.2" r="2.75"/>
<circle cx="487.4" cy="223.4" r="2.75"/>
<circle cx="607.6" cy="230.0" r="2.75"/>
<circle cx="529.9" cy="239.2" r="2.75"/>
<circle cx="451.6" cy="245.8" r="2.75"/>
<circle cx="486.9" cy="248.8" r="2.75"/>
<circle cx="522.3" cy="249.2" r="2.75"/>
<circle cx="513.7" cy="254.6" r="2.75"/>
<circle cx="470.0" cy="258.4" r="2.75"/>
<circle cx="525.5" cy="256.4" r="2.75"/>
<circle cx="576.6" cy="256.6" r="2.75"/>
<circle cx="479.0" cy="270.4" r="2.75"/>
<circle cx="519.3" cy="269.4" r="2.75"/>
<circle cx="503.3" cy="273.2" r="2.75"/>
<circle cx="538.3" cy="275.2" r="2.75"/>
<circle cx="740.0" cy="284.9" r="2.75"/>
<circle cx="458.0" cy="287.7" r="2.75"/>
<circle cx="508.5" cy="287.5" r="2.75"/>
<circle cx="515.7" cy="284.3" r="2.75"/>
<circle cx="522.1" cy="282.3" r="2.75"/>
<circle cx="574.8" cy="284.3" r="2.75"/>
<circle cx="554.5" cy="291.9" r="2.75"/>
<circle cx="625.2" cy="291.3" r="2.75"/>
<circle cx="609.8" cy="299.9" r="2.75"/>
<circle cx="603.4" cy="304.5" r="2.75"/>
<circle cx="593.8" cy="316.5" r="2.75"/>
<circle cx="612.2" cy="311.9" r="2.75"/>
<circle cx="621.6" cy="317.5" r="2.75"/>
<circle cx="625.4" cy="322.3" r="2.75"/>
<circle cx="665.3" cy="322.9" r="2.75"/>
<circle cx="713.1" cy="309.1" r="2.75"/>
<circle cx="479.4" cy="307.7" r="2.75"/>
<circle cx="463.0" cy="320.1" r="2.75"/>
<circle cx="525.5" cy="305.5" r="2.75"/>
<circle cx="598.6" cy="323.3" r="2.75"/>
<circle cx="425.4" cy="327.0" r="2.75"/>
<circle cx="405.7" cy="440.8" r="2.75"/>
<circle cx="389.7" cy="460.2" r="2.75"/>
<circle cx="346.3" cy="463.8" r="2.75"/>
<circle cx="397.1" cy="466.4" r="2.75"/>
<circle cx="347.3" cy="477.0" r="2.75"/>
<circle cx="405.5" cy="476.2" r="2.75"/>
<circle cx="402.7" cy="478.2" r="2.75"/>
<circle cx="411.1" cy="486.6" r="2.75"/>
<circle cx="426.4" cy="496.6" r="2.75"/>
<circle cx="419.6" cy="512.6" r="2.75"/>
<circle cx="425.0" cy="513.9" r="2.75"/>
<circle cx="429.6" cy="513.9" r="2.75"/>
<circle cx="373.5" cy="515.1" r="2.75"/>
<circle cx="354.3" cy="523.5" r="2.75"/>
<circle cx="409.6" cy="523.3" r="2.75"/>
<circle cx="431.0" cy="526.5" r="2.75"/>
<circle cx="404.5" cy="531.5" r="2.75"/>
<circle cx="429.4" cy="531.9" r="2.75"/>
<circle cx="398.7" cy="548.7" r="2.75"/>
<circle cx="431.4" cy="548.9" r="2.75"/>
<circle cx="466.1" cy="329.5" r="2.75"/>
<circle cx="587.5" cy="325.0" r="2.75"/>
<circle cx="598.5" cy="324.3" r="2.75"/>
<circle cx="590.2" cy="330.7" r="2.75"/>
<circle cx="625.3" cy="323.3" r="2.75"/>
<circle cx="634.2" cy="370.8" r="2.75"/>
<circle cx="538.8" cy="346.8" r="2.75"/>
<circle cx="504.9" cy="395.1" r="2.75"/>
<circle cx="543.7" cy="412.6" r="2.75"/>
<circle cx="529.3" cy="415.0" r="2.75"/>
<circle cx="504.2" cy="420.1" r="2.75"/>
<circle cx="498.1" cy="429.4" r="2.75"/>
<circle cx="539.3" cy="424.1" r="2.75"/>
<circle cx="456.4" cy="433.3" r="2.75"/>
<circle cx="456.0" cy="446.4" r="2.75"/>
<circle cx="513.3" cy="456.4" r="2.75"/>
<circle cx="492.5" cy="467.5" r="2.75"/>
<circle cx="470.6" cy="469.3" r="2.75"/>
<circle cx="480.8" cy="470.3" r="2.75"/>
<circle cx="584.3" cy="469.3" r="2.75"/>
<circle cx="546.1" cy="476.5" r="2.75"/>
<circle cx="558.8" cy="476.5" r="2.75"/>
<circle cx="563.5" cy="476.8" r="2.75"/>
<circle cx="601.1" cy="392.6" r="2.75"/>
<circle cx="608.6" cy="440.5" r="2.75"/>
<circle cx="615.5" cy="459.4" r="2.75"/>
<circle cx="648.3" cy="475.9" r="2.75"/>
<circle cx="737.0" cy="361.2" r="2.75"/>
<circle cx="724.8" cy="389.8" r="2.75"/>
<circle cx="717.4" cy="396.7" r="2.75"/>
<circle cx="656.0" cy="410.9" r="2.75"/>
<circle cx="660.7" cy="409.8" r="2.75"/>
<circle cx="651.6" cy="436.9" r="2.75"/>
<circle cx="689.4" cy="443.4" r="2.75"/>
<circle cx="746.5" cy="419.3" r="2.75"/>
<circle cx="752.8" cy="425.7" r="2.75"/>
<circle cx="664.3" cy="461.4" r="2.75"/>
<circle cx="754.7" cy="476.5" r="2.75"/>
<circle cx="903.1" cy="344.5" r="2.75"/>
<circle cx="932.9" cy="367.1" r="2.75"/>
<circle cx="956.4" cy="439.8" r="2.75"/>
<circle cx="897.3" cy="448.2" r="2.75"/>
<circle cx="1011.8" cy="476.3" r="2.75"/>
<circle cx="1168.4" cy="431.5" r="2.75"/>
<circle cx="1167.4" cy="442.2" r="2.75"/>
<circle cx="1137.5" cy="448.6" r="2.75"/>
<circle cx="1068.0" cy="454.6" r="2.75"/>
<circle cx="1062.4" cy="491.8" r="2.75"/>
<circle cx="1214.6" cy="532.5" r="2.75"/>
<circle cx="469.1" cy="499.0" r="2.75"/>
<circle cx="471.6" cy="505.8" r="2.75"/>
<circle cx="505.7" cy="508.6" r="2.75"/>
<circle cx="529.8" cy="495.5" r="2.75"/>
<circle cx="527.4" cy="497.8" r="2.75"/>
<circle cx="526.2" cy="502.7" r="2.75"/>
<circle cx="575.1" cy="485.6" r="2.75"/>
<circle cx="585.5" cy="485.7" r="2.75"/>
<circle cx="558.4" cy="491.9" r="2.75"/>
<circle cx="587.2" cy="492.3" r="2.75"/>
<circle cx="570.3" cy="495.4" r="2.75"/>
<circle cx="561.6" cy="498.0" r="2.75"/>
<circle cx="582.6" cy="498.0" r="2.75"/>
<circle cx="593.1" cy="501.6" r="2.75"/>
<circle cx="559.5" cy="501.8" r="2.75"/>
<circle cx="563.9" cy="503.1" r="2.75"/>
<circle cx="578.3" cy="502.8" r="2.75"/>
<circle cx="567.9" cy="506.3" r="2.75"/>
<circle cx="573.5" cy="512.0" r="2.75"/>
<circle cx="568.2" cy="511.4" r="2.75"/>
<circle cx="566.6" cy="513.6" r="2.75"/>
<circle cx="568.3" cy="517.8" r="2.75"/>
<circle cx="591.8" cy="521.4" r="2.75"/>
<circle cx="560.1" cy="526.7" r="2.75"/>
<circle cx="561.6" cy="534.9" r="2.75"/>
<circle cx="579.6" cy="530.5" r="2.75"/>
<circle cx="577.2" cy="535.8" r="2.75"/>
<circle cx="574.3" cy="538.5" r="2.75"/>
<circle cx="591.5" cy="538.1" r="2.75"/>
<circle cx="599.1" cy="542.4" r="2.75"/>
<circle cx="608.2" cy="546.8" r="2.75"/>
<circle cx="612.9" cy="512.9" r="2.75"/>
<circle cx="643.9" cy="528.6" r="2.75"/>
<circle cx="639.3" cy="557.0" r="2.75"/>
<circle cx="633.2" cy="569.9" r="2.75"/>
<circle cx="522.0" cy="516.6" r="2.75"/>
<circle cx="514.4" cy="517.6" r="2.75"/>
<circle cx="503.7" cy="518.3" r="2.75"/>
<circle cx="496.1" cy="521.4" r="2.75"/>
<circle cx="500.7" cy="525.4" r="2.75"/>
<circle cx="510.1" cy="523.4" r="2.75"/>
<circle cx="513.0" cy="523.4" r="2.75"/>
<circle cx="508.3" cy="530.9" r="2.75"/>
<circle cx="498.3" cy="535.1" r="2.75"/>
<circle cx="506.1" cy="539.4" r="2.75"/>
<circle cx="508.5" cy="539.1" r="2.75"/>
<circle cx="510.8" cy="541.4" r="2.75"/>
<circle cx="475.6" cy="520.5" r="2.75"/>
<circle cx="480.3" cy="523.9" r="2.75"/>
<circle cx="498.1" cy="550.5" r="2.75"/>
<circle cx="464.8" cy="553.6" r="2.75"/>
<circle cx="542.3" cy="537.8" r="2.75"/>
<circle cx="543.5" cy="544.8" r="2.75"/>
<circle cx="544.5" cy="547.2" r="2.75"/>
<circle cx="538.2" cy="550.0" r="2.75"/>
<circle cx="526.0" cy="558.5" r="2.75"/>
<circle cx="522.9" cy="562.4" r="2.75"/>
<circle cx="572.3" cy="555.4" r="2.75"/>
<circle cx="539.5" cy="570.1" r="2.75"/>
<circle cx="542.4" cy="575.3" r="2.75"/>
<circle cx="565.6" cy="573.3" r="2.75"/>
<circle cx="613.7" cy="583.7" r="2.75"/>
<circle cx="562.8" cy="591.6" r="2.75"/>
<circle cx="459.9" cy="575.1" r="2.75"/>
<circle cx="481.6" cy="574.0" r="2.75"/>
<circle cx="462.6" cy="591.5" r="2.75"/>
<circle cx="482.8" cy="589.2" r="2.75"/>
<circle cx="508.9" cy="601.8" r="2.75"/>
<circle cx="481.4" cy="607.5" r="2.75"/>
<circle cx="452.7" cy="614.7" r="2.75"/>
<circle cx="545.9" cy="603.5" r="2.75"/>
<circle cx="550.8" cy="606.2" r="2.75"/>
<circle cx="552.1" cy="622.1" r="2.75"/>
<circle cx="558.1" cy="621.4" r="2.75"/>
<circle cx="582.7" cy="610.4" r="2.75"/>
<circle cx="581.4" cy="619.3" r="2.75"/>
<circle cx="673.8" cy="484.7" r="2.75"/>
<circle cx="670.6" cy="489.5" r="2.75"/>
<circle cx="722.4" cy="509.2" r="2.75"/>
<circle cx="654.4" cy="527.1" r="2.75"/>
<circle cx="664.4" cy="536.5" r="2.75"/>
<circle cx="710.8" cy="555.4" r="2.75"/>
<circle cx="824.5" cy="562.4" r="2.75"/>
<circle cx="838.4" cy="599.0" r="2.75"/>
<circle cx="681.0" cy="604.7" r="2.75"/>
<circle cx="703.8" cy="609.9" r="2.75"/>
<circle cx="679.4" cy="620.5" r="2.75"/>
<circle cx="708.1" cy="623.8" r="2.75"/>
<circle cx="727.0" cy="631.8" r="2.75"/>
<circle cx="885.5" cy="487.2" r="2.75"/>
<circle cx="906.7" cy="527.3" r="2.75"/>
<circle cx="866.6" cy="547.2" r="2.75"/>
<circle cx="924.8" cy="546.1" r="2.75"/>
<circle cx="1035.7" cy="568.2" r="2.75"/>
<circle cx="1034.2" cy="577.9" r="2.75"/>
<circle cx="869.5" cy="578.3" r="2.75"/>
<circle cx="871.4" cy="595.5" r="2.75"/>
<circle cx="994.3" cy="609.9" r="2.75"/>
<circle cx="1042.8" cy="631.5" r="2.75"/>
<circle cx="391.1" cy="563.0" r="2.75"/>
<circle cx="440.2" cy="561.4" r="2.75"/>
<circle cx="447.4" cy="563.0" r="2.75"/>
<circle cx="443.4" cy="575.6" r="2.75"/>
<circle cx="447.2" cy="577.6" r="2.75"/>
<circle cx="436.2" cy="583.0" r="2.75"/>
<circle cx="435.4" cy="593.2" r="2.75"/>
<circle cx="941.3" cy="636.0" r="2.75"/>
<circle cx="891.2" cy="646.4" r="2.75"/>
<circle cx="941.3" cy="647.4" r="2.75"/>
<circle cx="890.6" cy="658.0" r="2.75"/>
<circle cx="871.6" cy="668.0" r="2.75"/>
<circle cx="864.0" cy="672.5" r="2.75"/>
<circle cx="1151.3" cy="601.9" r="2.75"/>
<circle cx="1096.3" cy="623.7" r="2.75"/>
<circle cx="1083.0" cy="628.5" r="2.75"/>
<circle cx="1081.0" cy="630.5" r="2.75"/>
<circle cx="1112.9" cy="628.3" r="2.75"/>
<circle cx="1348.4" cy="632.1" r="2.75"/>
<circle cx="1004.4" cy="654.6" r="2.75"/>
<circle cx="1130.3" cy="674.9" r="2.75"/>
<circle cx="1142.9" cy="671.0" r="2.75"/>
<circle cx="1153.9" cy="671.9" r="2.75"/>
<circle cx="1181.0" cy="674.9" r="2.75"/>
<circle cx="1009.4" cy="677.1" r="2.75"/>
<circle cx="1137.5" cy="694.7" r="2.75"/>
<circle cx="1176.2" cy="694.4" r="2.75"/>
<circle cx="1179.6" cy="694.4" r="2.75"/>
<circle cx="1184.7" cy="694.4" r="2.75"/>
<circle cx="1170.5" cy="704.8" r="2.75"/>
<circle cx="1180.2" cy="718.2" r="2.75"/>
<circle cx="1181.3" cy="728.5" r="2.75"/>
<circle cx="1191.3" cy="747.8" r="2.75"/>
<circle cx="1188.7" cy="754.1" r="2.75"/>
<circle cx="1170.2" cy="759.6" r="2.75"/>
<circle cx="1197.6" cy="760.5" r="2.75"/>
<circle cx="1180.2" cy="766.1" r="2.75"/>
<circle cx="1132.4" cy="759.2" r="2.75"/>
<circle cx="1131.6" cy="751.4" r="2.75"/>
<circle cx="1100.1" cy="733.1" r="2.75"/>
<circle cx="1159.3" cy="778.5" r="2.75"/>
<circle cx="1100.1" cy="733.1" r="2.75"/>
<circle cx="1131.6" cy="751.4" r="2.75"/>
<circle cx="1132.4" cy="759.2" r="2.75"/>
<circle cx="1159.3" cy="778.5" r="2.75"/>
<circle cx="1269.2" cy="660.5" r="2.75"/>
<circle cx="1297.5" cy="656.8" r="2.75"/>
<circle cx="1307.6" cy="653.7" r="2.75"/>
<circle cx="1326.0" cy="654.4" r="2.75"/>
<circle cx="1322.0" cy="666.4" r="2.75"/>
<circle cx="1226.3" cy="681.1" r="2.75"/>
<circle cx="1221.6" cy="688.9" r="2.75"/>
<circle cx="1306.3" cy="685.6" r="2.75"/>
<circle cx="1300.4" cy="695.4" r="2.75"/>
<circle cx="1234.0" cy="695.1" r="2.75"/>
<circle cx="1226.0" cy="700.8" r="2.75"/>
<circle cx="1220.7" cy="703.8" r="2.75"/>
<circle cx="1230.0" cy="708.4" r="2.75"/>
<circle cx="1226.0" cy="710.0" r="2.75"/>
<circle cx="1211.8" cy="709.5" r="2.75"/>
<circle cx="1217.4" cy="717.4" r="2.75"/>
<circle cx="1241.1" cy="717.1" r="2.75"/>
<circle cx="1345.4" cy="702.0" r="2.75"/>
<circle cx="1327.2" cy="714.2" r="2.75"/>
<circle cx="1352.1" cy="723.4" r="2.75"/>
<circle cx="1203.7" cy="733.7" r="2.75"/>
<circle cx="1318.3" cy="735.0" r="2.75"/>
<circle cx="1229.1" cy="747.5" r="2.75"/>
<circle cx="1253.4" cy="765.7" r="2.75"/>
<circle cx="1217.5" cy="765.7" r="2.75"/>
<circle cx="1231.4" cy="770.5" r="2.75"/>
<circle cx="1246.2" cy="794.0" r="2.75"/>
<circle cx="1267.0" cy="811.1" r="2.75"/>
<circle cx="1251.0" cy="899.5" r="2.75"/>
</g>
<g stroke="#262626" stroke-width="1.7" fill="none">
<rect x="130.1" y="12.0" width="1335.5" height="1055.4"/>
<path d="M142.8 1067.4v-14.5M142.8 12.0v14.5M407.0 1067.4v-14.5M407.0 12.0v14.5M671.1 1067.4v-14.5M671.1 12.0v14.5M935.3 1067.4v-14.5M935.3 12.0v14.5M1199.4 1067.4v-14.5M1199.4 12.0v14.5M1463.6 1067.4v-14.5M1463.6 12.0v14.5M130.1 1067.4h14.5M1465.6 1067.4h-14.5M130.1 935.5h14.5M1465.6 935.5h-14.5M130.1 803.6h14.5M1465.6 803.6h-14.5M130.1 671.6h14.5M1465.6 671.6h-14.5M130.1 539.7h14.5M1465.6 539.7h-14.5M130.1 407.8h14.5M1465.6 407.8h-14.5M130.1 275.9h14.5M1465.6 275.9h-14.5M130.1 143.9h14.5M1465.6 143.9h-14.5M130.1 12.0h14.5M1465.6 12.0h-14.5"/></g>
<g fill="#262626" font-size="30">
<text transform="translate(142.0 1111.7) scale(1.04 1.075)" text-anchor="middle">0</text>
<text transform="translate(405.0 1111.7) scale(1.04 1.075)" text-anchor="middle">0.005</text>
<text transform="translate(669.1 1111.7) scale(1.04 1.075)" text-anchor="middle">0.01</text>
<text transform="translate(933.3 1111.7) scale(1.04 1.075)" text-anchor="middle">0.015</text>
<text transform="translate(1197.4 1111.7) scale(1.04 1.075)" text-anchor="middle">0.02</text>
<text transform="translate(1461.6 1111.7) scale(1.04 1.075)" text-anchor="middle">0.025</text>
<text transform="translate(116.6 1078.9) scale(1.04 1.075)" text-anchor="end">-0.03</text>
<text transform="translate(116.6 947.0) scale(1.04 1.075)" text-anchor="end">-0.02</text>
<text transform="translate(116.6 815.1) scale(1.04 1.075)" text-anchor="end">-0.01</text>
<text transform="translate(116.6 683.1) scale(1.04 1.075)" text-anchor="end">0</text>
<text transform="translate(116.6 551.2) scale(1.04 1.075)" text-anchor="end">0.01</text>
<text transform="translate(116.6 419.3) scale(1.04 1.075)" text-anchor="end">0.02</text>
<text transform="translate(116.6 287.4) scale(1.04 1.075)" text-anchor="end">0.03</text>
<text transform="translate(116.6 155.4) scale(1.04 1.075)" text-anchor="end">0.04</text>
<text transform="translate(116.6 23.5) scale(1.04 1.075)" text-anchor="end">0.05</text>
</g>
<text y="1158.7" font-size="36" fill="#000" stroke="#000" stroke-width="0.7" lengthAdjust="spacingAndGlyphs"><tspan x="697.5" textLength="63" lengthAdjust="spacingAndGlyphs">PC1</tspan> <tspan x="771" textLength="129.5" lengthAdjust="spacingAndGlyphs">(79.1%)</tspan></text>
<text transform="translate(29.3 538) rotate(-90)" y="0" font-size="36" fill="#000" stroke="#000" stroke-width="0.7" lengthAdjust="spacingAndGlyphs"><tspan x="-101.2" textLength="63" lengthAdjust="spacingAndGlyphs">PC2</tspan> <tspan x="-27.7" textLength="129.5" lengthAdjust="spacingAndGlyphs">(11.0%)</tspan></text>
<rect x="1163.2" y="42.7" width="271.9" height="116.9" fill="#fff" stroke="#262626" stroke-width="1.4"/>
<circle cx="1222.2" cy="66.1" r="2.9" fill="#f00"/>
<text transform="translate(1276.8 76.7) scale(1.04 1)" font-size="27" fill="#000">Cerebrum</text>
<circle cx="1222.2" cy="101.5" r="2.9" fill="#0f0"/>
<text transform="translate(1276.8 112.2) scale(1.04 1)" font-size="27" fill="#000">Brainstem</text>
<circle cx="1222.2" cy="136.9" r="2.9" fill="#00f"/>
<text transform="translate(1276.8 147.6) scale(1.04 1)" font-size="27" fill="#000">Cerebellum</text>
</svg></body></html>
